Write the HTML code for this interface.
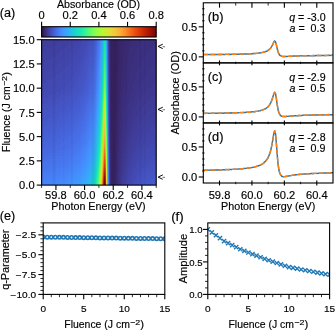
<!DOCTYPE html>
<html><head><meta charset="utf-8"><style>html,body{margin:0;padding:0;background:#fff;width:335px;height:330px;overflow:hidden}text{stroke:#000;stroke-width:0.15px}</style></head><body>
<svg width="335" height="330" viewBox="0 0 335 330" font-family="Liberation Sans, sans-serif" style="display:block;will-change:transform">
<rect width="335" height="330" fill="#fff"/>
<defs><linearGradient id="h0"><stop offset="0%" stop-color="#3f3e9c"/><stop offset="17%" stop-color="#3f3e9c"/><stop offset="17.13%" stop-color="#4040a2"/><stop offset="26.31%" stop-color="#4040a2"/><stop offset="26.44%" stop-color="#4143a7"/><stop offset="31.88%" stop-color="#4143a7"/><stop offset="32%" stop-color="#4146ac"/><stop offset="35.56%" stop-color="#4146ac"/><stop offset="35.69%" stop-color="#4249b1"/><stop offset="38.25%" stop-color="#4249b1"/><stop offset="38.38%" stop-color="#424bb5"/><stop offset="40.25%" stop-color="#424bb5"/><stop offset="40.38%" stop-color="#434eba"/><stop offset="41.81%" stop-color="#434eba"/><stop offset="42%" stop-color="#4451bf"/><stop offset="43.06%" stop-color="#4451bf"/><stop offset="43.25%" stop-color="#4454c3"/><stop offset="44.13%" stop-color="#4454c3"/><stop offset="44.31%" stop-color="#4456c7"/><stop offset="45%" stop-color="#4456c7"/><stop offset="45.19%" stop-color="#4559cb"/><stop offset="45.75%" stop-color="#4559cb"/><stop offset="46%" stop-color="#455ccf"/><stop offset="46.38%" stop-color="#455ccf"/><stop offset="46.69%" stop-color="#455ed3"/><stop offset="49.5%" stop-color="#4771e9"/><stop offset="51.25%" stop-color="#4687fb"/><stop offset="52.44%" stop-color="#3ba0fd"/><stop offset="53.37%" stop-color="#28bceb"/><stop offset="54.31%" stop-color="#18d9c8"/><stop offset="55.06%" stop-color="#19e3b9"/><stop offset="55.5%" stop-color="#18e0bd"/><stop offset="55.94%" stop-color="#1ad4d0"/><stop offset="56.44%" stop-color="#2eb4f2"/><stop offset="56.81%" stop-color="#4196ff"/><stop offset="57.19%" stop-color="#467df4"/><stop offset="57.88%" stop-color="#4456c7"/><stop offset="58.25%" stop-color="#4146ac"/><stop offset="58.37%" stop-color="#4143a7"/><stop offset="58.63%" stop-color="#3f3b97"/><stop offset="58.94%" stop-color="#3d358b"/><stop offset="59.06%" stop-color="#3c3286"/><stop offset="59.12%" stop-color="#3c3286"/><stop offset="59.19%" stop-color="#3b2f80"/><stop offset="59.31%" stop-color="#3b2f80"/><stop offset="59.38%" stop-color="#3a2d79"/><stop offset="59.5%" stop-color="#3a2d79"/><stop offset="59.56%" stop-color="#392a73"/><stop offset="59.81%" stop-color="#392a73"/><stop offset="59.87%" stop-color="#38276d"/><stop offset="60.13%" stop-color="#38276d"/><stop offset="60.19%" stop-color="#372466"/><stop offset="60.75%" stop-color="#372466"/><stop offset="60.81%" stop-color="#36215f"/><stop offset="65.94%" stop-color="#36215f"/><stop offset="66%" stop-color="#372466"/><stop offset="69%" stop-color="#372466"/><stop offset="69.06%" stop-color="#38276d"/><stop offset="72.81%" stop-color="#38276d"/><stop offset="72.87%" stop-color="#392a73"/><stop offset="78.25%" stop-color="#392a73"/><stop offset="78.31%" stop-color="#3a2d79"/><stop offset="86.94%" stop-color="#3a2d79"/><stop offset="87%" stop-color="#3b2f80"/><stop offset="100%" stop-color="#3b2f80"/></linearGradient><linearGradient id="h1"><stop offset="0%" stop-color="#3f3e9c"/><stop offset="13.63%" stop-color="#3f3e9c"/><stop offset="13.75%" stop-color="#4040a2"/><stop offset="24.25%" stop-color="#4040a2"/><stop offset="24.38%" stop-color="#4143a7"/><stop offset="30.5%" stop-color="#4143a7"/><stop offset="30.62%" stop-color="#4146ac"/><stop offset="34.56%" stop-color="#4146ac"/><stop offset="34.69%" stop-color="#4249b1"/><stop offset="37.44%" stop-color="#4249b1"/><stop offset="37.56%" stop-color="#424bb5"/><stop offset="39.56%" stop-color="#424bb5"/><stop offset="39.69%" stop-color="#434eba"/><stop offset="41.25%" stop-color="#434eba"/><stop offset="41.44%" stop-color="#4451bf"/><stop offset="42.63%" stop-color="#4451bf"/><stop offset="42.81%" stop-color="#4454c3"/><stop offset="43.69%" stop-color="#4454c3"/><stop offset="43.87%" stop-color="#4456c7"/><stop offset="44.62%" stop-color="#4456c7"/><stop offset="44.81%" stop-color="#4559cb"/><stop offset="45.37%" stop-color="#4559cb"/><stop offset="45.63%" stop-color="#455ccf"/><stop offset="46.06%" stop-color="#455ccf"/><stop offset="46.38%" stop-color="#455ed3"/><stop offset="48.75%" stop-color="#466be3"/><stop offset="50.81%" stop-color="#4682f8"/><stop offset="52.13%" stop-color="#3e9bfe"/><stop offset="52.94%" stop-color="#2fb2f4"/><stop offset="53.75%" stop-color="#1ecbda"/><stop offset="54.56%" stop-color="#18e0bd"/><stop offset="55.25%" stop-color="#1ce6b4"/><stop offset="55.81%" stop-color="#18dbc5"/><stop offset="56.25%" stop-color="#22c5e2"/><stop offset="56.69%" stop-color="#3aa3fc"/><stop offset="57%" stop-color="#458cfd"/><stop offset="57.5%" stop-color="#466be3"/><stop offset="58.12%" stop-color="#424bb5"/><stop offset="58.25%" stop-color="#4249b1"/><stop offset="58.44%" stop-color="#4040a2"/><stop offset="58.69%" stop-color="#3f3b97"/><stop offset="58.94%" stop-color="#3d358b"/><stop offset="59.12%" stop-color="#3c3286"/><stop offset="59.19%" stop-color="#3b2f80"/><stop offset="59.31%" stop-color="#3b2f80"/><stop offset="59.38%" stop-color="#3a2d79"/><stop offset="59.56%" stop-color="#3a2d79"/><stop offset="59.62%" stop-color="#392a73"/><stop offset="59.81%" stop-color="#392a73"/><stop offset="59.87%" stop-color="#38276d"/><stop offset="60.19%" stop-color="#38276d"/><stop offset="60.25%" stop-color="#372466"/><stop offset="60.75%" stop-color="#372466"/><stop offset="60.81%" stop-color="#36215f"/><stop offset="65.88%" stop-color="#36215f"/><stop offset="65.94%" stop-color="#372466"/><stop offset="68.81%" stop-color="#372466"/><stop offset="68.87%" stop-color="#38276d"/><stop offset="72.5%" stop-color="#38276d"/><stop offset="72.56%" stop-color="#392a73"/><stop offset="77.62%" stop-color="#392a73"/><stop offset="77.69%" stop-color="#3a2d79"/><stop offset="85.62%" stop-color="#3a2d79"/><stop offset="85.69%" stop-color="#3b2f80"/><stop offset="100%" stop-color="#3b2f80"/></linearGradient><linearGradient id="h2"><stop offset="0%" stop-color="#3f3e9c"/><stop offset="9.25%" stop-color="#3f3e9c"/><stop offset="9.38%" stop-color="#4040a2"/><stop offset="21.81%" stop-color="#4040a2"/><stop offset="21.94%" stop-color="#4143a7"/><stop offset="28.81%" stop-color="#4143a7"/><stop offset="28.94%" stop-color="#4146ac"/><stop offset="33.37%" stop-color="#4146ac"/><stop offset="33.5%" stop-color="#4249b1"/><stop offset="36.5%" stop-color="#4249b1"/><stop offset="36.62%" stop-color="#424bb5"/><stop offset="38.81%" stop-color="#424bb5"/><stop offset="38.94%" stop-color="#434eba"/><stop offset="40.62%" stop-color="#434eba"/><stop offset="40.81%" stop-color="#4451bf"/><stop offset="42.06%" stop-color="#4451bf"/><stop offset="42.25%" stop-color="#4454c3"/><stop offset="43.25%" stop-color="#4454c3"/><stop offset="43.44%" stop-color="#4456c7"/><stop offset="44.19%" stop-color="#4456c7"/><stop offset="44.37%" stop-color="#4559cb"/><stop offset="45%" stop-color="#4559cb"/><stop offset="45.25%" stop-color="#455ccf"/><stop offset="45.75%" stop-color="#455ccf"/><stop offset="46.06%" stop-color="#455ed3"/><stop offset="46.38%" stop-color="#455ed3"/><stop offset="46.69%" stop-color="#4661d6"/><stop offset="49.13%" stop-color="#4771e9"/><stop offset="51.31%" stop-color="#458cfd"/><stop offset="52.44%" stop-color="#38a5fb"/><stop offset="53.31%" stop-color="#25c0e7"/><stop offset="54.19%" stop-color="#18dbc5"/><stop offset="54.88%" stop-color="#1de7b2"/><stop offset="55.37%" stop-color="#1de7b2"/><stop offset="55.94%" stop-color="#18d9c8"/><stop offset="56.38%" stop-color="#27bee9"/><stop offset="56.75%" stop-color="#3ba0fd"/><stop offset="57.06%" stop-color="#458afc"/><stop offset="57.62%" stop-color="#4666dd"/><stop offset="58.37%" stop-color="#4143a7"/><stop offset="58.5%" stop-color="#4040a2"/><stop offset="59.25%" stop-color="#3b2f80"/><stop offset="59.31%" stop-color="#3b2f80"/><stop offset="59.38%" stop-color="#3a2d79"/><stop offset="59.56%" stop-color="#3a2d79"/><stop offset="59.62%" stop-color="#392a73"/><stop offset="59.81%" stop-color="#392a73"/><stop offset="59.87%" stop-color="#38276d"/><stop offset="60.19%" stop-color="#38276d"/><stop offset="60.25%" stop-color="#372466"/><stop offset="60.75%" stop-color="#372466"/><stop offset="60.81%" stop-color="#36215f"/><stop offset="65.81%" stop-color="#36215f"/><stop offset="65.88%" stop-color="#372466"/><stop offset="68.69%" stop-color="#372466"/><stop offset="68.75%" stop-color="#38276d"/><stop offset="72.19%" stop-color="#38276d"/><stop offset="72.25%" stop-color="#392a73"/><stop offset="77%" stop-color="#392a73"/><stop offset="77.06%" stop-color="#3a2d79"/><stop offset="84.37%" stop-color="#3a2d79"/><stop offset="84.44%" stop-color="#3b2f80"/><stop offset="97.5%" stop-color="#3b2f80"/><stop offset="97.56%" stop-color="#3c3286"/><stop offset="100%" stop-color="#3c3286"/></linearGradient><linearGradient id="h3"><stop offset="0%" stop-color="#3f3e9c"/><stop offset="4.19%" stop-color="#3f3e9c"/><stop offset="4.31%" stop-color="#4040a2"/><stop offset="19%" stop-color="#4040a2"/><stop offset="19.12%" stop-color="#4143a7"/><stop offset="27%" stop-color="#4143a7"/><stop offset="27.12%" stop-color="#4146ac"/><stop offset="32.06%" stop-color="#4146ac"/><stop offset="32.19%" stop-color="#4249b1"/><stop offset="35.5%" stop-color="#4249b1"/><stop offset="35.62%" stop-color="#424bb5"/><stop offset="38%" stop-color="#424bb5"/><stop offset="38.12%" stop-color="#434eba"/><stop offset="39.94%" stop-color="#434eba"/><stop offset="40.12%" stop-color="#4451bf"/><stop offset="41.5%" stop-color="#4451bf"/><stop offset="41.69%" stop-color="#4454c3"/><stop offset="42.75%" stop-color="#4454c3"/><stop offset="42.94%" stop-color="#4456c7"/><stop offset="43.75%" stop-color="#4456c7"/><stop offset="43.94%" stop-color="#4559cb"/><stop offset="44.62%" stop-color="#4559cb"/><stop offset="44.88%" stop-color="#455ccf"/><stop offset="45.37%" stop-color="#455ccf"/><stop offset="45.69%" stop-color="#455ed3"/><stop offset="46%" stop-color="#455ed3"/><stop offset="46.31%" stop-color="#4661d6"/><stop offset="48.62%" stop-color="#476ee6"/><stop offset="50.69%" stop-color="#4685fa"/><stop offset="52%" stop-color="#3d9efe"/><stop offset="52.81%" stop-color="#2eb4f2"/><stop offset="53.69%" stop-color="#1bd0d5"/><stop offset="54.44%" stop-color="#19e3b9"/><stop offset="55%" stop-color="#20eaac"/><stop offset="55.44%" stop-color="#1fe9af"/><stop offset="55.87%" stop-color="#18dec0"/><stop offset="56.31%" stop-color="#20c7df"/><stop offset="56.75%" stop-color="#3aa3fc"/><stop offset="57.06%" stop-color="#458cfd"/><stop offset="57.5%" stop-color="#476ee6"/><stop offset="58.25%" stop-color="#4249b1"/><stop offset="58.37%" stop-color="#4146ac"/><stop offset="58.5%" stop-color="#4040a2"/><stop offset="58.63%" stop-color="#3f3e9c"/><stop offset="59.12%" stop-color="#3c3286"/><stop offset="59.19%" stop-color="#3c3286"/><stop offset="59.25%" stop-color="#3b2f80"/><stop offset="59.38%" stop-color="#3b2f80"/><stop offset="59.44%" stop-color="#3a2d79"/><stop offset="59.56%" stop-color="#3a2d79"/><stop offset="59.62%" stop-color="#392a73"/><stop offset="59.81%" stop-color="#392a73"/><stop offset="59.87%" stop-color="#38276d"/><stop offset="60.19%" stop-color="#38276d"/><stop offset="60.25%" stop-color="#372466"/><stop offset="60.75%" stop-color="#372466"/><stop offset="60.81%" stop-color="#36215f"/><stop offset="65.75%" stop-color="#36215f"/><stop offset="65.81%" stop-color="#372466"/><stop offset="68.5%" stop-color="#372466"/><stop offset="68.56%" stop-color="#38276d"/><stop offset="71.87%" stop-color="#38276d"/><stop offset="71.94%" stop-color="#392a73"/><stop offset="76.44%" stop-color="#392a73"/><stop offset="76.5%" stop-color="#3a2d79"/><stop offset="83.25%" stop-color="#3a2d79"/><stop offset="83.31%" stop-color="#3b2f80"/><stop offset="94.94%" stop-color="#3b2f80"/><stop offset="95%" stop-color="#3c3286"/><stop offset="100%" stop-color="#3c3286"/></linearGradient><linearGradient id="h4"><stop offset="0%" stop-color="#4040a2"/><stop offset="15.81%" stop-color="#4040a2"/><stop offset="15.94%" stop-color="#4143a7"/><stop offset="25%" stop-color="#4143a7"/><stop offset="25.13%" stop-color="#4146ac"/><stop offset="30.62%" stop-color="#4146ac"/><stop offset="30.75%" stop-color="#4249b1"/><stop offset="34.44%" stop-color="#4249b1"/><stop offset="34.56%" stop-color="#424bb5"/><stop offset="37.19%" stop-color="#424bb5"/><stop offset="37.31%" stop-color="#434eba"/><stop offset="39.25%" stop-color="#434eba"/><stop offset="39.44%" stop-color="#4451bf"/><stop offset="40.87%" stop-color="#4451bf"/><stop offset="41.06%" stop-color="#4454c3"/><stop offset="42.19%" stop-color="#4454c3"/><stop offset="42.37%" stop-color="#4456c7"/><stop offset="43.31%" stop-color="#4456c7"/><stop offset="43.5%" stop-color="#4559cb"/><stop offset="44.25%" stop-color="#4559cb"/><stop offset="44.5%" stop-color="#455ccf"/><stop offset="45%" stop-color="#455ccf"/><stop offset="45.31%" stop-color="#455ed3"/><stop offset="45.69%" stop-color="#455ed3"/><stop offset="46%" stop-color="#4661d6"/><stop offset="48.06%" stop-color="#466be3"/><stop offset="50.37%" stop-color="#4682f8"/><stop offset="51.81%" stop-color="#3e9bfe"/><stop offset="52.81%" stop-color="#2cb7f0"/><stop offset="53.87%" stop-color="#18d9c8"/><stop offset="54.62%" stop-color="#1fe9af"/><stop offset="55%" stop-color="#25eca7"/><stop offset="55.44%" stop-color="#22ebaa"/><stop offset="55.94%" stop-color="#18dec0"/><stop offset="56.31%" stop-color="#1fc9dd"/><stop offset="56.81%" stop-color="#3ba0fd"/><stop offset="57.13%" stop-color="#458afc"/><stop offset="57.62%" stop-color="#4669e0"/><stop offset="57.94%" stop-color="#4559cb"/><stop offset="58.12%" stop-color="#434eba"/><stop offset="58.25%" stop-color="#424bb5"/><stop offset="58.44%" stop-color="#4143a7"/><stop offset="58.56%" stop-color="#4040a2"/><stop offset="58.81%" stop-color="#3e3891"/><stop offset="59.06%" stop-color="#3d358b"/><stop offset="59.31%" stop-color="#3b2f80"/><stop offset="59.38%" stop-color="#3b2f80"/><stop offset="59.44%" stop-color="#3a2d79"/><stop offset="59.56%" stop-color="#3a2d79"/><stop offset="59.62%" stop-color="#392a73"/><stop offset="59.87%" stop-color="#392a73"/><stop offset="59.94%" stop-color="#38276d"/><stop offset="60.19%" stop-color="#38276d"/><stop offset="60.25%" stop-color="#372466"/><stop offset="60.75%" stop-color="#372466"/><stop offset="60.81%" stop-color="#36215f"/><stop offset="65.69%" stop-color="#36215f"/><stop offset="65.75%" stop-color="#372466"/><stop offset="68.37%" stop-color="#372466"/><stop offset="68.44%" stop-color="#38276d"/><stop offset="71.56%" stop-color="#38276d"/><stop offset="71.63%" stop-color="#392a73"/><stop offset="75.87%" stop-color="#392a73"/><stop offset="75.94%" stop-color="#3a2d79"/><stop offset="82.25%" stop-color="#3a2d79"/><stop offset="82.31%" stop-color="#3b2f80"/><stop offset="92.75%" stop-color="#3b2f80"/><stop offset="92.81%" stop-color="#3c3286"/><stop offset="100%" stop-color="#3c3286"/></linearGradient><linearGradient id="h5"><stop offset="0%" stop-color="#4040a2"/><stop offset="12.19%" stop-color="#4040a2"/><stop offset="12.31%" stop-color="#4143a7"/><stop offset="22.75%" stop-color="#4143a7"/><stop offset="22.87%" stop-color="#4146ac"/><stop offset="29.06%" stop-color="#4146ac"/><stop offset="29.19%" stop-color="#4249b1"/><stop offset="33.25%" stop-color="#4249b1"/><stop offset="33.37%" stop-color="#424bb5"/><stop offset="36.25%" stop-color="#424bb5"/><stop offset="36.37%" stop-color="#434eba"/><stop offset="38.5%" stop-color="#434eba"/><stop offset="38.69%" stop-color="#4451bf"/><stop offset="40.25%" stop-color="#4451bf"/><stop offset="40.44%" stop-color="#4454c3"/><stop offset="41.69%" stop-color="#4454c3"/><stop offset="41.88%" stop-color="#4456c7"/><stop offset="42.81%" stop-color="#4456c7"/><stop offset="43%" stop-color="#4559cb"/><stop offset="43.81%" stop-color="#4559cb"/><stop offset="44.06%" stop-color="#455ccf"/><stop offset="44.62%" stop-color="#455ccf"/><stop offset="44.94%" stop-color="#455ed3"/><stop offset="45.37%" stop-color="#455ed3"/><stop offset="45.69%" stop-color="#4661d6"/><stop offset="48.56%" stop-color="#4771e9"/><stop offset="50.56%" stop-color="#4687fb"/><stop offset="51.87%" stop-color="#3ba0fd"/><stop offset="52.69%" stop-color="#2cb7f0"/><stop offset="53.63%" stop-color="#1ad4d0"/><stop offset="54.31%" stop-color="#1ce6b4"/><stop offset="55%" stop-color="#2aefa1"/><stop offset="55.44%" stop-color="#27eea4"/><stop offset="56%" stop-color="#18dec0"/><stop offset="56.38%" stop-color="#20c7df"/><stop offset="56.81%" stop-color="#3aa3fc"/><stop offset="57.13%" stop-color="#458afc"/><stop offset="57.56%" stop-color="#476ee6"/><stop offset="58.19%" stop-color="#434eba"/><stop offset="58.44%" stop-color="#4143a7"/><stop offset="58.56%" stop-color="#4040a2"/><stop offset="59.31%" stop-color="#3b2f80"/><stop offset="59.38%" stop-color="#3b2f80"/><stop offset="59.44%" stop-color="#3a2d79"/><stop offset="59.62%" stop-color="#3a2d79"/><stop offset="59.69%" stop-color="#392a73"/><stop offset="59.87%" stop-color="#392a73"/><stop offset="59.94%" stop-color="#38276d"/><stop offset="60.25%" stop-color="#38276d"/><stop offset="60.31%" stop-color="#372466"/><stop offset="60.75%" stop-color="#372466"/><stop offset="60.81%" stop-color="#36215f"/><stop offset="65.62%" stop-color="#36215f"/><stop offset="65.69%" stop-color="#372466"/><stop offset="68.25%" stop-color="#372466"/><stop offset="68.31%" stop-color="#38276d"/><stop offset="71.31%" stop-color="#38276d"/><stop offset="71.37%" stop-color="#392a73"/><stop offset="75.44%" stop-color="#392a73"/><stop offset="75.5%" stop-color="#3a2d79"/><stop offset="81.31%" stop-color="#3a2d79"/><stop offset="81.37%" stop-color="#3b2f80"/><stop offset="90.81%" stop-color="#3b2f80"/><stop offset="90.87%" stop-color="#3c3286"/><stop offset="100%" stop-color="#3c3286"/></linearGradient><linearGradient id="h6"><stop offset="0%" stop-color="#4040a2"/><stop offset="7.94%" stop-color="#4040a2"/><stop offset="8.06%" stop-color="#4143a7"/><stop offset="20.25%" stop-color="#4143a7"/><stop offset="20.37%" stop-color="#4146ac"/><stop offset="27.38%" stop-color="#4146ac"/><stop offset="27.5%" stop-color="#4249b1"/><stop offset="32.06%" stop-color="#4249b1"/><stop offset="32.19%" stop-color="#424bb5"/><stop offset="35.31%" stop-color="#424bb5"/><stop offset="35.44%" stop-color="#434eba"/><stop offset="37.75%" stop-color="#434eba"/><stop offset="37.94%" stop-color="#4451bf"/><stop offset="39.63%" stop-color="#4451bf"/><stop offset="39.81%" stop-color="#4454c3"/><stop offset="41.13%" stop-color="#4454c3"/><stop offset="41.31%" stop-color="#4456c7"/><stop offset="42.37%" stop-color="#4456c7"/><stop offset="42.56%" stop-color="#4559cb"/><stop offset="43.38%" stop-color="#4559cb"/><stop offset="43.62%" stop-color="#455ccf"/><stop offset="44.25%" stop-color="#455ccf"/><stop offset="44.56%" stop-color="#455ed3"/><stop offset="45%" stop-color="#455ed3"/><stop offset="45.31%" stop-color="#4661d6"/><stop offset="48.31%" stop-color="#4771e9"/><stop offset="50.44%" stop-color="#4687fb"/><stop offset="51.81%" stop-color="#3ba0fd"/><stop offset="52.75%" stop-color="#28bceb"/><stop offset="53.75%" stop-color="#18dbc5"/><stop offset="54.37%" stop-color="#20eaac"/><stop offset="55%" stop-color="#2ff19b"/><stop offset="55.44%" stop-color="#2cf09e"/><stop offset="56.06%" stop-color="#18dec0"/><stop offset="56.44%" stop-color="#20c7df"/><stop offset="56.81%" stop-color="#38a5fb"/><stop offset="57.13%" stop-color="#458cfd"/><stop offset="57.62%" stop-color="#466be3"/><stop offset="58.25%" stop-color="#424bb5"/><stop offset="58.5%" stop-color="#4143a7"/><stop offset="58.75%" stop-color="#3f3b97"/><stop offset="59.06%" stop-color="#3d358b"/><stop offset="59.19%" stop-color="#3c3286"/><stop offset="59.25%" stop-color="#3c3286"/><stop offset="59.31%" stop-color="#3b2f80"/><stop offset="59.38%" stop-color="#3b2f80"/><stop offset="59.44%" stop-color="#3a2d79"/><stop offset="59.62%" stop-color="#3a2d79"/><stop offset="59.69%" stop-color="#392a73"/><stop offset="59.87%" stop-color="#392a73"/><stop offset="59.94%" stop-color="#38276d"/><stop offset="60.25%" stop-color="#38276d"/><stop offset="60.31%" stop-color="#372466"/><stop offset="60.81%" stop-color="#372466"/><stop offset="60.87%" stop-color="#36215f"/><stop offset="65.56%" stop-color="#36215f"/><stop offset="65.62%" stop-color="#372466"/><stop offset="68.06%" stop-color="#372466"/><stop offset="68.13%" stop-color="#38276d"/><stop offset="71.06%" stop-color="#38276d"/><stop offset="71.12%" stop-color="#392a73"/><stop offset="74.94%" stop-color="#392a73"/><stop offset="75%" stop-color="#3a2d79"/><stop offset="80.5%" stop-color="#3a2d79"/><stop offset="80.56%" stop-color="#3b2f80"/><stop offset="89.19%" stop-color="#3b2f80"/><stop offset="89.25%" stop-color="#3c3286"/><stop offset="100%" stop-color="#3c3286"/></linearGradient><linearGradient id="h7"><stop offset="0%" stop-color="#4040a2"/><stop offset="2.88%" stop-color="#4040a2"/><stop offset="3%" stop-color="#4143a7"/><stop offset="17.44%" stop-color="#4143a7"/><stop offset="17.56%" stop-color="#4146ac"/><stop offset="25.56%" stop-color="#4146ac"/><stop offset="25.69%" stop-color="#4249b1"/><stop offset="30.69%" stop-color="#4249b1"/><stop offset="30.81%" stop-color="#424bb5"/><stop offset="34.25%" stop-color="#424bb5"/><stop offset="34.37%" stop-color="#434eba"/><stop offset="36.94%" stop-color="#434eba"/><stop offset="37.12%" stop-color="#4451bf"/><stop offset="38.94%" stop-color="#4451bf"/><stop offset="39.13%" stop-color="#4454c3"/><stop offset="40.56%" stop-color="#4454c3"/><stop offset="40.75%" stop-color="#4456c7"/><stop offset="41.88%" stop-color="#4456c7"/><stop offset="42.06%" stop-color="#4559cb"/><stop offset="42.94%" stop-color="#4559cb"/><stop offset="43.19%" stop-color="#455ccf"/><stop offset="43.87%" stop-color="#455ccf"/><stop offset="44.19%" stop-color="#455ed3"/><stop offset="44.62%" stop-color="#455ed3"/><stop offset="44.94%" stop-color="#4661d6"/><stop offset="46.94%" stop-color="#4669e0"/><stop offset="49.69%" stop-color="#4680f6"/><stop offset="51.19%" stop-color="#4196ff"/><stop offset="52.25%" stop-color="#31aff5"/><stop offset="52.94%" stop-color="#22c5e2"/><stop offset="53.81%" stop-color="#18dec0"/><stop offset="54.5%" stop-color="#27eea4"/><stop offset="54.88%" stop-color="#32f298"/><stop offset="55.25%" stop-color="#35f394"/><stop offset="55.69%" stop-color="#27eea4"/><stop offset="56.06%" stop-color="#18e0bd"/><stop offset="56.44%" stop-color="#1fc9dd"/><stop offset="56.81%" stop-color="#37a8fa"/><stop offset="57.13%" stop-color="#448ffe"/><stop offset="57.56%" stop-color="#4771e9"/><stop offset="58%" stop-color="#4559cb"/><stop offset="58.19%" stop-color="#434eba"/><stop offset="58.31%" stop-color="#424bb5"/><stop offset="58.56%" stop-color="#4040a2"/><stop offset="58.81%" stop-color="#3f3b97"/><stop offset="59.19%" stop-color="#3c3286"/><stop offset="59.25%" stop-color="#3c3286"/><stop offset="59.31%" stop-color="#3b2f80"/><stop offset="59.44%" stop-color="#3b2f80"/><stop offset="59.5%" stop-color="#3a2d79"/><stop offset="59.62%" stop-color="#3a2d79"/><stop offset="59.69%" stop-color="#392a73"/><stop offset="59.87%" stop-color="#392a73"/><stop offset="59.94%" stop-color="#38276d"/><stop offset="60.25%" stop-color="#38276d"/><stop offset="60.31%" stop-color="#372466"/><stop offset="60.81%" stop-color="#372466"/><stop offset="60.87%" stop-color="#36215f"/><stop offset="65.44%" stop-color="#36215f"/><stop offset="65.5%" stop-color="#372466"/><stop offset="67.94%" stop-color="#372466"/><stop offset="68%" stop-color="#38276d"/><stop offset="70.81%" stop-color="#38276d"/><stop offset="70.88%" stop-color="#392a73"/><stop offset="74.56%" stop-color="#392a73"/><stop offset="74.63%" stop-color="#3a2d79"/><stop offset="79.69%" stop-color="#3a2d79"/><stop offset="79.75%" stop-color="#3b2f80"/><stop offset="87.69%" stop-color="#3b2f80"/><stop offset="87.75%" stop-color="#3c3286"/><stop offset="100%" stop-color="#3c3286"/></linearGradient><linearGradient id="h8"><stop offset="0%" stop-color="#4143a7"/><stop offset="14.25%" stop-color="#4143a7"/><stop offset="14.38%" stop-color="#4146ac"/><stop offset="23.5%" stop-color="#4146ac"/><stop offset="23.63%" stop-color="#4249b1"/><stop offset="29.25%" stop-color="#4249b1"/><stop offset="29.37%" stop-color="#424bb5"/><stop offset="33.19%" stop-color="#424bb5"/><stop offset="33.31%" stop-color="#434eba"/><stop offset="36%" stop-color="#434eba"/><stop offset="36.19%" stop-color="#4451bf"/><stop offset="38.19%" stop-color="#4451bf"/><stop offset="38.38%" stop-color="#4454c3"/><stop offset="39.94%" stop-color="#4454c3"/><stop offset="40.12%" stop-color="#4456c7"/><stop offset="41.31%" stop-color="#4456c7"/><stop offset="41.5%" stop-color="#4559cb"/><stop offset="42.5%" stop-color="#4559cb"/><stop offset="42.75%" stop-color="#455ccf"/><stop offset="43.44%" stop-color="#455ccf"/><stop offset="43.75%" stop-color="#455ed3"/><stop offset="44.25%" stop-color="#455ed3"/><stop offset="44.56%" stop-color="#4661d6"/><stop offset="45%" stop-color="#4661d6"/><stop offset="45.44%" stop-color="#4664da"/><stop offset="48.56%" stop-color="#4776ee"/><stop offset="50.87%" stop-color="#4294ff"/><stop offset="52.06%" stop-color="#33adf7"/><stop offset="52.94%" stop-color="#20c7df"/><stop offset="53.69%" stop-color="#18dec0"/><stop offset="54.31%" stop-color="#25eca7"/><stop offset="54.75%" stop-color="#35f394"/><stop offset="55.19%" stop-color="#3cf58e"/><stop offset="55.63%" stop-color="#2ff19b"/><stop offset="56.06%" stop-color="#19e3b9"/><stop offset="56.38%" stop-color="#1bd0d5"/><stop offset="56.81%" stop-color="#35abf8"/><stop offset="57.13%" stop-color="#4391fe"/><stop offset="57.5%" stop-color="#4776ee"/><stop offset="58.12%" stop-color="#4454c3"/><stop offset="58.5%" stop-color="#4143a7"/><stop offset="58.63%" stop-color="#4040a2"/><stop offset="58.94%" stop-color="#3e3891"/><stop offset="59.06%" stop-color="#3d358b"/><stop offset="59.25%" stop-color="#3c3286"/><stop offset="59.31%" stop-color="#3b2f80"/><stop offset="59.44%" stop-color="#3b2f80"/><stop offset="59.5%" stop-color="#3a2d79"/><stop offset="59.62%" stop-color="#3a2d79"/><stop offset="59.69%" stop-color="#392a73"/><stop offset="59.87%" stop-color="#392a73"/><stop offset="59.94%" stop-color="#38276d"/><stop offset="60.25%" stop-color="#38276d"/><stop offset="60.31%" stop-color="#372466"/><stop offset="60.81%" stop-color="#372466"/><stop offset="60.87%" stop-color="#36215f"/><stop offset="65.44%" stop-color="#36215f"/><stop offset="65.5%" stop-color="#372466"/><stop offset="67.81%" stop-color="#372466"/><stop offset="67.87%" stop-color="#38276d"/><stop offset="70.62%" stop-color="#38276d"/><stop offset="70.69%" stop-color="#392a73"/><stop offset="74.12%" stop-color="#392a73"/><stop offset="74.19%" stop-color="#3a2d79"/><stop offset="79%" stop-color="#3a2d79"/><stop offset="79.06%" stop-color="#3b2f80"/><stop offset="86.31%" stop-color="#3b2f80"/><stop offset="86.37%" stop-color="#3c3286"/><stop offset="98.87%" stop-color="#3c3286"/><stop offset="99%" stop-color="#3d358b"/><stop offset="100%" stop-color="#3d358b"/></linearGradient><linearGradient id="h9"><stop offset="0%" stop-color="#4143a7"/><stop offset="10.63%" stop-color="#4143a7"/><stop offset="10.75%" stop-color="#4146ac"/><stop offset="21.25%" stop-color="#4146ac"/><stop offset="21.37%" stop-color="#4249b1"/><stop offset="27.69%" stop-color="#4249b1"/><stop offset="27.81%" stop-color="#424bb5"/><stop offset="32%" stop-color="#424bb5"/><stop offset="32.12%" stop-color="#434eba"/><stop offset="35.12%" stop-color="#434eba"/><stop offset="35.31%" stop-color="#4451bf"/><stop offset="37.44%" stop-color="#4451bf"/><stop offset="37.63%" stop-color="#4454c3"/><stop offset="39.31%" stop-color="#4454c3"/><stop offset="39.5%" stop-color="#4456c7"/><stop offset="40.75%" stop-color="#4456c7"/><stop offset="40.94%" stop-color="#4559cb"/><stop offset="42%" stop-color="#4559cb"/><stop offset="42.25%" stop-color="#455ccf"/><stop offset="43%" stop-color="#455ccf"/><stop offset="43.31%" stop-color="#455ed3"/><stop offset="43.87%" stop-color="#455ed3"/><stop offset="44.19%" stop-color="#4661d6"/><stop offset="44.62%" stop-color="#4661d6"/><stop offset="45.06%" stop-color="#4664da"/><stop offset="48%" stop-color="#4773eb"/><stop offset="50.37%" stop-color="#458cfd"/><stop offset="51.69%" stop-color="#38a5fb"/><stop offset="52.62%" stop-color="#25c0e7"/><stop offset="53.56%" stop-color="#18ddc2"/><stop offset="54.19%" stop-color="#25eca7"/><stop offset="54.75%" stop-color="#3cf58e"/><stop offset="55.19%" stop-color="#43f787"/><stop offset="55.5%" stop-color="#38f491"/><stop offset="55.94%" stop-color="#20eaac"/><stop offset="56.25%" stop-color="#18dbc5"/><stop offset="56.56%" stop-color="#22c5e2"/><stop offset="56.87%" stop-color="#37a8fa"/><stop offset="57.19%" stop-color="#448ffe"/><stop offset="57.69%" stop-color="#466be3"/><stop offset="58.31%" stop-color="#424bb5"/><stop offset="58.44%" stop-color="#4146ac"/><stop offset="58.56%" stop-color="#4143a7"/><stop offset="58.81%" stop-color="#3f3b97"/><stop offset="59.12%" stop-color="#3d358b"/><stop offset="59.38%" stop-color="#3b2f80"/><stop offset="59.44%" stop-color="#3b2f80"/><stop offset="59.5%" stop-color="#3a2d79"/><stop offset="59.62%" stop-color="#3a2d79"/><stop offset="59.69%" stop-color="#392a73"/><stop offset="59.94%" stop-color="#392a73"/><stop offset="60%" stop-color="#38276d"/><stop offset="60.25%" stop-color="#38276d"/><stop offset="60.31%" stop-color="#372466"/><stop offset="60.81%" stop-color="#372466"/><stop offset="60.87%" stop-color="#36215f"/><stop offset="65.37%" stop-color="#36215f"/><stop offset="65.44%" stop-color="#372466"/><stop offset="67.69%" stop-color="#372466"/><stop offset="67.75%" stop-color="#38276d"/><stop offset="70.37%" stop-color="#38276d"/><stop offset="70.44%" stop-color="#392a73"/><stop offset="73.75%" stop-color="#392a73"/><stop offset="73.81%" stop-color="#3a2d79"/><stop offset="78.37%" stop-color="#3a2d79"/><stop offset="78.44%" stop-color="#3b2f80"/><stop offset="85.12%" stop-color="#3b2f80"/><stop offset="85.19%" stop-color="#3c3286"/><stop offset="96.38%" stop-color="#3c3286"/><stop offset="96.5%" stop-color="#3d358b"/><stop offset="100%" stop-color="#3d358b"/></linearGradient><linearGradient id="h10"><stop offset="0%" stop-color="#4143a7"/><stop offset="6.38%" stop-color="#4143a7"/><stop offset="6.5%" stop-color="#4146ac"/><stop offset="18.69%" stop-color="#4146ac"/><stop offset="18.81%" stop-color="#4249b1"/><stop offset="25.94%" stop-color="#4249b1"/><stop offset="26.06%" stop-color="#424bb5"/><stop offset="30.69%" stop-color="#424bb5"/><stop offset="30.81%" stop-color="#434eba"/><stop offset="34.12%" stop-color="#434eba"/><stop offset="34.31%" stop-color="#4451bf"/><stop offset="36.62%" stop-color="#4451bf"/><stop offset="36.81%" stop-color="#4454c3"/><stop offset="38.62%" stop-color="#4454c3"/><stop offset="38.81%" stop-color="#4456c7"/><stop offset="40.19%" stop-color="#4456c7"/><stop offset="40.38%" stop-color="#4559cb"/><stop offset="41.5%" stop-color="#4559cb"/><stop offset="41.75%" stop-color="#455ccf"/><stop offset="42.56%" stop-color="#455ccf"/><stop offset="42.87%" stop-color="#455ed3"/><stop offset="43.5%" stop-color="#455ed3"/><stop offset="43.81%" stop-color="#4661d6"/><stop offset="44.31%" stop-color="#4661d6"/><stop offset="44.75%" stop-color="#4664da"/><stop offset="47.81%" stop-color="#4773eb"/><stop offset="50.19%" stop-color="#458cfd"/><stop offset="51.56%" stop-color="#38a5fb"/><stop offset="52.44%" stop-color="#27bee9"/><stop offset="53.25%" stop-color="#19d5cd"/><stop offset="53.87%" stop-color="#1de7b2"/><stop offset="54.75%" stop-color="#43f787"/><stop offset="55.31%" stop-color="#46f884"/><stop offset="55.75%" stop-color="#32f298"/><stop offset="56.06%" stop-color="#1de7b2"/><stop offset="56.38%" stop-color="#19d5cd"/><stop offset="56.75%" stop-color="#2cb7f0"/><stop offset="57.06%" stop-color="#3e9bfe"/><stop offset="57.44%" stop-color="#467df4"/><stop offset="57.94%" stop-color="#455ed3"/><stop offset="58.31%" stop-color="#424bb5"/><stop offset="58.44%" stop-color="#4249b1"/><stop offset="58.63%" stop-color="#4040a2"/><stop offset="58.75%" stop-color="#3f3e9c"/><stop offset="59.25%" stop-color="#3c3286"/><stop offset="59.31%" stop-color="#3c3286"/><stop offset="59.38%" stop-color="#3b2f80"/><stop offset="59.44%" stop-color="#3b2f80"/><stop offset="59.5%" stop-color="#3a2d79"/><stop offset="59.69%" stop-color="#3a2d79"/><stop offset="59.75%" stop-color="#392a73"/><stop offset="59.94%" stop-color="#392a73"/><stop offset="60%" stop-color="#38276d"/><stop offset="60.25%" stop-color="#38276d"/><stop offset="60.31%" stop-color="#372466"/><stop offset="60.81%" stop-color="#372466"/><stop offset="60.87%" stop-color="#36215f"/><stop offset="65.31%" stop-color="#36215f"/><stop offset="65.37%" stop-color="#372466"/><stop offset="67.56%" stop-color="#372466"/><stop offset="67.62%" stop-color="#38276d"/><stop offset="70.19%" stop-color="#38276d"/><stop offset="70.25%" stop-color="#392a73"/><stop offset="73.44%" stop-color="#392a73"/><stop offset="73.5%" stop-color="#3a2d79"/><stop offset="77.75%" stop-color="#3a2d79"/><stop offset="77.81%" stop-color="#3b2f80"/><stop offset="84.06%" stop-color="#3b2f80"/><stop offset="84.12%" stop-color="#3c3286"/><stop offset="94.19%" stop-color="#3c3286"/><stop offset="94.31%" stop-color="#3d358b"/><stop offset="100%" stop-color="#3d358b"/></linearGradient><linearGradient id="h11"><stop offset="0%" stop-color="#4143a7"/><stop offset="1.44%" stop-color="#4143a7"/><stop offset="1.56%" stop-color="#4146ac"/><stop offset="15.88%" stop-color="#4146ac"/><stop offset="16%" stop-color="#4249b1"/><stop offset="24.06%" stop-color="#4249b1"/><stop offset="24.19%" stop-color="#424bb5"/><stop offset="29.31%" stop-color="#424bb5"/><stop offset="29.44%" stop-color="#434eba"/><stop offset="33.06%" stop-color="#434eba"/><stop offset="33.25%" stop-color="#4451bf"/><stop offset="35.81%" stop-color="#4451bf"/><stop offset="36%" stop-color="#4454c3"/><stop offset="37.87%" stop-color="#4454c3"/><stop offset="38.06%" stop-color="#4456c7"/><stop offset="39.63%" stop-color="#4456c7"/><stop offset="39.81%" stop-color="#4559cb"/><stop offset="41%" stop-color="#4559cb"/><stop offset="41.25%" stop-color="#455ccf"/><stop offset="42.12%" stop-color="#455ccf"/><stop offset="42.44%" stop-color="#455ed3"/><stop offset="43.06%" stop-color="#455ed3"/><stop offset="43.38%" stop-color="#4661d6"/><stop offset="43.94%" stop-color="#4661d6"/><stop offset="44.37%" stop-color="#4664da"/><stop offset="47.56%" stop-color="#4773eb"/><stop offset="49.88%" stop-color="#458afc"/><stop offset="51.31%" stop-color="#3aa3fc"/><stop offset="52.19%" stop-color="#2ab9ee"/><stop offset="52.94%" stop-color="#1bd0d5"/><stop offset="53.63%" stop-color="#19e3b9"/><stop offset="54.37%" stop-color="#35f394"/><stop offset="54.81%" stop-color="#4af880"/><stop offset="55.31%" stop-color="#4ef97d"/><stop offset="55.69%" stop-color="#3cf58e"/><stop offset="56.12%" stop-color="#1ce6b4"/><stop offset="56.44%" stop-color="#1ad4d0"/><stop offset="56.81%" stop-color="#2fb2f4"/><stop offset="57.13%" stop-color="#4196ff"/><stop offset="57.5%" stop-color="#477bf2"/><stop offset="58.06%" stop-color="#4559cb"/><stop offset="58.56%" stop-color="#4143a7"/><stop offset="58.69%" stop-color="#4040a2"/><stop offset="58.94%" stop-color="#3e3891"/><stop offset="59.25%" stop-color="#3c3286"/><stop offset="59.31%" stop-color="#3c3286"/><stop offset="59.38%" stop-color="#3b2f80"/><stop offset="59.5%" stop-color="#3b2f80"/><stop offset="59.56%" stop-color="#3a2d79"/><stop offset="59.69%" stop-color="#3a2d79"/><stop offset="59.75%" stop-color="#392a73"/><stop offset="59.94%" stop-color="#392a73"/><stop offset="60%" stop-color="#38276d"/><stop offset="60.31%" stop-color="#38276d"/><stop offset="60.37%" stop-color="#372466"/><stop offset="60.81%" stop-color="#372466"/><stop offset="60.87%" stop-color="#36215f"/><stop offset="65.25%" stop-color="#36215f"/><stop offset="65.31%" stop-color="#372466"/><stop offset="67.5%" stop-color="#372466"/><stop offset="67.56%" stop-color="#38276d"/><stop offset="70%" stop-color="#38276d"/><stop offset="70.06%" stop-color="#392a73"/><stop offset="73.13%" stop-color="#392a73"/><stop offset="73.19%" stop-color="#3a2d79"/><stop offset="77.25%" stop-color="#3a2d79"/><stop offset="77.31%" stop-color="#3b2f80"/><stop offset="83.06%" stop-color="#3b2f80"/><stop offset="83.12%" stop-color="#3c3286"/><stop offset="92.31%" stop-color="#3c3286"/><stop offset="92.44%" stop-color="#3d358b"/><stop offset="100%" stop-color="#3d358b"/></linearGradient><linearGradient id="h12"><stop offset="0%" stop-color="#4146ac"/><stop offset="12.62%" stop-color="#4146ac"/><stop offset="12.75%" stop-color="#4249b1"/><stop offset="21.94%" stop-color="#4249b1"/><stop offset="22.06%" stop-color="#424bb5"/><stop offset="27.81%" stop-color="#424bb5"/><stop offset="27.94%" stop-color="#434eba"/><stop offset="31.88%" stop-color="#434eba"/><stop offset="32.06%" stop-color="#4451bf"/><stop offset="34.87%" stop-color="#4451bf"/><stop offset="35.06%" stop-color="#4454c3"/><stop offset="37.19%" stop-color="#4454c3"/><stop offset="37.37%" stop-color="#4456c7"/><stop offset="38.94%" stop-color="#4456c7"/><stop offset="39.13%" stop-color="#4559cb"/><stop offset="40.44%" stop-color="#4559cb"/><stop offset="40.69%" stop-color="#455ccf"/><stop offset="41.62%" stop-color="#455ccf"/><stop offset="41.94%" stop-color="#455ed3"/><stop offset="42.69%" stop-color="#455ed3"/><stop offset="43%" stop-color="#4661d6"/><stop offset="43.56%" stop-color="#4661d6"/><stop offset="44%" stop-color="#4664da"/><stop offset="47.37%" stop-color="#4773eb"/><stop offset="49.94%" stop-color="#458cfd"/><stop offset="51.31%" stop-color="#38a5fb"/><stop offset="52.19%" stop-color="#28bceb"/><stop offset="53.19%" stop-color="#18d9c8"/><stop offset="53.81%" stop-color="#20eaac"/><stop offset="54.69%" stop-color="#4ef97d"/><stop offset="55.06%" stop-color="#55fa76"/><stop offset="55.31%" stop-color="#55fa76"/><stop offset="55.63%" stop-color="#46f884"/><stop offset="56.19%" stop-color="#1ce6b4"/><stop offset="56.44%" stop-color="#19d5cd"/><stop offset="56.87%" stop-color="#31aff5"/><stop offset="57.13%" stop-color="#4099ff"/><stop offset="57.44%" stop-color="#4680f6"/><stop offset="58.12%" stop-color="#4456c7"/><stop offset="58.5%" stop-color="#4146ac"/><stop offset="58.63%" stop-color="#4143a7"/><stop offset="58.75%" stop-color="#3f3e9c"/><stop offset="59%" stop-color="#3e3891"/><stop offset="59.12%" stop-color="#3d358b"/><stop offset="59.31%" stop-color="#3c3286"/><stop offset="59.38%" stop-color="#3b2f80"/><stop offset="59.5%" stop-color="#3b2f80"/><stop offset="59.56%" stop-color="#3a2d79"/><stop offset="59.69%" stop-color="#3a2d79"/><stop offset="59.75%" stop-color="#392a73"/><stop offset="59.94%" stop-color="#392a73"/><stop offset="60%" stop-color="#38276d"/><stop offset="60.31%" stop-color="#38276d"/><stop offset="60.37%" stop-color="#372466"/><stop offset="60.81%" stop-color="#372466"/><stop offset="60.87%" stop-color="#36215f"/><stop offset="65.19%" stop-color="#36215f"/><stop offset="65.25%" stop-color="#372466"/><stop offset="67.38%" stop-color="#372466"/><stop offset="67.44%" stop-color="#38276d"/><stop offset="69.81%" stop-color="#38276d"/><stop offset="69.87%" stop-color="#392a73"/><stop offset="72.81%" stop-color="#392a73"/><stop offset="72.87%" stop-color="#3a2d79"/><stop offset="76.69%" stop-color="#3a2d79"/><stop offset="76.75%" stop-color="#3b2f80"/><stop offset="82.19%" stop-color="#3b2f80"/><stop offset="82.25%" stop-color="#3c3286"/><stop offset="90.62%" stop-color="#3c3286"/><stop offset="90.75%" stop-color="#3d358b"/><stop offset="100%" stop-color="#3d358b"/></linearGradient><linearGradient id="h13"><stop offset="0%" stop-color="#4146ac"/><stop offset="8.94%" stop-color="#4146ac"/><stop offset="9.06%" stop-color="#4249b1"/><stop offset="19.62%" stop-color="#4249b1"/><stop offset="19.75%" stop-color="#424bb5"/><stop offset="26.19%" stop-color="#424bb5"/><stop offset="26.31%" stop-color="#434eba"/><stop offset="30.69%" stop-color="#434eba"/><stop offset="30.87%" stop-color="#4451bf"/><stop offset="33.94%" stop-color="#4451bf"/><stop offset="34.12%" stop-color="#4454c3"/><stop offset="36.37%" stop-color="#4454c3"/><stop offset="36.56%" stop-color="#4456c7"/><stop offset="38.31%" stop-color="#4456c7"/><stop offset="38.5%" stop-color="#4559cb"/><stop offset="39.87%" stop-color="#4559cb"/><stop offset="40.12%" stop-color="#455ccf"/><stop offset="41.13%" stop-color="#455ccf"/><stop offset="41.44%" stop-color="#455ed3"/><stop offset="42.25%" stop-color="#455ed3"/><stop offset="42.56%" stop-color="#4661d6"/><stop offset="43.12%" stop-color="#4661d6"/><stop offset="43.56%" stop-color="#4664da"/><stop offset="47.12%" stop-color="#4773eb"/><stop offset="49.81%" stop-color="#458cfd"/><stop offset="51.25%" stop-color="#38a5fb"/><stop offset="52.19%" stop-color="#27bee9"/><stop offset="53.19%" stop-color="#18ddc2"/><stop offset="53.69%" stop-color="#20eaac"/><stop offset="54.12%" stop-color="#35f394"/><stop offset="54.62%" stop-color="#52fa7a"/><stop offset="55%" stop-color="#5dfc6f"/><stop offset="55.25%" stop-color="#5dfc6f"/><stop offset="55.75%" stop-color="#43f787"/><stop offset="56.19%" stop-color="#1de7b2"/><stop offset="56.44%" stop-color="#18d7ca"/><stop offset="56.75%" stop-color="#27bee9"/><stop offset="57.06%" stop-color="#3ba0fd"/><stop offset="57.37%" stop-color="#4687fb"/><stop offset="57.88%" stop-color="#4664da"/><stop offset="58.06%" stop-color="#455ccf"/><stop offset="58.44%" stop-color="#4249b1"/><stop offset="58.56%" stop-color="#4146ac"/><stop offset="58.69%" stop-color="#4040a2"/><stop offset="58.81%" stop-color="#3f3e9c"/><stop offset="59.44%" stop-color="#3b2f80"/><stop offset="59.5%" stop-color="#3b2f80"/><stop offset="59.56%" stop-color="#3a2d79"/><stop offset="59.69%" stop-color="#3a2d79"/><stop offset="59.75%" stop-color="#392a73"/><stop offset="59.94%" stop-color="#392a73"/><stop offset="60%" stop-color="#38276d"/><stop offset="60.31%" stop-color="#38276d"/><stop offset="60.37%" stop-color="#372466"/><stop offset="60.81%" stop-color="#372466"/><stop offset="60.87%" stop-color="#36215f"/><stop offset="65.13%" stop-color="#36215f"/><stop offset="65.19%" stop-color="#372466"/><stop offset="67.25%" stop-color="#372466"/><stop offset="67.31%" stop-color="#38276d"/><stop offset="69.62%" stop-color="#38276d"/><stop offset="69.69%" stop-color="#392a73"/><stop offset="72.5%" stop-color="#392a73"/><stop offset="72.56%" stop-color="#3a2d79"/><stop offset="76.25%" stop-color="#3a2d79"/><stop offset="76.31%" stop-color="#3b2f80"/><stop offset="81.37%" stop-color="#3b2f80"/><stop offset="81.44%" stop-color="#3c3286"/><stop offset="89.13%" stop-color="#3c3286"/><stop offset="89.25%" stop-color="#3d358b"/><stop offset="100%" stop-color="#3d358b"/></linearGradient><linearGradient id="h14"><stop offset="0%" stop-color="#4146ac"/><stop offset="4.69%" stop-color="#4146ac"/><stop offset="4.81%" stop-color="#4249b1"/><stop offset="17.06%" stop-color="#4249b1"/><stop offset="17.19%" stop-color="#424bb5"/><stop offset="24.44%" stop-color="#424bb5"/><stop offset="24.56%" stop-color="#434eba"/><stop offset="29.37%" stop-color="#434eba"/><stop offset="29.56%" stop-color="#4451bf"/><stop offset="32.87%" stop-color="#4451bf"/><stop offset="33.06%" stop-color="#4454c3"/><stop offset="35.56%" stop-color="#4454c3"/><stop offset="35.75%" stop-color="#4456c7"/><stop offset="37.63%" stop-color="#4456c7"/><stop offset="37.81%" stop-color="#4559cb"/><stop offset="39.25%" stop-color="#4559cb"/><stop offset="39.5%" stop-color="#455ccf"/><stop offset="40.62%" stop-color="#455ccf"/><stop offset="40.94%" stop-color="#455ed3"/><stop offset="41.75%" stop-color="#455ed3"/><stop offset="42.06%" stop-color="#4661d6"/><stop offset="42.75%" stop-color="#4661d6"/><stop offset="43.19%" stop-color="#4664da"/><stop offset="46.94%" stop-color="#4773eb"/><stop offset="49.62%" stop-color="#458cfd"/><stop offset="51.12%" stop-color="#38a5fb"/><stop offset="52.19%" stop-color="#25c0e7"/><stop offset="53.12%" stop-color="#18ddc2"/><stop offset="53.63%" stop-color="#20eaac"/><stop offset="54.19%" stop-color="#3cf58e"/><stop offset="54.56%" stop-color="#55fa76"/><stop offset="55.06%" stop-color="#65fd69"/><stop offset="55.37%" stop-color="#61fc6c"/><stop offset="55.81%" stop-color="#43f787"/><stop offset="56.25%" stop-color="#1ce6b4"/><stop offset="56.5%" stop-color="#19d5cd"/><stop offset="56.87%" stop-color="#2eb4f2"/><stop offset="57.19%" stop-color="#4196ff"/><stop offset="57.56%" stop-color="#477bf2"/><stop offset="58.06%" stop-color="#455ccf"/><stop offset="58.25%" stop-color="#4454c3"/><stop offset="58.31%" stop-color="#434eba"/><stop offset="58.44%" stop-color="#424bb5"/><stop offset="58.69%" stop-color="#4040a2"/><stop offset="58.81%" stop-color="#3f3e9c"/><stop offset="59.44%" stop-color="#3b2f80"/><stop offset="59.5%" stop-color="#3b2f80"/><stop offset="59.56%" stop-color="#3a2d79"/><stop offset="59.75%" stop-color="#3a2d79"/><stop offset="59.81%" stop-color="#392a73"/><stop offset="60%" stop-color="#392a73"/><stop offset="60.06%" stop-color="#38276d"/><stop offset="60.31%" stop-color="#38276d"/><stop offset="60.37%" stop-color="#372466"/><stop offset="60.81%" stop-color="#372466"/><stop offset="60.87%" stop-color="#36215f"/><stop offset="65.06%" stop-color="#36215f"/><stop offset="65.13%" stop-color="#372466"/><stop offset="67.19%" stop-color="#372466"/><stop offset="67.25%" stop-color="#38276d"/><stop offset="69.44%" stop-color="#38276d"/><stop offset="69.5%" stop-color="#392a73"/><stop offset="72.25%" stop-color="#392a73"/><stop offset="72.31%" stop-color="#3a2d79"/><stop offset="75.81%" stop-color="#3a2d79"/><stop offset="75.87%" stop-color="#3b2f80"/><stop offset="80.62%" stop-color="#3b2f80"/><stop offset="80.69%" stop-color="#3c3286"/><stop offset="87.75%" stop-color="#3c3286"/><stop offset="87.87%" stop-color="#3d358b"/><stop offset="99.44%" stop-color="#3d358b"/><stop offset="99.56%" stop-color="#3e3891"/><stop offset="100%" stop-color="#3e3891"/></linearGradient><linearGradient id="h15"><stop offset="0%" stop-color="#4249b1"/><stop offset="14.12%" stop-color="#4249b1"/><stop offset="14.25%" stop-color="#424bb5"/><stop offset="22.5%" stop-color="#424bb5"/><stop offset="22.62%" stop-color="#434eba"/><stop offset="27.94%" stop-color="#434eba"/><stop offset="28.13%" stop-color="#4451bf"/><stop offset="31.81%" stop-color="#4451bf"/><stop offset="32%" stop-color="#4454c3"/><stop offset="34.63%" stop-color="#4454c3"/><stop offset="34.81%" stop-color="#4456c7"/><stop offset="36.88%" stop-color="#4456c7"/><stop offset="37.06%" stop-color="#4559cb"/><stop offset="38.62%" stop-color="#4559cb"/><stop offset="38.87%" stop-color="#455ccf"/><stop offset="40.06%" stop-color="#455ccf"/><stop offset="40.38%" stop-color="#455ed3"/><stop offset="41.31%" stop-color="#455ed3"/><stop offset="41.62%" stop-color="#4661d6"/><stop offset="42.31%" stop-color="#4661d6"/><stop offset="42.75%" stop-color="#4664da"/><stop offset="46.25%" stop-color="#4771e9"/><stop offset="49.06%" stop-color="#4687fb"/><stop offset="50.75%" stop-color="#3ba0fd"/><stop offset="51.75%" stop-color="#2cb7f0"/><stop offset="52.75%" stop-color="#1ad4d0"/><stop offset="53.31%" stop-color="#1ae4b6"/><stop offset="53.75%" stop-color="#2aefa1"/><stop offset="54.75%" stop-color="#65fd69"/><stop offset="55.12%" stop-color="#6dfe62"/><stop offset="55.44%" stop-color="#65fd69"/><stop offset="55.75%" stop-color="#4ef97d"/><stop offset="56.19%" stop-color="#22ebaa"/><stop offset="56.44%" stop-color="#18ddc2"/><stop offset="56.75%" stop-color="#23c3e4"/><stop offset="57%" stop-color="#35abf8"/><stop offset="57.25%" stop-color="#4294ff"/><stop offset="57.56%" stop-color="#477bf2"/><stop offset="58.19%" stop-color="#4456c7"/><stop offset="58.63%" stop-color="#4143a7"/><stop offset="58.75%" stop-color="#4040a2"/><stop offset="59%" stop-color="#3e3891"/><stop offset="59.31%" stop-color="#3c3286"/><stop offset="59.38%" stop-color="#3c3286"/><stop offset="59.44%" stop-color="#3b2f80"/><stop offset="59.5%" stop-color="#3b2f80"/><stop offset="59.56%" stop-color="#3a2d79"/><stop offset="59.75%" stop-color="#3a2d79"/><stop offset="59.81%" stop-color="#392a73"/><stop offset="60%" stop-color="#392a73"/><stop offset="60.06%" stop-color="#38276d"/><stop offset="60.31%" stop-color="#38276d"/><stop offset="60.37%" stop-color="#372466"/><stop offset="60.81%" stop-color="#372466"/><stop offset="60.87%" stop-color="#36215f"/><stop offset="65%" stop-color="#36215f"/><stop offset="65.06%" stop-color="#372466"/><stop offset="67.06%" stop-color="#372466"/><stop offset="67.12%" stop-color="#38276d"/><stop offset="69.31%" stop-color="#38276d"/><stop offset="69.37%" stop-color="#392a73"/><stop offset="72%" stop-color="#392a73"/><stop offset="72.06%" stop-color="#3a2d79"/><stop offset="75.37%" stop-color="#3a2d79"/><stop offset="75.44%" stop-color="#3b2f80"/><stop offset="79.94%" stop-color="#3b2f80"/><stop offset="80%" stop-color="#3c3286"/><stop offset="86.56%" stop-color="#3c3286"/><stop offset="86.69%" stop-color="#3d358b"/><stop offset="97.06%" stop-color="#3d358b"/><stop offset="97.19%" stop-color="#3e3891"/><stop offset="100%" stop-color="#3e3891"/></linearGradient><linearGradient id="h16"><stop offset="0%" stop-color="#4249b1"/><stop offset="10.81%" stop-color="#4249b1"/><stop offset="10.94%" stop-color="#424bb5"/><stop offset="20.31%" stop-color="#424bb5"/><stop offset="20.44%" stop-color="#434eba"/><stop offset="26.37%" stop-color="#434eba"/><stop offset="26.56%" stop-color="#4451bf"/><stop offset="30.62%" stop-color="#4451bf"/><stop offset="30.81%" stop-color="#4454c3"/><stop offset="33.69%" stop-color="#4454c3"/><stop offset="33.88%" stop-color="#4456c7"/><stop offset="36.13%" stop-color="#4456c7"/><stop offset="36.31%" stop-color="#4559cb"/><stop offset="38%" stop-color="#4559cb"/><stop offset="38.25%" stop-color="#455ccf"/><stop offset="39.5%" stop-color="#455ccf"/><stop offset="39.81%" stop-color="#455ed3"/><stop offset="40.81%" stop-color="#455ed3"/><stop offset="41.13%" stop-color="#4661d6"/><stop offset="41.88%" stop-color="#4661d6"/><stop offset="42.31%" stop-color="#4664da"/><stop offset="46%" stop-color="#4771e9"/><stop offset="48.94%" stop-color="#4687fb"/><stop offset="50.63%" stop-color="#3ba0fd"/><stop offset="51.62%" stop-color="#2cb7f0"/><stop offset="52.44%" stop-color="#1ccdd8"/><stop offset="53.12%" stop-color="#19e2bb"/><stop offset="53.56%" stop-color="#25eca7"/><stop offset="54%" stop-color="#3cf58e"/><stop offset="54.56%" stop-color="#61fc6c"/><stop offset="54.88%" stop-color="#71fe5f"/><stop offset="55.19%" stop-color="#75fe5c"/><stop offset="55.56%" stop-color="#65fd69"/><stop offset="55.87%" stop-color="#46f884"/><stop offset="56.25%" stop-color="#20eaac"/><stop offset="56.5%" stop-color="#18dbc5"/><stop offset="56.75%" stop-color="#22c5e2"/><stop offset="57.06%" stop-color="#38a5fb"/><stop offset="57.37%" stop-color="#458afc"/><stop offset="57.88%" stop-color="#4669e0"/><stop offset="58.44%" stop-color="#424bb5"/><stop offset="58.56%" stop-color="#4146ac"/><stop offset="58.69%" stop-color="#4143a7"/><stop offset="58.81%" stop-color="#3f3e9c"/><stop offset="59.06%" stop-color="#3e3891"/><stop offset="59.31%" stop-color="#3c3286"/><stop offset="59.38%" stop-color="#3c3286"/><stop offset="59.44%" stop-color="#3b2f80"/><stop offset="59.56%" stop-color="#3b2f80"/><stop offset="59.62%" stop-color="#3a2d79"/><stop offset="59.75%" stop-color="#3a2d79"/><stop offset="59.81%" stop-color="#392a73"/><stop offset="60%" stop-color="#392a73"/><stop offset="60.06%" stop-color="#38276d"/><stop offset="60.31%" stop-color="#38276d"/><stop offset="60.37%" stop-color="#372466"/><stop offset="60.81%" stop-color="#372466"/><stop offset="60.87%" stop-color="#36215f"/><stop offset="65%" stop-color="#36215f"/><stop offset="65.06%" stop-color="#372466"/><stop offset="67%" stop-color="#372466"/><stop offset="67.06%" stop-color="#38276d"/><stop offset="69.12%" stop-color="#38276d"/><stop offset="69.19%" stop-color="#392a73"/><stop offset="71.75%" stop-color="#392a73"/><stop offset="71.81%" stop-color="#3a2d79"/><stop offset="75%" stop-color="#3a2d79"/><stop offset="75.06%" stop-color="#3b2f80"/><stop offset="79.31%" stop-color="#3b2f80"/><stop offset="79.37%" stop-color="#3c3286"/><stop offset="85.44%" stop-color="#3c3286"/><stop offset="85.56%" stop-color="#3d358b"/><stop offset="95%" stop-color="#3d358b"/><stop offset="95.12%" stop-color="#3e3891"/><stop offset="100%" stop-color="#3e3891"/></linearGradient><linearGradient id="h17"><stop offset="0%" stop-color="#4249b1"/><stop offset="4.94%" stop-color="#4249b1"/><stop offset="5.06%" stop-color="#424bb5"/><stop offset="16.63%" stop-color="#424bb5"/><stop offset="16.75%" stop-color="#434eba"/><stop offset="23.81%" stop-color="#434eba"/><stop offset="24%" stop-color="#4451bf"/><stop offset="28.62%" stop-color="#4451bf"/><stop offset="28.81%" stop-color="#4454c3"/><stop offset="32.19%" stop-color="#4454c3"/><stop offset="32.38%" stop-color="#4456c7"/><stop offset="34.81%" stop-color="#4456c7"/><stop offset="35%" stop-color="#4559cb"/><stop offset="36.94%" stop-color="#4559cb"/><stop offset="37.19%" stop-color="#455ccf"/><stop offset="38.62%" stop-color="#455ccf"/><stop offset="38.94%" stop-color="#455ed3"/><stop offset="40%" stop-color="#455ed3"/><stop offset="40.31%" stop-color="#4661d6"/><stop offset="41.19%" stop-color="#4661d6"/><stop offset="41.62%" stop-color="#4664da"/><stop offset="45.56%" stop-color="#4771e9"/><stop offset="48.69%" stop-color="#4687fb"/><stop offset="50.44%" stop-color="#3ba0fd"/><stop offset="51.56%" stop-color="#2ab9ee"/><stop offset="52.37%" stop-color="#1bd0d5"/><stop offset="53.06%" stop-color="#19e3b9"/><stop offset="53.56%" stop-color="#2aefa1"/><stop offset="54.12%" stop-color="#4ef97d"/><stop offset="54.44%" stop-color="#65fd69"/><stop offset="54.69%" stop-color="#75fe5c"/><stop offset="54.94%" stop-color="#7dff56"/><stop offset="55.19%" stop-color="#80ff53"/><stop offset="55.56%" stop-color="#71fe5f"/><stop offset="55.94%" stop-color="#4af880"/><stop offset="56.25%" stop-color="#25eca7"/><stop offset="56.5%" stop-color="#18dec0"/><stop offset="56.81%" stop-color="#23c3e4"/><stop offset="57.13%" stop-color="#3aa3fc"/><stop offset="57.37%" stop-color="#458cfd"/><stop offset="57.69%" stop-color="#4776ee"/><stop offset="58.19%" stop-color="#4559cb"/><stop offset="58.44%" stop-color="#424bb5"/><stop offset="58.56%" stop-color="#4249b1"/><stop offset="58.75%" stop-color="#4040a2"/><stop offset="58.87%" stop-color="#3f3e9c"/><stop offset="59.5%" stop-color="#3b2f80"/><stop offset="59.56%" stop-color="#3b2f80"/><stop offset="59.62%" stop-color="#3a2d79"/><stop offset="59.75%" stop-color="#3a2d79"/><stop offset="59.81%" stop-color="#392a73"/><stop offset="60%" stop-color="#392a73"/><stop offset="60.06%" stop-color="#38276d"/><stop offset="60.31%" stop-color="#38276d"/><stop offset="60.37%" stop-color="#372466"/><stop offset="60.87%" stop-color="#372466"/><stop offset="60.94%" stop-color="#36215f"/><stop offset="64.94%" stop-color="#36215f"/><stop offset="65%" stop-color="#372466"/><stop offset="66.87%" stop-color="#372466"/><stop offset="66.94%" stop-color="#38276d"/><stop offset="68.94%" stop-color="#38276d"/><stop offset="69%" stop-color="#392a73"/><stop offset="71.37%" stop-color="#392a73"/><stop offset="71.44%" stop-color="#3a2d79"/><stop offset="74.44%" stop-color="#3a2d79"/><stop offset="74.5%" stop-color="#3b2f80"/><stop offset="78.44%" stop-color="#3b2f80"/><stop offset="78.5%" stop-color="#3c3286"/><stop offset="83.94%" stop-color="#3c3286"/><stop offset="84.06%" stop-color="#3d358b"/><stop offset="92.31%" stop-color="#3d358b"/><stop offset="92.44%" stop-color="#3e3891"/><stop offset="100%" stop-color="#3e3891"/></linearGradient><linearGradient id="h18"><stop offset="0%" stop-color="#424bb5"/><stop offset="11.62%" stop-color="#424bb5"/><stop offset="11.75%" stop-color="#434eba"/><stop offset="20.37%" stop-color="#434eba"/><stop offset="20.56%" stop-color="#4451bf"/><stop offset="26.12%" stop-color="#4451bf"/><stop offset="26.31%" stop-color="#4454c3"/><stop offset="30.25%" stop-color="#4454c3"/><stop offset="30.44%" stop-color="#4456c7"/><stop offset="33.25%" stop-color="#4456c7"/><stop offset="33.44%" stop-color="#4559cb"/><stop offset="35.62%" stop-color="#4559cb"/><stop offset="35.87%" stop-color="#455ccf"/><stop offset="37.5%" stop-color="#455ccf"/><stop offset="37.81%" stop-color="#455ed3"/><stop offset="39.06%" stop-color="#455ed3"/><stop offset="39.37%" stop-color="#4661d6"/><stop offset="40.31%" stop-color="#4661d6"/><stop offset="40.75%" stop-color="#4664da"/><stop offset="41.44%" stop-color="#4664da"/><stop offset="42.06%" stop-color="#4666dd"/><stop offset="46.06%" stop-color="#4776ee"/><stop offset="49.06%" stop-color="#448ffe"/><stop offset="50.69%" stop-color="#37a8fa"/><stop offset="51.69%" stop-color="#25c0e7"/><stop offset="52.5%" stop-color="#18d7ca"/><stop offset="53.12%" stop-color="#1de7b2"/><stop offset="53.69%" stop-color="#38f491"/><stop offset="54.31%" stop-color="#69fd66"/><stop offset="54.75%" stop-color="#84ff51"/><stop offset="55.12%" stop-color="#8bff4b"/><stop offset="55.44%" stop-color="#84ff51"/><stop offset="55.63%" stop-color="#79fe59"/><stop offset="56%" stop-color="#4ef97d"/><stop offset="56.25%" stop-color="#2cf09e"/><stop offset="56.44%" stop-color="#1ce6b4"/><stop offset="56.62%" stop-color="#18d7ca"/><stop offset="57%" stop-color="#2eb4f2"/><stop offset="57.25%" stop-color="#3e9bfe"/><stop offset="57.56%" stop-color="#4682f8"/><stop offset="58%" stop-color="#4664da"/><stop offset="58.69%" stop-color="#4143a7"/><stop offset="58.81%" stop-color="#4040a2"/><stop offset="59.06%" stop-color="#3e3891"/><stop offset="59.38%" stop-color="#3c3286"/><stop offset="59.44%" stop-color="#3c3286"/><stop offset="59.5%" stop-color="#3b2f80"/><stop offset="59.56%" stop-color="#3b2f80"/><stop offset="59.62%" stop-color="#3a2d79"/><stop offset="59.81%" stop-color="#3a2d79"/><stop offset="59.87%" stop-color="#392a73"/><stop offset="60%" stop-color="#392a73"/><stop offset="60.06%" stop-color="#38276d"/><stop offset="60.37%" stop-color="#38276d"/><stop offset="60.44%" stop-color="#372466"/><stop offset="60.87%" stop-color="#372466"/><stop offset="60.94%" stop-color="#36215f"/><stop offset="64.81%" stop-color="#36215f"/><stop offset="64.87%" stop-color="#372466"/><stop offset="66.69%" stop-color="#372466"/><stop offset="66.75%" stop-color="#38276d"/><stop offset="68.69%" stop-color="#38276d"/><stop offset="68.75%" stop-color="#392a73"/><stop offset="71.06%" stop-color="#392a73"/><stop offset="71.12%" stop-color="#3a2d79"/><stop offset="73.88%" stop-color="#3a2d79"/><stop offset="73.94%" stop-color="#3b2f80"/><stop offset="77.56%" stop-color="#3b2f80"/><stop offset="77.62%" stop-color="#3c3286"/><stop offset="82.56%" stop-color="#3c3286"/><stop offset="82.69%" stop-color="#3d358b"/><stop offset="89.81%" stop-color="#3d358b"/><stop offset="89.94%" stop-color="#3e3891"/><stop offset="100%" stop-color="#3e3891"/></linearGradient><linearGradient id="h19"><stop offset="0%" stop-color="#424bb5"/><stop offset="5.44%" stop-color="#424bb5"/><stop offset="5.56%" stop-color="#434eba"/><stop offset="16.38%" stop-color="#434eba"/><stop offset="16.56%" stop-color="#4451bf"/><stop offset="23.31%" stop-color="#4451bf"/><stop offset="23.5%" stop-color="#4454c3"/><stop offset="28.06%" stop-color="#4454c3"/><stop offset="28.25%" stop-color="#4456c7"/><stop offset="31.56%" stop-color="#4456c7"/><stop offset="31.75%" stop-color="#4559cb"/><stop offset="34.19%" stop-color="#4559cb"/><stop offset="34.44%" stop-color="#455ccf"/><stop offset="36.31%" stop-color="#455ccf"/><stop offset="36.62%" stop-color="#455ed3"/><stop offset="38%" stop-color="#455ed3"/><stop offset="38.31%" stop-color="#4661d6"/><stop offset="39.44%" stop-color="#4661d6"/><stop offset="39.87%" stop-color="#4664da"/><stop offset="40.62%" stop-color="#4664da"/><stop offset="41.25%" stop-color="#4666dd"/><stop offset="45.12%" stop-color="#4773eb"/><stop offset="48.06%" stop-color="#4687fb"/><stop offset="50.06%" stop-color="#3ba0fd"/><stop offset="51.38%" stop-color="#28bceb"/><stop offset="52.44%" stop-color="#18d9c8"/><stop offset="53%" stop-color="#1de7b2"/><stop offset="53.5%" stop-color="#35f394"/><stop offset="54.12%" stop-color="#65fd69"/><stop offset="54.37%" stop-color="#79fe59"/><stop offset="54.56%" stop-color="#88ff4e"/><stop offset="55%" stop-color="#96fe44"/><stop offset="55.37%" stop-color="#92ff47"/><stop offset="55.63%" stop-color="#84ff51"/><stop offset="55.94%" stop-color="#61fc6c"/><stop offset="56.31%" stop-color="#2cf09e"/><stop offset="56.5%" stop-color="#1ae4b6"/><stop offset="56.69%" stop-color="#19d5cd"/><stop offset="57.06%" stop-color="#2fb2f4"/><stop offset="57.31%" stop-color="#4099ff"/><stop offset="57.62%" stop-color="#4680f6"/><stop offset="58.12%" stop-color="#455ed3"/><stop offset="58.56%" stop-color="#4249b1"/><stop offset="58.69%" stop-color="#4146ac"/><stop offset="58.81%" stop-color="#4040a2"/><stop offset="58.94%" stop-color="#3f3e9c"/><stop offset="59.56%" stop-color="#3b2f80"/><stop offset="59.62%" stop-color="#3b2f80"/><stop offset="59.69%" stop-color="#3a2d79"/><stop offset="59.81%" stop-color="#3a2d79"/><stop offset="59.87%" stop-color="#392a73"/><stop offset="60.06%" stop-color="#392a73"/><stop offset="60.13%" stop-color="#38276d"/><stop offset="60.37%" stop-color="#38276d"/><stop offset="60.44%" stop-color="#372466"/><stop offset="60.87%" stop-color="#372466"/><stop offset="60.94%" stop-color="#36215f"/><stop offset="64.75%" stop-color="#36215f"/><stop offset="64.81%" stop-color="#372466"/><stop offset="66.56%" stop-color="#372466"/><stop offset="66.63%" stop-color="#38276d"/><stop offset="68.5%" stop-color="#38276d"/><stop offset="68.56%" stop-color="#392a73"/><stop offset="70.69%" stop-color="#392a73"/><stop offset="70.75%" stop-color="#3a2d79"/><stop offset="73.37%" stop-color="#3a2d79"/><stop offset="73.44%" stop-color="#3b2f80"/><stop offset="76.75%" stop-color="#3b2f80"/><stop offset="76.81%" stop-color="#3c3286"/><stop offset="81.31%" stop-color="#3c3286"/><stop offset="81.44%" stop-color="#3d358b"/><stop offset="87.69%" stop-color="#3d358b"/><stop offset="87.81%" stop-color="#3e3891"/><stop offset="97.56%" stop-color="#3e3891"/><stop offset="97.69%" stop-color="#3f3b97"/><stop offset="100%" stop-color="#3f3b97"/></linearGradient><linearGradient id="h20"><stop offset="0%" stop-color="#434eba"/><stop offset="11.62%" stop-color="#434eba"/><stop offset="11.81%" stop-color="#4451bf"/><stop offset="20%" stop-color="#4451bf"/><stop offset="20.19%" stop-color="#4454c3"/><stop offset="25.62%" stop-color="#4454c3"/><stop offset="25.81%" stop-color="#4456c7"/><stop offset="29.63%" stop-color="#4456c7"/><stop offset="29.81%" stop-color="#4559cb"/><stop offset="32.62%" stop-color="#4559cb"/><stop offset="32.87%" stop-color="#455ccf"/><stop offset="35%" stop-color="#455ccf"/><stop offset="35.31%" stop-color="#455ed3"/><stop offset="36.94%" stop-color="#455ed3"/><stop offset="37.25%" stop-color="#4661d6"/><stop offset="38.5%" stop-color="#4661d6"/><stop offset="38.94%" stop-color="#4664da"/><stop offset="39.81%" stop-color="#4664da"/><stop offset="40.44%" stop-color="#4666dd"/><stop offset="44.62%" stop-color="#4773eb"/><stop offset="47.75%" stop-color="#4687fb"/><stop offset="49.81%" stop-color="#3ba0fd"/><stop offset="51.06%" stop-color="#2ab9ee"/><stop offset="52%" stop-color="#1ad2d2"/><stop offset="52.75%" stop-color="#1ae4b6"/><stop offset="53.25%" stop-color="#2ff19b"/><stop offset="53.75%" stop-color="#52fa7a"/><stop offset="54.25%" stop-color="#7dff56"/><stop offset="54.69%" stop-color="#99fe42"/><stop offset="55.19%" stop-color="#a1fd3d"/><stop offset="55.63%" stop-color="#8fff49"/><stop offset="55.94%" stop-color="#6dfe62"/><stop offset="56.38%" stop-color="#2aefa1"/><stop offset="56.56%" stop-color="#19e3b9"/><stop offset="56.75%" stop-color="#1ad4d0"/><stop offset="57.13%" stop-color="#31aff5"/><stop offset="57.37%" stop-color="#4196ff"/><stop offset="57.69%" stop-color="#467df4"/><stop offset="58.06%" stop-color="#4664da"/><stop offset="58.75%" stop-color="#4143a7"/><stop offset="58.87%" stop-color="#4040a2"/><stop offset="59%" stop-color="#3f3b97"/><stop offset="59.31%" stop-color="#3d358b"/><stop offset="59.56%" stop-color="#3b2f80"/><stop offset="59.62%" stop-color="#3b2f80"/><stop offset="59.69%" stop-color="#3a2d79"/><stop offset="59.81%" stop-color="#3a2d79"/><stop offset="59.87%" stop-color="#392a73"/><stop offset="60.06%" stop-color="#392a73"/><stop offset="60.13%" stop-color="#38276d"/><stop offset="60.37%" stop-color="#38276d"/><stop offset="60.44%" stop-color="#372466"/><stop offset="60.87%" stop-color="#372466"/><stop offset="60.94%" stop-color="#36215f"/><stop offset="64.69%" stop-color="#36215f"/><stop offset="64.75%" stop-color="#372466"/><stop offset="66.5%" stop-color="#372466"/><stop offset="66.56%" stop-color="#38276d"/><stop offset="68.31%" stop-color="#38276d"/><stop offset="68.37%" stop-color="#392a73"/><stop offset="70.44%" stop-color="#392a73"/><stop offset="70.5%" stop-color="#3a2d79"/><stop offset="72.94%" stop-color="#3a2d79"/><stop offset="73%" stop-color="#3b2f80"/><stop offset="76.06%" stop-color="#3b2f80"/><stop offset="76.12%" stop-color="#3c3286"/><stop offset="80.19%" stop-color="#3c3286"/><stop offset="80.31%" stop-color="#3d358b"/><stop offset="85.94%" stop-color="#3d358b"/><stop offset="86.06%" stop-color="#3e3891"/><stop offset="94.37%" stop-color="#3e3891"/><stop offset="94.5%" stop-color="#3f3b97"/><stop offset="100%" stop-color="#3f3b97"/></linearGradient><linearGradient id="h21"><stop offset="0%" stop-color="#434eba"/><stop offset="5.81%" stop-color="#434eba"/><stop offset="6%" stop-color="#4451bf"/><stop offset="16.12%" stop-color="#4451bf"/><stop offset="16.31%" stop-color="#4454c3"/><stop offset="22.81%" stop-color="#4454c3"/><stop offset="23%" stop-color="#4456c7"/><stop offset="27.5%" stop-color="#4456c7"/><stop offset="27.69%" stop-color="#4559cb"/><stop offset="30.94%" stop-color="#4559cb"/><stop offset="31.19%" stop-color="#455ccf"/><stop offset="33.62%" stop-color="#455ccf"/><stop offset="33.94%" stop-color="#455ed3"/><stop offset="35.69%" stop-color="#455ed3"/><stop offset="36%" stop-color="#4661d6"/><stop offset="37.44%" stop-color="#4661d6"/><stop offset="37.87%" stop-color="#4664da"/><stop offset="38.87%" stop-color="#4664da"/><stop offset="39.5%" stop-color="#4666dd"/><stop offset="44.13%" stop-color="#4773eb"/><stop offset="47.44%" stop-color="#4687fb"/><stop offset="49.62%" stop-color="#3ba0fd"/><stop offset="51%" stop-color="#28bceb"/><stop offset="51.94%" stop-color="#1ad4d0"/><stop offset="52.69%" stop-color="#1ce6b4"/><stop offset="53.19%" stop-color="#32f298"/><stop offset="53.75%" stop-color="#5dfc6f"/><stop offset="54.25%" stop-color="#88ff4e"/><stop offset="54.62%" stop-color="#9ffd3f"/><stop offset="55.12%" stop-color="#a9fb39"/><stop offset="55.5%" stop-color="#a1fd3d"/><stop offset="55.75%" stop-color="#8fff49"/><stop offset="55.94%" stop-color="#79fe59"/><stop offset="56.25%" stop-color="#43f787"/><stop offset="56.5%" stop-color="#20eaac"/><stop offset="56.69%" stop-color="#18ddc2"/><stop offset="57%" stop-color="#25c0e7"/><stop offset="57.25%" stop-color="#38a5fb"/><stop offset="57.5%" stop-color="#448ffe"/><stop offset="57.88%" stop-color="#4771e9"/><stop offset="58.25%" stop-color="#455ccf"/><stop offset="58.69%" stop-color="#4146ac"/><stop offset="58.81%" stop-color="#4143a7"/><stop offset="58.94%" stop-color="#3f3e9c"/><stop offset="59.06%" stop-color="#3f3b97"/><stop offset="59.44%" stop-color="#3c3286"/><stop offset="59.5%" stop-color="#3c3286"/><stop offset="59.56%" stop-color="#3b2f80"/><stop offset="59.62%" stop-color="#3b2f80"/><stop offset="59.69%" stop-color="#3a2d79"/><stop offset="59.81%" stop-color="#3a2d79"/><stop offset="59.87%" stop-color="#392a73"/><stop offset="60.06%" stop-color="#392a73"/><stop offset="60.13%" stop-color="#38276d"/><stop offset="60.37%" stop-color="#38276d"/><stop offset="60.44%" stop-color="#372466"/><stop offset="60.87%" stop-color="#372466"/><stop offset="60.94%" stop-color="#36215f"/><stop offset="64.62%" stop-color="#36215f"/><stop offset="64.69%" stop-color="#372466"/><stop offset="66.37%" stop-color="#372466"/><stop offset="66.44%" stop-color="#38276d"/><stop offset="68.13%" stop-color="#38276d"/><stop offset="68.19%" stop-color="#392a73"/><stop offset="70.12%" stop-color="#392a73"/><stop offset="70.19%" stop-color="#3a2d79"/><stop offset="72.5%" stop-color="#3a2d79"/><stop offset="72.56%" stop-color="#3b2f80"/><stop offset="75.44%" stop-color="#3b2f80"/><stop offset="75.5%" stop-color="#3c3286"/><stop offset="79.25%" stop-color="#3c3286"/><stop offset="79.37%" stop-color="#3d358b"/><stop offset="84.37%" stop-color="#3d358b"/><stop offset="84.5%" stop-color="#3e3891"/><stop offset="91.75%" stop-color="#3e3891"/><stop offset="91.87%" stop-color="#3f3b97"/><stop offset="100%" stop-color="#3f3b97"/></linearGradient><linearGradient id="h22"><stop offset="0%" stop-color="#4451bf"/><stop offset="11.56%" stop-color="#4451bf"/><stop offset="11.75%" stop-color="#4454c3"/><stop offset="19.56%" stop-color="#4454c3"/><stop offset="19.75%" stop-color="#4456c7"/><stop offset="25.06%" stop-color="#4456c7"/><stop offset="25.25%" stop-color="#4559cb"/><stop offset="29%" stop-color="#4559cb"/><stop offset="29.25%" stop-color="#455ccf"/><stop offset="32.06%" stop-color="#455ccf"/><stop offset="32.38%" stop-color="#455ed3"/><stop offset="34.44%" stop-color="#455ed3"/><stop offset="34.75%" stop-color="#4661d6"/><stop offset="36.31%" stop-color="#4661d6"/><stop offset="36.75%" stop-color="#4664da"/><stop offset="37.94%" stop-color="#4664da"/><stop offset="38.56%" stop-color="#4666dd"/><stop offset="43.62%" stop-color="#4773eb"/><stop offset="47.12%" stop-color="#4687fb"/><stop offset="49.37%" stop-color="#3ba0fd"/><stop offset="50.75%" stop-color="#2ab9ee"/><stop offset="51.81%" stop-color="#1ad4d0"/><stop offset="52.5%" stop-color="#1ae4b6"/><stop offset="53%" stop-color="#2ff19b"/><stop offset="53.37%" stop-color="#46f884"/><stop offset="54%" stop-color="#80ff53"/><stop offset="54.44%" stop-color="#9ffd3f"/><stop offset="54.94%" stop-color="#b1f936"/><stop offset="55.37%" stop-color="#affa37"/><stop offset="55.69%" stop-color="#9ffd3f"/><stop offset="55.87%" stop-color="#8bff4b"/><stop offset="56.19%" stop-color="#59fb73"/><stop offset="56.5%" stop-color="#27eea4"/><stop offset="56.69%" stop-color="#18e0bd"/><stop offset="56.94%" stop-color="#1fc9dd"/><stop offset="57.25%" stop-color="#37a8fa"/><stop offset="57.5%" stop-color="#4391fe"/><stop offset="57.88%" stop-color="#4773eb"/><stop offset="58.37%" stop-color="#4456c7"/><stop offset="58.87%" stop-color="#4040a2"/><stop offset="59%" stop-color="#3f3e9c"/><stop offset="59.62%" stop-color="#3b2f80"/><stop offset="59.69%" stop-color="#3b2f80"/><stop offset="59.75%" stop-color="#3a2d79"/><stop offset="59.87%" stop-color="#3a2d79"/><stop offset="59.94%" stop-color="#392a73"/><stop offset="60.13%" stop-color="#392a73"/><stop offset="60.19%" stop-color="#38276d"/><stop offset="60.44%" stop-color="#38276d"/><stop offset="60.5%" stop-color="#372466"/><stop offset="60.87%" stop-color="#372466"/><stop offset="60.94%" stop-color="#36215f"/><stop offset="64.62%" stop-color="#36215f"/><stop offset="64.69%" stop-color="#372466"/><stop offset="66.25%" stop-color="#372466"/><stop offset="66.31%" stop-color="#38276d"/><stop offset="67.94%" stop-color="#38276d"/><stop offset="68%" stop-color="#392a73"/><stop offset="69.87%" stop-color="#392a73"/><stop offset="69.94%" stop-color="#3a2d79"/><stop offset="72.12%" stop-color="#3a2d79"/><stop offset="72.19%" stop-color="#3b2f80"/><stop offset="74.87%" stop-color="#3b2f80"/><stop offset="74.94%" stop-color="#3c3286"/><stop offset="78.37%" stop-color="#3c3286"/><stop offset="78.5%" stop-color="#3d358b"/><stop offset="83%" stop-color="#3d358b"/><stop offset="83.12%" stop-color="#3e3891"/><stop offset="89.56%" stop-color="#3e3891"/><stop offset="89.69%" stop-color="#3f3b97"/><stop offset="99.44%" stop-color="#3f3b97"/><stop offset="99.56%" stop-color="#3f3e9c"/><stop offset="100%" stop-color="#3f3e9c"/></linearGradient><linearGradient id="h23"><stop offset="0%" stop-color="#4451bf"/><stop offset="6%" stop-color="#4451bf"/><stop offset="6.19%" stop-color="#4454c3"/><stop offset="15.81%" stop-color="#4454c3"/><stop offset="16%" stop-color="#4456c7"/><stop offset="22.31%" stop-color="#4456c7"/><stop offset="22.5%" stop-color="#4559cb"/><stop offset="26.87%" stop-color="#4559cb"/><stop offset="27.12%" stop-color="#455ccf"/><stop offset="30.31%" stop-color="#455ccf"/><stop offset="30.62%" stop-color="#455ed3"/><stop offset="33%" stop-color="#455ed3"/><stop offset="33.31%" stop-color="#4661d6"/><stop offset="35.12%" stop-color="#4661d6"/><stop offset="35.56%" stop-color="#4664da"/><stop offset="36.88%" stop-color="#4664da"/><stop offset="37.5%" stop-color="#4666dd"/><stop offset="43.06%" stop-color="#4773eb"/><stop offset="46.81%" stop-color="#4687fb"/><stop offset="49.19%" stop-color="#3ba0fd"/><stop offset="50.56%" stop-color="#2ab9ee"/><stop offset="51.56%" stop-color="#1ad2d2"/><stop offset="52.37%" stop-color="#1ae4b6"/><stop offset="52.88%" stop-color="#2ff19b"/><stop offset="53.25%" stop-color="#46f884"/><stop offset="54%" stop-color="#8bff4b"/><stop offset="54.44%" stop-color="#a7fc3a"/><stop offset="54.88%" stop-color="#b9f635"/><stop offset="55.31%" stop-color="#b9f635"/><stop offset="55.69%" stop-color="#a7fc3a"/><stop offset="55.87%" stop-color="#96fe44"/><stop offset="56.12%" stop-color="#6dfe62"/><stop offset="56.5%" stop-color="#2cf09e"/><stop offset="56.69%" stop-color="#19e3b9"/><stop offset="56.87%" stop-color="#1ad4d0"/><stop offset="57.19%" stop-color="#2fb2f4"/><stop offset="57.44%" stop-color="#4099ff"/><stop offset="57.75%" stop-color="#467df4"/><stop offset="58.25%" stop-color="#455ed3"/><stop offset="58.81%" stop-color="#4143a7"/><stop offset="58.94%" stop-color="#4040a2"/><stop offset="59.19%" stop-color="#3e3891"/><stop offset="59.5%" stop-color="#3c3286"/><stop offset="59.56%" stop-color="#3b2f80"/><stop offset="59.69%" stop-color="#3b2f80"/><stop offset="59.75%" stop-color="#3a2d79"/><stop offset="59.87%" stop-color="#3a2d79"/><stop offset="59.94%" stop-color="#392a73"/><stop offset="60.13%" stop-color="#392a73"/><stop offset="60.19%" stop-color="#38276d"/><stop offset="60.44%" stop-color="#38276d"/><stop offset="60.5%" stop-color="#372466"/><stop offset="60.94%" stop-color="#372466"/><stop offset="61%" stop-color="#36215f"/><stop offset="64.56%" stop-color="#36215f"/><stop offset="64.62%" stop-color="#372466"/><stop offset="66.12%" stop-color="#372466"/><stop offset="66.19%" stop-color="#38276d"/><stop offset="67.81%" stop-color="#38276d"/><stop offset="67.87%" stop-color="#392a73"/><stop offset="69.62%" stop-color="#392a73"/><stop offset="69.69%" stop-color="#3a2d79"/><stop offset="71.75%" stop-color="#3a2d79"/><stop offset="71.81%" stop-color="#3b2f80"/><stop offset="74.37%" stop-color="#3b2f80"/><stop offset="74.44%" stop-color="#3c3286"/><stop offset="77.62%" stop-color="#3c3286"/><stop offset="77.75%" stop-color="#3d358b"/><stop offset="81.81%" stop-color="#3d358b"/><stop offset="81.94%" stop-color="#3e3891"/><stop offset="87.63%" stop-color="#3e3891"/><stop offset="87.75%" stop-color="#3f3b97"/><stop offset="96.12%" stop-color="#3f3b97"/><stop offset="96.25%" stop-color="#3f3e9c"/><stop offset="100%" stop-color="#3f3e9c"/></linearGradient><linearGradient id="h24"><stop offset="0%" stop-color="#4454c3"/><stop offset="11.38%" stop-color="#4454c3"/><stop offset="11.56%" stop-color="#4456c7"/><stop offset="19.12%" stop-color="#4456c7"/><stop offset="19.31%" stop-color="#4559cb"/><stop offset="24.5%" stop-color="#4559cb"/><stop offset="24.75%" stop-color="#455ccf"/><stop offset="28.44%" stop-color="#455ccf"/><stop offset="28.75%" stop-color="#455ed3"/><stop offset="31.44%" stop-color="#455ed3"/><stop offset="31.75%" stop-color="#4661d6"/><stop offset="33.81%" stop-color="#4661d6"/><stop offset="34.25%" stop-color="#4664da"/><stop offset="35.75%" stop-color="#4664da"/><stop offset="36.37%" stop-color="#4666dd"/><stop offset="41.75%" stop-color="#4771e9"/><stop offset="46.12%" stop-color="#4685fa"/><stop offset="48.75%" stop-color="#3d9efe"/><stop offset="50.12%" stop-color="#2eb4f2"/><stop offset="51.19%" stop-color="#1ecbda"/><stop offset="52.06%" stop-color="#19e2bb"/><stop offset="52.75%" stop-color="#2cf09e"/><stop offset="53.19%" stop-color="#4af880"/><stop offset="53.87%" stop-color="#8bff4b"/><stop offset="54.31%" stop-color="#a9fb39"/><stop offset="54.88%" stop-color="#c1f334"/><stop offset="55.31%" stop-color="#c1f334"/><stop offset="55.63%" stop-color="#b4f836"/><stop offset="55.87%" stop-color="#9ffd3f"/><stop offset="56.06%" stop-color="#84ff51"/><stop offset="56.38%" stop-color="#4af880"/><stop offset="56.5%" stop-color="#32f298"/><stop offset="56.69%" stop-color="#1ce6b4"/><stop offset="56.87%" stop-color="#19d5cd"/><stop offset="57.19%" stop-color="#2cb7f0"/><stop offset="57.44%" stop-color="#3e9bfe"/><stop offset="57.75%" stop-color="#4680f6"/><stop offset="58.31%" stop-color="#455ccf"/><stop offset="58.69%" stop-color="#4249b1"/><stop offset="58.81%" stop-color="#4146ac"/><stop offset="59%" stop-color="#3f3e9c"/><stop offset="59.12%" stop-color="#3f3b97"/><stop offset="59.5%" stop-color="#3c3286"/><stop offset="59.56%" stop-color="#3c3286"/><stop offset="59.62%" stop-color="#3b2f80"/><stop offset="59.69%" stop-color="#3b2f80"/><stop offset="59.75%" stop-color="#3a2d79"/><stop offset="59.87%" stop-color="#3a2d79"/><stop offset="59.94%" stop-color="#392a73"/><stop offset="60.13%" stop-color="#392a73"/><stop offset="60.19%" stop-color="#38276d"/><stop offset="60.44%" stop-color="#38276d"/><stop offset="60.5%" stop-color="#372466"/><stop offset="60.94%" stop-color="#372466"/><stop offset="61%" stop-color="#36215f"/><stop offset="64.5%" stop-color="#36215f"/><stop offset="64.56%" stop-color="#372466"/><stop offset="66.06%" stop-color="#372466"/><stop offset="66.12%" stop-color="#38276d"/><stop offset="67.62%" stop-color="#38276d"/><stop offset="67.69%" stop-color="#392a73"/><stop offset="69.44%" stop-color="#392a73"/><stop offset="69.5%" stop-color="#3a2d79"/><stop offset="71.44%" stop-color="#3a2d79"/><stop offset="71.5%" stop-color="#3b2f80"/><stop offset="73.88%" stop-color="#3b2f80"/><stop offset="73.94%" stop-color="#3c3286"/><stop offset="76.87%" stop-color="#3c3286"/><stop offset="77%" stop-color="#3d358b"/><stop offset="80.75%" stop-color="#3d358b"/><stop offset="80.87%" stop-color="#3e3891"/><stop offset="86%" stop-color="#3e3891"/><stop offset="86.12%" stop-color="#3f3b97"/><stop offset="93.44%" stop-color="#3f3b97"/><stop offset="93.56%" stop-color="#3f3e9c"/><stop offset="100%" stop-color="#3f3e9c"/></linearGradient><linearGradient id="h25"><stop offset="0%" stop-color="#4454c3"/><stop offset="6.06%" stop-color="#4454c3"/><stop offset="6.25%" stop-color="#4456c7"/><stop offset="15.44%" stop-color="#4456c7"/><stop offset="15.62%" stop-color="#4559cb"/><stop offset="21.75%" stop-color="#4559cb"/><stop offset="22%" stop-color="#455ccf"/><stop offset="26.31%" stop-color="#455ccf"/><stop offset="26.63%" stop-color="#455ed3"/><stop offset="29.75%" stop-color="#455ed3"/><stop offset="30.06%" stop-color="#4661d6"/><stop offset="32.38%" stop-color="#4661d6"/><stop offset="32.81%" stop-color="#4664da"/><stop offset="34.56%" stop-color="#4664da"/><stop offset="35.19%" stop-color="#4666dd"/><stop offset="36.31%" stop-color="#4666dd"/><stop offset="37.44%" stop-color="#4669e0"/><stop offset="43.25%" stop-color="#4778f0"/><stop offset="46.75%" stop-color="#458cfd"/><stop offset="49.06%" stop-color="#38a5fb"/><stop offset="50.44%" stop-color="#27bee9"/><stop offset="51.44%" stop-color="#19d5cd"/><stop offset="52.13%" stop-color="#1ce6b4"/><stop offset="52.69%" stop-color="#2ff19b"/><stop offset="53.25%" stop-color="#59fb73"/><stop offset="53.81%" stop-color="#8fff49"/><stop offset="54.19%" stop-color="#a9fb39"/><stop offset="54.69%" stop-color="#c3f134"/><stop offset="55.06%" stop-color="#cbed34"/><stop offset="55.44%" stop-color="#c6f034"/><stop offset="55.81%" stop-color="#acfb38"/><stop offset="56.06%" stop-color="#8fff49"/><stop offset="56.25%" stop-color="#6dfe62"/><stop offset="56.5%" stop-color="#38f491"/><stop offset="56.69%" stop-color="#1fe9af"/><stop offset="56.87%" stop-color="#18d9c8"/><stop offset="57.19%" stop-color="#2ab9ee"/><stop offset="57.44%" stop-color="#3d9efe"/><stop offset="57.75%" stop-color="#4682f8"/><stop offset="58.25%" stop-color="#4661d6"/><stop offset="58.94%" stop-color="#4040a2"/><stop offset="59.06%" stop-color="#3f3e9c"/><stop offset="59.69%" stop-color="#3b2f80"/><stop offset="59.75%" stop-color="#3a2d79"/><stop offset="59.94%" stop-color="#3a2d79"/><stop offset="60%" stop-color="#392a73"/><stop offset="60.13%" stop-color="#392a73"/><stop offset="60.19%" stop-color="#38276d"/><stop offset="60.44%" stop-color="#38276d"/><stop offset="60.5%" stop-color="#372466"/><stop offset="60.94%" stop-color="#372466"/><stop offset="61%" stop-color="#36215f"/><stop offset="64.44%" stop-color="#36215f"/><stop offset="64.5%" stop-color="#372466"/><stop offset="65.94%" stop-color="#372466"/><stop offset="66%" stop-color="#38276d"/><stop offset="67.5%" stop-color="#38276d"/><stop offset="67.56%" stop-color="#392a73"/><stop offset="69.19%" stop-color="#392a73"/><stop offset="69.25%" stop-color="#3a2d79"/><stop offset="71.12%" stop-color="#3a2d79"/><stop offset="71.19%" stop-color="#3b2f80"/><stop offset="73.44%" stop-color="#3b2f80"/><stop offset="73.5%" stop-color="#3c3286"/><stop offset="76.25%" stop-color="#3c3286"/><stop offset="76.37%" stop-color="#3d358b"/><stop offset="79.81%" stop-color="#3d358b"/><stop offset="79.94%" stop-color="#3e3891"/><stop offset="84.56%" stop-color="#3e3891"/><stop offset="84.69%" stop-color="#3f3b97"/><stop offset="91.12%" stop-color="#3f3b97"/><stop offset="91.25%" stop-color="#3f3e9c"/><stop offset="100%" stop-color="#3f3e9c"/></linearGradient><linearGradient id="h26"><stop offset="0%" stop-color="#4456c7"/><stop offset="11.12%" stop-color="#4456c7"/><stop offset="11.31%" stop-color="#4559cb"/><stop offset="18.69%" stop-color="#4559cb"/><stop offset="18.94%" stop-color="#455ccf"/><stop offset="23.94%" stop-color="#455ccf"/><stop offset="24.25%" stop-color="#455ed3"/><stop offset="27.81%" stop-color="#455ed3"/><stop offset="28.13%" stop-color="#4661d6"/><stop offset="30.87%" stop-color="#4661d6"/><stop offset="31.31%" stop-color="#4664da"/><stop offset="33.25%" stop-color="#4664da"/><stop offset="33.88%" stop-color="#4666dd"/><stop offset="35.19%" stop-color="#4666dd"/><stop offset="36.31%" stop-color="#4669e0"/><stop offset="42.06%" stop-color="#4776ee"/><stop offset="46.12%" stop-color="#458afc"/><stop offset="48.69%" stop-color="#3aa3fc"/><stop offset="50.12%" stop-color="#28bceb"/><stop offset="51.06%" stop-color="#1bd0d5"/><stop offset="51.87%" stop-color="#19e3b9"/><stop offset="52.56%" stop-color="#2ff19b"/><stop offset="53%" stop-color="#4ef97d"/><stop offset="53.81%" stop-color="#99fe42"/><stop offset="54.25%" stop-color="#b7f735"/><stop offset="55%" stop-color="#d4e735"/><stop offset="55.37%" stop-color="#d0ea34"/><stop offset="55.63%" stop-color="#c3f134"/><stop offset="55.94%" stop-color="#a7fc3a"/><stop offset="56.19%" stop-color="#80ff53"/><stop offset="56.44%" stop-color="#4ef97d"/><stop offset="56.56%" stop-color="#35f394"/><stop offset="56.75%" stop-color="#1de7b2"/><stop offset="56.94%" stop-color="#18d7ca"/><stop offset="57.25%" stop-color="#2eb4f2"/><stop offset="57.5%" stop-color="#3e9bfe"/><stop offset="57.81%" stop-color="#4680f6"/><stop offset="58.31%" stop-color="#455ed3"/><stop offset="58.87%" stop-color="#4143a7"/><stop offset="59%" stop-color="#4040a2"/><stop offset="59.25%" stop-color="#3e3891"/><stop offset="59.56%" stop-color="#3c3286"/><stop offset="59.62%" stop-color="#3b2f80"/><stop offset="59.75%" stop-color="#3b2f80"/><stop offset="59.81%" stop-color="#3a2d79"/><stop offset="59.94%" stop-color="#3a2d79"/><stop offset="60%" stop-color="#392a73"/><stop offset="60.19%" stop-color="#392a73"/><stop offset="60.25%" stop-color="#38276d"/><stop offset="60.44%" stop-color="#38276d"/><stop offset="60.5%" stop-color="#372466"/><stop offset="60.94%" stop-color="#372466"/><stop offset="61%" stop-color="#36215f"/><stop offset="64.38%" stop-color="#36215f"/><stop offset="64.44%" stop-color="#372466"/><stop offset="65.88%" stop-color="#372466"/><stop offset="65.94%" stop-color="#38276d"/><stop offset="67.38%" stop-color="#38276d"/><stop offset="67.44%" stop-color="#392a73"/><stop offset="69%" stop-color="#392a73"/><stop offset="69.06%" stop-color="#3a2d79"/><stop offset="70.88%" stop-color="#3a2d79"/><stop offset="70.94%" stop-color="#3b2f80"/><stop offset="73.06%" stop-color="#3b2f80"/><stop offset="73.13%" stop-color="#3c3286"/><stop offset="75.69%" stop-color="#3c3286"/><stop offset="75.81%" stop-color="#3d358b"/><stop offset="79%" stop-color="#3d358b"/><stop offset="79.12%" stop-color="#3e3891"/><stop offset="83.31%" stop-color="#3e3891"/><stop offset="83.44%" stop-color="#3f3b97"/><stop offset="89.13%" stop-color="#3f3b97"/><stop offset="89.25%" stop-color="#3f3e9c"/><stop offset="97.62%" stop-color="#3f3e9c"/><stop offset="97.75%" stop-color="#4040a2"/><stop offset="100%" stop-color="#4040a2"/></linearGradient><linearGradient id="h27"><stop offset="0%" stop-color="#4456c7"/><stop offset="5.37%" stop-color="#4456c7"/><stop offset="5.56%" stop-color="#4559cb"/><stop offset="14.62%" stop-color="#4559cb"/><stop offset="14.87%" stop-color="#455ccf"/><stop offset="20.94%" stop-color="#455ccf"/><stop offset="21.25%" stop-color="#455ed3"/><stop offset="25.5%" stop-color="#455ed3"/><stop offset="25.81%" stop-color="#4661d6"/><stop offset="28.94%" stop-color="#4661d6"/><stop offset="29.37%" stop-color="#4664da"/><stop offset="31.63%" stop-color="#4664da"/><stop offset="32.25%" stop-color="#4666dd"/><stop offset="33.81%" stop-color="#4666dd"/><stop offset="34.94%" stop-color="#4669e0"/><stop offset="41.37%" stop-color="#4776ee"/><stop offset="45.69%" stop-color="#458afc"/><stop offset="48.38%" stop-color="#3aa3fc"/><stop offset="49.81%" stop-color="#2ab9ee"/><stop offset="51%" stop-color="#1ad2d2"/><stop offset="51.81%" stop-color="#1ae4b6"/><stop offset="52.44%" stop-color="#2ff19b"/><stop offset="52.88%" stop-color="#4ef97d"/><stop offset="53.69%" stop-color="#99fe42"/><stop offset="54.19%" stop-color="#bcf534"/><stop offset="54.81%" stop-color="#d9e436"/><stop offset="55.19%" stop-color="#dbe236"/><stop offset="55.5%" stop-color="#d4e735"/><stop offset="55.87%" stop-color="#b7f735"/><stop offset="56.06%" stop-color="#a1fd3d"/><stop offset="56.25%" stop-color="#80ff53"/><stop offset="56.5%" stop-color="#4af880"/><stop offset="56.69%" stop-color="#27eea4"/><stop offset="56.87%" stop-color="#18e0bd"/><stop offset="57.13%" stop-color="#20c7df"/><stop offset="57.37%" stop-color="#35abf8"/><stop offset="57.62%" stop-color="#4391fe"/><stop offset="57.94%" stop-color="#4778f0"/><stop offset="58.44%" stop-color="#4559cb"/><stop offset="58.75%" stop-color="#4249b1"/><stop offset="58.87%" stop-color="#4146ac"/><stop offset="59.06%" stop-color="#3f3e9c"/><stop offset="59.19%" stop-color="#3f3b97"/><stop offset="59.69%" stop-color="#3b2f80"/><stop offset="59.75%" stop-color="#3b2f80"/><stop offset="59.81%" stop-color="#3a2d79"/><stop offset="59.94%" stop-color="#3a2d79"/><stop offset="60%" stop-color="#392a73"/><stop offset="60.19%" stop-color="#392a73"/><stop offset="60.25%" stop-color="#38276d"/><stop offset="60.5%" stop-color="#38276d"/><stop offset="60.56%" stop-color="#372466"/><stop offset="60.94%" stop-color="#372466"/><stop offset="61%" stop-color="#36215f"/><stop offset="64.31%" stop-color="#36215f"/><stop offset="64.38%" stop-color="#372466"/><stop offset="65.81%" stop-color="#372466"/><stop offset="65.88%" stop-color="#38276d"/><stop offset="67.25%" stop-color="#38276d"/><stop offset="67.31%" stop-color="#392a73"/><stop offset="68.81%" stop-color="#392a73"/><stop offset="68.87%" stop-color="#3a2d79"/><stop offset="70.56%" stop-color="#3a2d79"/><stop offset="70.62%" stop-color="#3b2f80"/><stop offset="72.62%" stop-color="#3b2f80"/><stop offset="72.69%" stop-color="#3c3286"/><stop offset="75.06%" stop-color="#3c3286"/><stop offset="75.19%" stop-color="#3d358b"/><stop offset="78.12%" stop-color="#3d358b"/><stop offset="78.25%" stop-color="#3e3891"/><stop offset="82.06%" stop-color="#3e3891"/><stop offset="82.19%" stop-color="#3f3b97"/><stop offset="87.25%" stop-color="#3f3b97"/><stop offset="87.37%" stop-color="#3f3e9c"/><stop offset="94.56%" stop-color="#3f3e9c"/><stop offset="94.69%" stop-color="#4040a2"/><stop offset="100%" stop-color="#4040a2"/></linearGradient><linearGradient id="h28"><stop offset="0%" stop-color="#4559cb"/><stop offset="9.81%" stop-color="#4559cb"/><stop offset="10.06%" stop-color="#455ccf"/><stop offset="17.44%" stop-color="#455ccf"/><stop offset="17.75%" stop-color="#455ed3"/><stop offset="22.81%" stop-color="#455ed3"/><stop offset="23.13%" stop-color="#4661d6"/><stop offset="26.75%" stop-color="#4661d6"/><stop offset="27.19%" stop-color="#4664da"/><stop offset="29.87%" stop-color="#4664da"/><stop offset="30.5%" stop-color="#4666dd"/><stop offset="32.31%" stop-color="#4666dd"/><stop offset="33.44%" stop-color="#4669e0"/><stop offset="40.62%" stop-color="#4776ee"/><stop offset="45.31%" stop-color="#458afc"/><stop offset="48.12%" stop-color="#3aa3fc"/><stop offset="49.62%" stop-color="#2ab9ee"/><stop offset="50.81%" stop-color="#1ad2d2"/><stop offset="51.69%" stop-color="#1ae4b6"/><stop offset="52.31%" stop-color="#2ff19b"/><stop offset="52.81%" stop-color="#52fa7a"/><stop offset="53.37%" stop-color="#88ff4e"/><stop offset="53.87%" stop-color="#affa37"/><stop offset="54.44%" stop-color="#d2e935"/><stop offset="54.94%" stop-color="#e3db38"/><stop offset="55.37%" stop-color="#dfdf37"/><stop offset="55.69%" stop-color="#d0ea34"/><stop offset="56.06%" stop-color="#a9fb39"/><stop offset="56.25%" stop-color="#8bff4b"/><stop offset="56.44%" stop-color="#61fc6c"/><stop offset="56.69%" stop-color="#2cf09e"/><stop offset="56.87%" stop-color="#19e3b9"/><stop offset="57.06%" stop-color="#1ad2d2"/><stop offset="57.31%" stop-color="#2eb4f2"/><stop offset="57.56%" stop-color="#3e9bfe"/><stop offset="57.88%" stop-color="#4680f6"/><stop offset="58.31%" stop-color="#4661d6"/><stop offset="59%" stop-color="#4040a2"/><stop offset="59.12%" stop-color="#3f3e9c"/><stop offset="59.75%" stop-color="#3b2f80"/><stop offset="59.81%" stop-color="#3a2d79"/><stop offset="59.94%" stop-color="#3a2d79"/><stop offset="60%" stop-color="#392a73"/><stop offset="60.19%" stop-color="#392a73"/><stop offset="60.25%" stop-color="#38276d"/><stop offset="60.5%" stop-color="#38276d"/><stop offset="60.56%" stop-color="#372466"/><stop offset="60.94%" stop-color="#372466"/><stop offset="61%" stop-color="#36215f"/><stop offset="64.31%" stop-color="#36215f"/><stop offset="64.38%" stop-color="#372466"/><stop offset="65.69%" stop-color="#372466"/><stop offset="65.75%" stop-color="#38276d"/><stop offset="67.06%" stop-color="#38276d"/><stop offset="67.12%" stop-color="#392a73"/><stop offset="68.62%" stop-color="#392a73"/><stop offset="68.69%" stop-color="#3a2d79"/><stop offset="70.31%" stop-color="#3a2d79"/><stop offset="70.37%" stop-color="#3b2f80"/><stop offset="72.25%" stop-color="#3b2f80"/><stop offset="72.31%" stop-color="#3c3286"/><stop offset="74.56%" stop-color="#3c3286"/><stop offset="74.69%" stop-color="#3d358b"/><stop offset="77.37%" stop-color="#3d358b"/><stop offset="77.5%" stop-color="#3e3891"/><stop offset="80.94%" stop-color="#3e3891"/><stop offset="81.06%" stop-color="#3f3b97"/><stop offset="85.62%" stop-color="#3f3b97"/><stop offset="85.75%" stop-color="#3f3e9c"/><stop offset="92%" stop-color="#3f3e9c"/><stop offset="92.12%" stop-color="#4040a2"/><stop offset="100%" stop-color="#4040a2"/></linearGradient><linearGradient id="h29"><stop offset="0%" stop-color="#4559cb"/><stop offset="3.94%" stop-color="#4559cb"/><stop offset="4.19%" stop-color="#455ccf"/><stop offset="13.31%" stop-color="#455ccf"/><stop offset="13.63%" stop-color="#455ed3"/><stop offset="19.69%" stop-color="#455ed3"/><stop offset="20%" stop-color="#4661d6"/><stop offset="24.38%" stop-color="#4661d6"/><stop offset="24.81%" stop-color="#4664da"/><stop offset="27.87%" stop-color="#4664da"/><stop offset="28.5%" stop-color="#4666dd"/><stop offset="30.69%" stop-color="#4666dd"/><stop offset="31.81%" stop-color="#4669e0"/><stop offset="38.87%" stop-color="#4773eb"/><stop offset="43.94%" stop-color="#4685fa"/><stop offset="46.88%" stop-color="#4099ff"/><stop offset="48.81%" stop-color="#31aff5"/><stop offset="50.12%" stop-color="#20c7df"/><stop offset="51.31%" stop-color="#18e0bd"/><stop offset="51.94%" stop-color="#25eca7"/><stop offset="52.5%" stop-color="#43f787"/><stop offset="53.19%" stop-color="#80ff53"/><stop offset="53.69%" stop-color="#a9fb39"/><stop offset="54.25%" stop-color="#d0ea34"/><stop offset="54.69%" stop-color="#e3db38"/><stop offset="55.06%" stop-color="#ebd339"/><stop offset="55.44%" stop-color="#e5d938"/><stop offset="55.75%" stop-color="#d4e735"/><stop offset="56.06%" stop-color="#b1f936"/><stop offset="56.25%" stop-color="#96fe44"/><stop offset="56.5%" stop-color="#5dfc6f"/><stop offset="56.62%" stop-color="#3ff68a"/><stop offset="56.81%" stop-color="#20eaac"/><stop offset="57%" stop-color="#18dbc5"/><stop offset="57.31%" stop-color="#2ab9ee"/><stop offset="57.56%" stop-color="#3d9efe"/><stop offset="57.81%" stop-color="#4685fa"/><stop offset="58.12%" stop-color="#476ee6"/><stop offset="58.5%" stop-color="#4559cb"/><stop offset="58.81%" stop-color="#4249b1"/><stop offset="58.94%" stop-color="#4143a7"/><stop offset="59.06%" stop-color="#4040a2"/><stop offset="59.31%" stop-color="#3e3891"/><stop offset="59.62%" stop-color="#3c3286"/><stop offset="59.69%" stop-color="#3b2f80"/><stop offset="59.81%" stop-color="#3b2f80"/><stop offset="59.87%" stop-color="#3a2d79"/><stop offset="60%" stop-color="#3a2d79"/><stop offset="60.06%" stop-color="#392a73"/><stop offset="60.19%" stop-color="#392a73"/><stop offset="60.25%" stop-color="#38276d"/><stop offset="60.5%" stop-color="#38276d"/><stop offset="60.56%" stop-color="#372466"/><stop offset="60.94%" stop-color="#372466"/><stop offset="61%" stop-color="#36215f"/><stop offset="64.25%" stop-color="#36215f"/><stop offset="64.31%" stop-color="#372466"/><stop offset="65.62%" stop-color="#372466"/><stop offset="65.69%" stop-color="#38276d"/><stop offset="66.94%" stop-color="#38276d"/><stop offset="67%" stop-color="#392a73"/><stop offset="68.44%" stop-color="#392a73"/><stop offset="68.5%" stop-color="#3a2d79"/><stop offset="70%" stop-color="#3a2d79"/><stop offset="70.06%" stop-color="#3b2f80"/><stop offset="71.87%" stop-color="#3b2f80"/><stop offset="71.94%" stop-color="#3c3286"/><stop offset="74.06%" stop-color="#3c3286"/><stop offset="74.19%" stop-color="#3d358b"/><stop offset="76.69%" stop-color="#3d358b"/><stop offset="76.81%" stop-color="#3e3891"/><stop offset="79.94%" stop-color="#3e3891"/><stop offset="80.06%" stop-color="#3f3b97"/><stop offset="84.19%" stop-color="#3f3b97"/><stop offset="84.31%" stop-color="#3f3e9c"/><stop offset="89.81%" stop-color="#3f3e9c"/><stop offset="89.94%" stop-color="#4040a2"/><stop offset="97.81%" stop-color="#4040a2"/><stop offset="97.94%" stop-color="#4143a7"/><stop offset="100%" stop-color="#4143a7"/></linearGradient><linearGradient id="h30"><stop offset="0%" stop-color="#455ccf"/><stop offset="8.38%" stop-color="#455ccf"/><stop offset="8.69%" stop-color="#455ed3"/><stop offset="16.12%" stop-color="#455ed3"/><stop offset="16.44%" stop-color="#4661d6"/><stop offset="21.63%" stop-color="#4661d6"/><stop offset="22.06%" stop-color="#4664da"/><stop offset="25.69%" stop-color="#4664da"/><stop offset="26.31%" stop-color="#4666dd"/><stop offset="28.88%" stop-color="#4666dd"/><stop offset="30%" stop-color="#4669e0"/><stop offset="37.94%" stop-color="#4773eb"/><stop offset="43.44%" stop-color="#4685fa"/><stop offset="46.56%" stop-color="#4099ff"/><stop offset="48.56%" stop-color="#31aff5"/><stop offset="50%" stop-color="#20c7df"/><stop offset="51.12%" stop-color="#18dec0"/><stop offset="51.75%" stop-color="#22ebaa"/><stop offset="52.31%" stop-color="#3ff68a"/><stop offset="52.88%" stop-color="#6dfe62"/><stop offset="53.37%" stop-color="#9cfe40"/><stop offset="53.87%" stop-color="#bef434"/><stop offset="54.37%" stop-color="#dfdf37"/><stop offset="55%" stop-color="#f1cb3a"/><stop offset="55.44%" stop-color="#ecd13a"/><stop offset="55.81%" stop-color="#d7e535"/><stop offset="56.12%" stop-color="#affa37"/><stop offset="56.31%" stop-color="#92ff47"/><stop offset="56.62%" stop-color="#4af880"/><stop offset="56.81%" stop-color="#25eca7"/><stop offset="57%" stop-color="#18ddc2"/><stop offset="57.19%" stop-color="#1fc9dd"/><stop offset="57.5%" stop-color="#38a5fb"/><stop offset="57.75%" stop-color="#448ffe"/><stop offset="58.19%" stop-color="#466be3"/><stop offset="58.69%" stop-color="#4451bf"/><stop offset="58.75%" stop-color="#424bb5"/><stop offset="58.87%" stop-color="#4249b1"/><stop offset="59.12%" stop-color="#3f3e9c"/><stop offset="59.25%" stop-color="#3f3b97"/><stop offset="59.75%" stop-color="#3b2f80"/><stop offset="59.81%" stop-color="#3b2f80"/><stop offset="59.87%" stop-color="#3a2d79"/><stop offset="60%" stop-color="#3a2d79"/><stop offset="60.06%" stop-color="#392a73"/><stop offset="60.19%" stop-color="#392a73"/><stop offset="60.25%" stop-color="#38276d"/><stop offset="60.5%" stop-color="#38276d"/><stop offset="60.56%" stop-color="#372466"/><stop offset="60.94%" stop-color="#372466"/><stop offset="61%" stop-color="#36215f"/><stop offset="64.19%" stop-color="#36215f"/><stop offset="64.25%" stop-color="#372466"/><stop offset="65.5%" stop-color="#372466"/><stop offset="65.56%" stop-color="#38276d"/><stop offset="66.81%" stop-color="#38276d"/><stop offset="66.87%" stop-color="#392a73"/><stop offset="68.25%" stop-color="#392a73"/><stop offset="68.31%" stop-color="#3a2d79"/><stop offset="69.81%" stop-color="#3a2d79"/><stop offset="69.87%" stop-color="#3b2f80"/><stop offset="71.56%" stop-color="#3b2f80"/><stop offset="71.63%" stop-color="#3c3286"/><stop offset="73.62%" stop-color="#3c3286"/><stop offset="73.75%" stop-color="#3d358b"/><stop offset="76.06%" stop-color="#3d358b"/><stop offset="76.19%" stop-color="#3e3891"/><stop offset="79.06%" stop-color="#3e3891"/><stop offset="79.19%" stop-color="#3f3b97"/><stop offset="82.87%" stop-color="#3f3b97"/><stop offset="83%" stop-color="#3f3e9c"/><stop offset="87.94%" stop-color="#3f3e9c"/><stop offset="88.06%" stop-color="#4040a2"/><stop offset="94.88%" stop-color="#4040a2"/><stop offset="95%" stop-color="#4143a7"/><stop offset="100%" stop-color="#4143a7"/></linearGradient><linearGradient id="h31"><stop offset="0%" stop-color="#455ccf"/><stop offset="2.44%" stop-color="#455ccf"/><stop offset="2.75%" stop-color="#455ed3"/><stop offset="11.94%" stop-color="#455ed3"/><stop offset="12.25%" stop-color="#4661d6"/><stop offset="18.44%" stop-color="#4661d6"/><stop offset="18.87%" stop-color="#4664da"/><stop offset="23.19%" stop-color="#4664da"/><stop offset="23.81%" stop-color="#4666dd"/><stop offset="26.87%" stop-color="#4666dd"/><stop offset="28%" stop-color="#4669e0"/><stop offset="37%" stop-color="#4773eb"/><stop offset="42.94%" stop-color="#4685fa"/><stop offset="46.5%" stop-color="#3e9bfe"/><stop offset="48.5%" stop-color="#2fb2f4"/><stop offset="49.75%" stop-color="#20c7df"/><stop offset="50.94%" stop-color="#18dec0"/><stop offset="51.69%" stop-color="#25eca7"/><stop offset="52.25%" stop-color="#43f787"/><stop offset="52.81%" stop-color="#71fe5f"/><stop offset="53.37%" stop-color="#a4fc3c"/><stop offset="53.87%" stop-color="#c8ef34"/><stop offset="54.56%" stop-color="#eecf3a"/><stop offset="55.06%" stop-color="#f6c33a"/><stop offset="55.44%" stop-color="#f1cb3a"/><stop offset="55.69%" stop-color="#e7d739"/><stop offset="56.06%" stop-color="#c1f334"/><stop offset="56.25%" stop-color="#a4fc3c"/><stop offset="56.38%" stop-color="#8fff49"/><stop offset="56.69%" stop-color="#43f787"/><stop offset="56.81%" stop-color="#2aefa1"/><stop offset="57%" stop-color="#18e0bd"/><stop offset="57.25%" stop-color="#20c7df"/><stop offset="57.44%" stop-color="#31aff5"/><stop offset="57.69%" stop-color="#4196ff"/><stop offset="58%" stop-color="#477bf2"/><stop offset="58.44%" stop-color="#455ed3"/><stop offset="59.06%" stop-color="#4040a2"/><stop offset="59.19%" stop-color="#3f3e9c"/><stop offset="59.44%" stop-color="#3d358b"/><stop offset="59.69%" stop-color="#3c3286"/><stop offset="59.75%" stop-color="#3b2f80"/><stop offset="59.81%" stop-color="#3b2f80"/><stop offset="59.87%" stop-color="#3a2d79"/><stop offset="60%" stop-color="#3a2d79"/><stop offset="60.06%" stop-color="#392a73"/><stop offset="60.25%" stop-color="#392a73"/><stop offset="60.31%" stop-color="#38276d"/><stop offset="60.5%" stop-color="#38276d"/><stop offset="60.56%" stop-color="#372466"/><stop offset="60.94%" stop-color="#372466"/><stop offset="61%" stop-color="#36215f"/><stop offset="64.12%" stop-color="#36215f"/><stop offset="64.19%" stop-color="#372466"/><stop offset="65.44%" stop-color="#372466"/><stop offset="65.5%" stop-color="#38276d"/><stop offset="66.75%" stop-color="#38276d"/><stop offset="66.81%" stop-color="#392a73"/><stop offset="68.06%" stop-color="#392a73"/><stop offset="68.13%" stop-color="#3a2d79"/><stop offset="69.56%" stop-color="#3a2d79"/><stop offset="69.62%" stop-color="#3b2f80"/><stop offset="71.25%" stop-color="#3b2f80"/><stop offset="71.31%" stop-color="#3c3286"/><stop offset="73.19%" stop-color="#3c3286"/><stop offset="73.31%" stop-color="#3d358b"/><stop offset="75.5%" stop-color="#3d358b"/><stop offset="75.62%" stop-color="#3e3891"/><stop offset="78.31%" stop-color="#3e3891"/><stop offset="78.44%" stop-color="#3f3b97"/><stop offset="81.81%" stop-color="#3f3b97"/><stop offset="81.94%" stop-color="#3f3e9c"/><stop offset="86.31%" stop-color="#3f3e9c"/><stop offset="86.44%" stop-color="#4040a2"/><stop offset="92.37%" stop-color="#4040a2"/><stop offset="92.5%" stop-color="#4143a7"/><stop offset="100%" stop-color="#4143a7"/></linearGradient><linearGradient id="h32"><stop offset="0%" stop-color="#455ed3"/><stop offset="6.87%" stop-color="#455ed3"/><stop offset="7.19%" stop-color="#4661d6"/><stop offset="14.75%" stop-color="#4661d6"/><stop offset="15.19%" stop-color="#4664da"/><stop offset="20.37%" stop-color="#4664da"/><stop offset="21%" stop-color="#4666dd"/><stop offset="24.56%" stop-color="#4666dd"/><stop offset="25.69%" stop-color="#4669e0"/><stop offset="34.44%" stop-color="#4771e9"/><stop offset="41%" stop-color="#4680f6"/><stop offset="45.19%" stop-color="#4294ff"/><stop offset="47.69%" stop-color="#35abf8"/><stop offset="49.19%" stop-color="#25c0e7"/><stop offset="50.63%" stop-color="#18dbc5"/><stop offset="51.31%" stop-color="#1fe9af"/><stop offset="52.13%" stop-color="#43f787"/><stop offset="52.94%" stop-color="#88ff4e"/><stop offset="53.44%" stop-color="#affa37"/><stop offset="54.06%" stop-color="#dbe236"/><stop offset="54.5%" stop-color="#f1cb3a"/><stop offset="54.94%" stop-color="#f9bc39"/><stop offset="55.31%" stop-color="#f8be39"/><stop offset="55.69%" stop-color="#ecd13a"/><stop offset="55.94%" stop-color="#d9e436"/><stop offset="56.19%" stop-color="#b7f735"/><stop offset="56.38%" stop-color="#96fe44"/><stop offset="56.62%" stop-color="#59fb73"/><stop offset="56.81%" stop-color="#2ff19b"/><stop offset="56.94%" stop-color="#1fe9af"/><stop offset="57.06%" stop-color="#18ddc2"/><stop offset="57.37%" stop-color="#28bceb"/><stop offset="57.62%" stop-color="#3d9efe"/><stop offset="57.94%" stop-color="#4682f8"/><stop offset="58.44%" stop-color="#455ed3"/><stop offset="59%" stop-color="#4143a7"/><stop offset="59.12%" stop-color="#4040a2"/><stop offset="59.25%" stop-color="#3f3b97"/><stop offset="59.56%" stop-color="#3d358b"/><stop offset="59.87%" stop-color="#3a2d79"/><stop offset="60%" stop-color="#3a2d79"/><stop offset="60.06%" stop-color="#392a73"/><stop offset="60.25%" stop-color="#392a73"/><stop offset="60.31%" stop-color="#38276d"/><stop offset="60.5%" stop-color="#38276d"/><stop offset="60.56%" stop-color="#372466"/><stop offset="61%" stop-color="#372466"/><stop offset="61.06%" stop-color="#36215f"/><stop offset="64.12%" stop-color="#36215f"/><stop offset="64.19%" stop-color="#372466"/><stop offset="65.37%" stop-color="#372466"/><stop offset="65.44%" stop-color="#38276d"/><stop offset="66.63%" stop-color="#38276d"/><stop offset="66.69%" stop-color="#392a73"/><stop offset="67.94%" stop-color="#392a73"/><stop offset="68%" stop-color="#3a2d79"/><stop offset="69.31%" stop-color="#3a2d79"/><stop offset="69.37%" stop-color="#3b2f80"/><stop offset="70.94%" stop-color="#3b2f80"/><stop offset="71%" stop-color="#3c3286"/><stop offset="72.81%" stop-color="#3c3286"/><stop offset="72.94%" stop-color="#3d358b"/><stop offset="74.94%" stop-color="#3d358b"/><stop offset="75.06%" stop-color="#3e3891"/><stop offset="77.56%" stop-color="#3e3891"/><stop offset="77.69%" stop-color="#3f3b97"/><stop offset="80.81%" stop-color="#3f3b97"/><stop offset="80.94%" stop-color="#3f3e9c"/><stop offset="84.87%" stop-color="#3f3e9c"/><stop offset="85%" stop-color="#4040a2"/><stop offset="90.25%" stop-color="#4040a2"/><stop offset="90.37%" stop-color="#4143a7"/><stop offset="97.75%" stop-color="#4143a7"/><stop offset="97.87%" stop-color="#4146ac"/><stop offset="100%" stop-color="#4146ac"/></linearGradient><linearGradient id="h33"><stop offset="0%" stop-color="#455ed3"/><stop offset="0.87%" stop-color="#455ed3"/><stop offset="1.19%" stop-color="#4661d6"/><stop offset="10.5%" stop-color="#4661d6"/><stop offset="10.94%" stop-color="#4664da"/><stop offset="17.13%" stop-color="#4664da"/><stop offset="17.75%" stop-color="#4666dd"/><stop offset="22.06%" stop-color="#4666dd"/><stop offset="23.19%" stop-color="#4669e0"/><stop offset="33.13%" stop-color="#4771e9"/><stop offset="41.13%" stop-color="#4682f8"/><stop offset="45.12%" stop-color="#4196ff"/><stop offset="47.63%" stop-color="#33adf7"/><stop offset="49.25%" stop-color="#22c5e2"/><stop offset="50.44%" stop-color="#18dbc5"/><stop offset="51.19%" stop-color="#1fe9af"/><stop offset="52%" stop-color="#43f787"/><stop offset="52.5%" stop-color="#69fd66"/><stop offset="53.06%" stop-color="#9cfe40"/><stop offset="53.5%" stop-color="#bcf534"/><stop offset="54.12%" stop-color="#e7d739"/><stop offset="54.69%" stop-color="#f9bc39"/><stop offset="55.06%" stop-color="#fcb336"/><stop offset="55.37%" stop-color="#fbb838"/><stop offset="55.75%" stop-color="#eecf3a"/><stop offset="56%" stop-color="#d9e436"/><stop offset="56.25%" stop-color="#b4f836"/><stop offset="56.44%" stop-color="#92ff47"/><stop offset="56.62%" stop-color="#65fd69"/><stop offset="56.75%" stop-color="#43f787"/><stop offset="56.94%" stop-color="#20eaac"/><stop offset="57.13%" stop-color="#18d9c8"/><stop offset="57.44%" stop-color="#2cb7f0"/><stop offset="57.69%" stop-color="#3e9bfe"/><stop offset="57.94%" stop-color="#4682f8"/><stop offset="58.44%" stop-color="#4661d6"/><stop offset="58.69%" stop-color="#4454c3"/><stop offset="58.87%" stop-color="#4249b1"/><stop offset="59%" stop-color="#4146ac"/><stop offset="59.19%" stop-color="#3f3e9c"/><stop offset="59.31%" stop-color="#3f3b97"/><stop offset="59.94%" stop-color="#3a2d79"/><stop offset="60%" stop-color="#3a2d79"/><stop offset="60.06%" stop-color="#392a73"/><stop offset="60.25%" stop-color="#392a73"/><stop offset="60.31%" stop-color="#38276d"/><stop offset="60.56%" stop-color="#38276d"/><stop offset="60.62%" stop-color="#372466"/><stop offset="61%" stop-color="#372466"/><stop offset="61.06%" stop-color="#36215f"/><stop offset="64.06%" stop-color="#36215f"/><stop offset="64.12%" stop-color="#372466"/><stop offset="65.31%" stop-color="#372466"/><stop offset="65.37%" stop-color="#38276d"/><stop offset="66.5%" stop-color="#38276d"/><stop offset="66.56%" stop-color="#392a73"/><stop offset="67.75%" stop-color="#392a73"/><stop offset="67.81%" stop-color="#3a2d79"/><stop offset="69.12%" stop-color="#3a2d79"/><stop offset="69.19%" stop-color="#3b2f80"/><stop offset="70.69%" stop-color="#3b2f80"/><stop offset="70.75%" stop-color="#3c3286"/><stop offset="72.44%" stop-color="#3c3286"/><stop offset="72.56%" stop-color="#3d358b"/><stop offset="74.5%" stop-color="#3d358b"/><stop offset="74.63%" stop-color="#3e3891"/><stop offset="76.94%" stop-color="#3e3891"/><stop offset="77.06%" stop-color="#3f3b97"/><stop offset="79.87%" stop-color="#3f3b97"/><stop offset="80%" stop-color="#3f3e9c"/><stop offset="83.62%" stop-color="#3f3e9c"/><stop offset="83.75%" stop-color="#4040a2"/><stop offset="88.44%" stop-color="#4040a2"/><stop offset="88.56%" stop-color="#4143a7"/><stop offset="95%" stop-color="#4143a7"/><stop offset="95.12%" stop-color="#4146ac"/><stop offset="100%" stop-color="#4146ac"/></linearGradient><linearGradient id="h34"><stop offset="0%" stop-color="#4661d6"/><stop offset="5.37%" stop-color="#4661d6"/><stop offset="5.81%" stop-color="#4664da"/><stop offset="13.44%" stop-color="#4664da"/><stop offset="14.06%" stop-color="#4666dd"/><stop offset="19.12%" stop-color="#4666dd"/><stop offset="20.25%" stop-color="#4669e0"/><stop offset="29.56%" stop-color="#476ee6"/><stop offset="38.75%" stop-color="#467df4"/><stop offset="43.94%" stop-color="#4391fe"/><stop offset="46.88%" stop-color="#37a8fa"/><stop offset="48.62%" stop-color="#27bee9"/><stop offset="50.19%" stop-color="#18d9c8"/><stop offset="51%" stop-color="#1de7b2"/><stop offset="51.75%" stop-color="#3cf58e"/><stop offset="52%" stop-color="#4af880"/><stop offset="52.56%" stop-color="#79fe59"/><stop offset="53.06%" stop-color="#a4fc3c"/><stop offset="53.56%" stop-color="#c8ef34"/><stop offset="54.12%" stop-color="#ecd13a"/><stop offset="54.62%" stop-color="#fbb637"/><stop offset="55.06%" stop-color="#fea933"/><stop offset="55.44%" stop-color="#fcb136"/><stop offset="55.81%" stop-color="#efcd3a"/><stop offset="56.12%" stop-color="#d0ea34"/><stop offset="56.31%" stop-color="#b1f936"/><stop offset="56.44%" stop-color="#9cfe40"/><stop offset="56.69%" stop-color="#5dfc6f"/><stop offset="56.81%" stop-color="#3cf58e"/><stop offset="57%" stop-color="#1de7b2"/><stop offset="57.19%" stop-color="#19d5cd"/><stop offset="57.44%" stop-color="#2ab9ee"/><stop offset="57.69%" stop-color="#3d9efe"/><stop offset="57.94%" stop-color="#4685fa"/><stop offset="58.44%" stop-color="#4661d6"/><stop offset="59.12%" stop-color="#4040a2"/><stop offset="59.25%" stop-color="#3f3e9c"/><stop offset="59.5%" stop-color="#3d358b"/><stop offset="59.69%" stop-color="#3c3286"/><stop offset="59.75%" stop-color="#3b2f80"/><stop offset="59.87%" stop-color="#3b2f80"/><stop offset="59.94%" stop-color="#3a2d79"/><stop offset="60.06%" stop-color="#3a2d79"/><stop offset="60.13%" stop-color="#392a73"/><stop offset="60.25%" stop-color="#392a73"/><stop offset="60.31%" stop-color="#38276d"/><stop offset="60.56%" stop-color="#38276d"/><stop offset="60.62%" stop-color="#372466"/><stop offset="61%" stop-color="#372466"/><stop offset="61.06%" stop-color="#36215f"/><stop offset="64%" stop-color="#36215f"/><stop offset="64.06%" stop-color="#372466"/><stop offset="65.25%" stop-color="#372466"/><stop offset="65.31%" stop-color="#38276d"/><stop offset="66.37%" stop-color="#38276d"/><stop offset="66.44%" stop-color="#392a73"/><stop offset="67.62%" stop-color="#392a73"/><stop offset="67.69%" stop-color="#3a2d79"/><stop offset="68.94%" stop-color="#3a2d79"/><stop offset="69%" stop-color="#3b2f80"/><stop offset="70.44%" stop-color="#3b2f80"/><stop offset="70.5%" stop-color="#3c3286"/><stop offset="72.06%" stop-color="#3c3286"/><stop offset="72.19%" stop-color="#3d358b"/><stop offset="74%" stop-color="#3d358b"/><stop offset="74.12%" stop-color="#3e3891"/><stop offset="76.31%" stop-color="#3e3891"/><stop offset="76.44%" stop-color="#3f3b97"/><stop offset="79.06%" stop-color="#3f3b97"/><stop offset="79.19%" stop-color="#3f3e9c"/><stop offset="82.5%" stop-color="#3f3e9c"/><stop offset="82.62%" stop-color="#4040a2"/><stop offset="86.88%" stop-color="#4040a2"/><stop offset="87%" stop-color="#4143a7"/><stop offset="92.62%" stop-color="#4143a7"/><stop offset="92.75%" stop-color="#4146ac"/><stop offset="100%" stop-color="#4146ac"/></linearGradient><linearGradient id="h35"><stop offset="0%" stop-color="#4664da"/><stop offset="9%" stop-color="#4664da"/><stop offset="9.62%" stop-color="#4666dd"/><stop offset="15.81%" stop-color="#4666dd"/><stop offset="16.94%" stop-color="#4669e0"/><stop offset="27.75%" stop-color="#476ee6"/><stop offset="37.87%" stop-color="#467df4"/><stop offset="43%" stop-color="#448ffe"/><stop offset="46.31%" stop-color="#38a5fb"/><stop offset="48.25%" stop-color="#28bceb"/><stop offset="49.81%" stop-color="#19d5cd"/><stop offset="50.75%" stop-color="#1ce6b4"/><stop offset="51.38%" stop-color="#2ff19b"/><stop offset="51.94%" stop-color="#4ef97d"/><stop offset="52.88%" stop-color="#9ffd3f"/><stop offset="53.37%" stop-color="#c1f334"/><stop offset="54.06%" stop-color="#efcd3a"/><stop offset="54.62%" stop-color="#fdac34"/><stop offset="55%" stop-color="#fe9e2f"/><stop offset="55.25%" stop-color="#fea130"/><stop offset="55.63%" stop-color="#fbb637"/><stop offset="55.87%" stop-color="#f1cb3a"/><stop offset="56.19%" stop-color="#cdec34"/><stop offset="56.38%" stop-color="#acfb38"/><stop offset="56.5%" stop-color="#96fe44"/><stop offset="56.75%" stop-color="#55fa76"/><stop offset="56.87%" stop-color="#35f394"/><stop offset="57.06%" stop-color="#1ae4b6"/><stop offset="57.25%" stop-color="#1ad2d2"/><stop offset="57.5%" stop-color="#2eb4f2"/><stop offset="57.75%" stop-color="#4099ff"/><stop offset="58.06%" stop-color="#467df4"/><stop offset="58.56%" stop-color="#455ccf"/><stop offset="59.06%" stop-color="#4143a7"/><stop offset="59.19%" stop-color="#4040a2"/><stop offset="59.31%" stop-color="#3f3b97"/><stop offset="59.44%" stop-color="#3e3891"/><stop offset="59.81%" stop-color="#3b2f80"/><stop offset="59.87%" stop-color="#3b2f80"/><stop offset="59.94%" stop-color="#3a2d79"/><stop offset="60.06%" stop-color="#3a2d79"/><stop offset="60.13%" stop-color="#392a73"/><stop offset="60.25%" stop-color="#392a73"/><stop offset="60.31%" stop-color="#38276d"/><stop offset="60.56%" stop-color="#38276d"/><stop offset="60.62%" stop-color="#372466"/><stop offset="61%" stop-color="#372466"/><stop offset="61.06%" stop-color="#36215f"/><stop offset="64%" stop-color="#36215f"/><stop offset="64.06%" stop-color="#372466"/><stop offset="65.19%" stop-color="#372466"/><stop offset="65.25%" stop-color="#38276d"/><stop offset="66.31%" stop-color="#38276d"/><stop offset="66.37%" stop-color="#392a73"/><stop offset="67.5%" stop-color="#392a73"/><stop offset="67.56%" stop-color="#3a2d79"/><stop offset="68.75%" stop-color="#3a2d79"/><stop offset="68.81%" stop-color="#3b2f80"/><stop offset="70.19%" stop-color="#3b2f80"/><stop offset="70.25%" stop-color="#3c3286"/><stop offset="71.75%" stop-color="#3c3286"/><stop offset="71.87%" stop-color="#3d358b"/><stop offset="73.62%" stop-color="#3d358b"/><stop offset="73.75%" stop-color="#3e3891"/><stop offset="75.75%" stop-color="#3e3891"/><stop offset="75.87%" stop-color="#3f3b97"/><stop offset="78.31%" stop-color="#3f3b97"/><stop offset="78.44%" stop-color="#3f3e9c"/><stop offset="81.5%" stop-color="#3f3e9c"/><stop offset="81.62%" stop-color="#4040a2"/><stop offset="85.44%" stop-color="#4040a2"/><stop offset="85.56%" stop-color="#4143a7"/><stop offset="90.56%" stop-color="#4143a7"/><stop offset="90.69%" stop-color="#4146ac"/><stop offset="97.62%" stop-color="#4146ac"/><stop offset="97.75%" stop-color="#4249b1"/><stop offset="100%" stop-color="#4249b1"/></linearGradient><linearGradient id="h36"><stop offset="0%" stop-color="#4664da"/><stop offset="3.25%" stop-color="#4664da"/><stop offset="3.87%" stop-color="#4666dd"/><stop offset="11.62%" stop-color="#4666dd"/><stop offset="12.75%" stop-color="#4669e0"/><stop offset="22.06%" stop-color="#466be3"/><stop offset="34.31%" stop-color="#4778f0"/><stop offset="41.25%" stop-color="#458afc"/><stop offset="45.37%" stop-color="#3ba0fd"/><stop offset="47.63%" stop-color="#2cb7f0"/><stop offset="49.19%" stop-color="#1ccdd8"/><stop offset="50.37%" stop-color="#19e3b9"/><stop offset="50.87%" stop-color="#22ebaa"/><stop offset="51.44%" stop-color="#38f491"/><stop offset="51.75%" stop-color="#4af880"/><stop offset="52.37%" stop-color="#7dff56"/><stop offset="52.81%" stop-color="#a1fd3d"/><stop offset="53.31%" stop-color="#c6f034"/><stop offset="53.87%" stop-color="#ebd339"/><stop offset="54.37%" stop-color="#fcb136"/><stop offset="54.88%" stop-color="#fe962b"/><stop offset="55.31%" stop-color="#fe962b"/><stop offset="55.69%" stop-color="#fcb136"/><stop offset="55.94%" stop-color="#f1cb3a"/><stop offset="56.19%" stop-color="#d4e735"/><stop offset="56.38%" stop-color="#b4f836"/><stop offset="56.5%" stop-color="#9ffd3f"/><stop offset="56.62%" stop-color="#80ff53"/><stop offset="56.87%" stop-color="#3cf58e"/><stop offset="57.06%" stop-color="#1de7b2"/><stop offset="57.25%" stop-color="#19d5cd"/><stop offset="57.56%" stop-color="#31aff5"/><stop offset="57.81%" stop-color="#4196ff"/><stop offset="58.12%" stop-color="#477bf2"/><stop offset="58.63%" stop-color="#4559cb"/><stop offset="58.75%" stop-color="#4454c3"/><stop offset="58.94%" stop-color="#4249b1"/><stop offset="59.19%" stop-color="#4040a2"/><stop offset="59.44%" stop-color="#3e3891"/><stop offset="59.75%" stop-color="#3c3286"/><stop offset="59.81%" stop-color="#3b2f80"/><stop offset="59.87%" stop-color="#3b2f80"/><stop offset="59.94%" stop-color="#3a2d79"/><stop offset="60.06%" stop-color="#3a2d79"/><stop offset="60.13%" stop-color="#392a73"/><stop offset="60.25%" stop-color="#392a73"/><stop offset="60.31%" stop-color="#38276d"/><stop offset="60.56%" stop-color="#38276d"/><stop offset="60.62%" stop-color="#372466"/><stop offset="61%" stop-color="#372466"/><stop offset="61.06%" stop-color="#36215f"/><stop offset="63.94%" stop-color="#36215f"/><stop offset="64%" stop-color="#372466"/><stop offset="65.13%" stop-color="#372466"/><stop offset="65.19%" stop-color="#38276d"/><stop offset="66.19%" stop-color="#38276d"/><stop offset="66.25%" stop-color="#392a73"/><stop offset="67.38%" stop-color="#392a73"/><stop offset="67.44%" stop-color="#3a2d79"/><stop offset="68.56%" stop-color="#3a2d79"/><stop offset="68.62%" stop-color="#3b2f80"/><stop offset="69.94%" stop-color="#3b2f80"/><stop offset="70%" stop-color="#3c3286"/><stop offset="71.44%" stop-color="#3c3286"/><stop offset="71.56%" stop-color="#3d358b"/><stop offset="73.19%" stop-color="#3d358b"/><stop offset="73.31%" stop-color="#3e3891"/><stop offset="75.19%" stop-color="#3e3891"/><stop offset="75.31%" stop-color="#3f3b97"/><stop offset="77.56%" stop-color="#3f3b97"/><stop offset="77.69%" stop-color="#3f3e9c"/><stop offset="80.5%" stop-color="#3f3e9c"/><stop offset="80.62%" stop-color="#4040a2"/><stop offset="84.06%" stop-color="#4040a2"/><stop offset="84.19%" stop-color="#4143a7"/><stop offset="88.69%" stop-color="#4143a7"/><stop offset="88.81%" stop-color="#4146ac"/><stop offset="94.75%" stop-color="#4146ac"/><stop offset="94.88%" stop-color="#4249b1"/><stop offset="100%" stop-color="#4249b1"/></linearGradient><linearGradient id="h37"><stop offset="0%" stop-color="#4666dd"/><stop offset="5.69%" stop-color="#4666dd"/><stop offset="6.81%" stop-color="#4669e0"/><stop offset="18.63%" stop-color="#466be3"/><stop offset="32.75%" stop-color="#4778f0"/><stop offset="40.5%" stop-color="#458afc"/><stop offset="44.56%" stop-color="#3d9efe"/><stop offset="47.06%" stop-color="#2eb4f2"/><stop offset="48.62%" stop-color="#1fc9dd"/><stop offset="50.12%" stop-color="#19e2bb"/><stop offset="50.81%" stop-color="#25eca7"/><stop offset="51.75%" stop-color="#55fa76"/><stop offset="52.62%" stop-color="#9cfe40"/><stop offset="53.06%" stop-color="#bcf534"/><stop offset="53.75%" stop-color="#ecd13a"/><stop offset="54.25%" stop-color="#fdae35"/><stop offset="54.81%" stop-color="#fd8a26"/><stop offset="55.12%" stop-color="#fc8423"/><stop offset="55.56%" stop-color="#fe992c"/><stop offset="55.87%" stop-color="#f9bc39"/><stop offset="56.06%" stop-color="#ecd13a"/><stop offset="56.31%" stop-color="#c8ef34"/><stop offset="56.5%" stop-color="#a7fc3a"/><stop offset="56.62%" stop-color="#8bff4b"/><stop offset="56.87%" stop-color="#46f884"/><stop offset="57%" stop-color="#2aefa1"/><stop offset="57.13%" stop-color="#1ae4b6"/><stop offset="57.31%" stop-color="#1ad2d2"/><stop offset="57.56%" stop-color="#2eb4f2"/><stop offset="57.81%" stop-color="#4099ff"/><stop offset="58.06%" stop-color="#4680f6"/><stop offset="58.56%" stop-color="#455ed3"/><stop offset="59.25%" stop-color="#3f3e9c"/><stop offset="59.38%" stop-color="#3f3b97"/><stop offset="60%" stop-color="#3a2d79"/><stop offset="60.06%" stop-color="#3a2d79"/><stop offset="60.13%" stop-color="#392a73"/><stop offset="60.31%" stop-color="#392a73"/><stop offset="60.37%" stop-color="#38276d"/><stop offset="60.56%" stop-color="#38276d"/><stop offset="60.62%" stop-color="#372466"/><stop offset="61%" stop-color="#372466"/><stop offset="61.06%" stop-color="#36215f"/><stop offset="63.87%" stop-color="#36215f"/><stop offset="63.94%" stop-color="#372466"/><stop offset="65%" stop-color="#372466"/><stop offset="65.06%" stop-color="#38276d"/><stop offset="66.12%" stop-color="#38276d"/><stop offset="66.19%" stop-color="#392a73"/><stop offset="67.19%" stop-color="#392a73"/><stop offset="67.25%" stop-color="#3a2d79"/><stop offset="68.37%" stop-color="#3a2d79"/><stop offset="68.44%" stop-color="#3b2f80"/><stop offset="69.69%" stop-color="#3b2f80"/><stop offset="69.75%" stop-color="#3c3286"/><stop offset="71.12%" stop-color="#3c3286"/><stop offset="71.25%" stop-color="#3d358b"/><stop offset="72.75%" stop-color="#3d358b"/><stop offset="72.87%" stop-color="#3e3891"/><stop offset="74.63%" stop-color="#3e3891"/><stop offset="74.75%" stop-color="#3f3b97"/><stop offset="76.81%" stop-color="#3f3b97"/><stop offset="76.94%" stop-color="#3f3e9c"/><stop offset="79.44%" stop-color="#3f3e9c"/><stop offset="79.56%" stop-color="#4040a2"/><stop offset="82.69%" stop-color="#4040a2"/><stop offset="82.81%" stop-color="#4143a7"/><stop offset="86.75%" stop-color="#4143a7"/><stop offset="86.88%" stop-color="#4146ac"/><stop offset="92%" stop-color="#4146ac"/><stop offset="92.12%" stop-color="#4249b1"/><stop offset="99.12%" stop-color="#4249b1"/><stop offset="99.25%" stop-color="#424bb5"/><stop offset="100%" stop-color="#424bb5"/></linearGradient><linearGradient id="h38"><stop offset="0%" stop-color="#4669e0"/><stop offset="7.81%" stop-color="#4669e0"/><stop offset="29%" stop-color="#4776ee"/><stop offset="37.94%" stop-color="#4685fa"/><stop offset="43.19%" stop-color="#4099ff"/><stop offset="46.25%" stop-color="#31aff5"/><stop offset="48.06%" stop-color="#22c5e2"/><stop offset="49.75%" stop-color="#18dec0"/><stop offset="50.56%" stop-color="#22ebaa"/><stop offset="51.19%" stop-color="#3cf58e"/><stop offset="51.56%" stop-color="#52fa7a"/><stop offset="51.81%" stop-color="#65fd69"/><stop offset="52.44%" stop-color="#99fe42"/><stop offset="52.94%" stop-color="#bcf534"/><stop offset="53.5%" stop-color="#e3db38"/><stop offset="53.94%" stop-color="#f9bc39"/><stop offset="54.5%" stop-color="#fe9029"/><stop offset="54.88%" stop-color="#f9781e"/><stop offset="55.19%" stop-color="#f9751d"/><stop offset="55.5%" stop-color="#fc8725"/><stop offset="55.81%" stop-color="#fea933"/><stop offset="56.06%" stop-color="#f2c93a"/><stop offset="56.31%" stop-color="#d2e935"/><stop offset="56.5%" stop-color="#affa37"/><stop offset="56.62%" stop-color="#96fe44"/><stop offset="56.94%" stop-color="#3ff68a"/><stop offset="57.06%" stop-color="#25eca7"/><stop offset="57.19%" stop-color="#19e2bb"/><stop offset="57.37%" stop-color="#1ccdd8"/><stop offset="57.62%" stop-color="#31aff5"/><stop offset="57.88%" stop-color="#4294ff"/><stop offset="58.12%" stop-color="#467df4"/><stop offset="58.69%" stop-color="#4559cb"/><stop offset="59%" stop-color="#4249b1"/><stop offset="59.19%" stop-color="#4040a2"/><stop offset="59.31%" stop-color="#3f3e9c"/><stop offset="59.56%" stop-color="#3d358b"/><stop offset="59.75%" stop-color="#3c3286"/><stop offset="59.81%" stop-color="#3b2f80"/><stop offset="59.94%" stop-color="#3b2f80"/><stop offset="60%" stop-color="#3a2d79"/><stop offset="60.06%" stop-color="#3a2d79"/><stop offset="60.13%" stop-color="#392a73"/><stop offset="60.31%" stop-color="#392a73"/><stop offset="60.37%" stop-color="#38276d"/><stop offset="60.56%" stop-color="#38276d"/><stop offset="60.62%" stop-color="#372466"/><stop offset="61%" stop-color="#372466"/><stop offset="61.06%" stop-color="#36215f"/><stop offset="63.87%" stop-color="#36215f"/><stop offset="63.94%" stop-color="#372466"/><stop offset="64.94%" stop-color="#372466"/><stop offset="65%" stop-color="#38276d"/><stop offset="66%" stop-color="#38276d"/><stop offset="66.06%" stop-color="#392a73"/><stop offset="67.06%" stop-color="#392a73"/><stop offset="67.12%" stop-color="#3a2d79"/><stop offset="68.19%" stop-color="#3a2d79"/><stop offset="68.25%" stop-color="#3b2f80"/><stop offset="69.44%" stop-color="#3b2f80"/><stop offset="69.5%" stop-color="#3c3286"/><stop offset="70.81%" stop-color="#3c3286"/><stop offset="70.94%" stop-color="#3d358b"/><stop offset="72.31%" stop-color="#3d358b"/><stop offset="72.44%" stop-color="#3e3891"/><stop offset="74.06%" stop-color="#3e3891"/><stop offset="74.19%" stop-color="#3f3b97"/><stop offset="76.12%" stop-color="#3f3b97"/><stop offset="76.25%" stop-color="#3f3e9c"/><stop offset="78.56%" stop-color="#3f3e9c"/><stop offset="78.69%" stop-color="#4040a2"/><stop offset="81.5%" stop-color="#4040a2"/><stop offset="81.62%" stop-color="#4143a7"/><stop offset="85.12%" stop-color="#4143a7"/><stop offset="85.25%" stop-color="#4146ac"/><stop offset="89.75%" stop-color="#4146ac"/><stop offset="89.87%" stop-color="#4249b1"/><stop offset="95.81%" stop-color="#4249b1"/><stop offset="95.94%" stop-color="#424bb5"/><stop offset="100%" stop-color="#424bb5"/></linearGradient><linearGradient id="h39"><stop offset="0%" stop-color="#4669e0"/><stop offset="23.94%" stop-color="#4773eb"/><stop offset="35.75%" stop-color="#4682f8"/><stop offset="41.56%" stop-color="#4294ff"/><stop offset="45.31%" stop-color="#35abf8"/><stop offset="47.44%" stop-color="#25c0e7"/><stop offset="48.94%" stop-color="#19d5cd"/><stop offset="50%" stop-color="#1ce6b4"/><stop offset="50.69%" stop-color="#2cf09e"/><stop offset="51.69%" stop-color="#65fd69"/><stop offset="52.19%" stop-color="#8fff49"/><stop offset="52.69%" stop-color="#b4f836"/><stop offset="53.25%" stop-color="#dbe236"/><stop offset="53.75%" stop-color="#f7c13a"/><stop offset="54.12%" stop-color="#fea130"/><stop offset="54.62%" stop-color="#f9781e"/><stop offset="54.81%" stop-color="#f66c19"/><stop offset="55.12%" stop-color="#f46617"/><stop offset="55.44%" stop-color="#f8721c"/><stop offset="55.69%" stop-color="#fd8d27"/><stop offset="56%" stop-color="#fbb838"/><stop offset="56.19%" stop-color="#ebd339"/><stop offset="56.44%" stop-color="#c3f134"/><stop offset="56.56%" stop-color="#a9fb39"/><stop offset="56.69%" stop-color="#8fff49"/><stop offset="56.94%" stop-color="#46f884"/><stop offset="57.13%" stop-color="#20eaac"/><stop offset="57.25%" stop-color="#18dec0"/><stop offset="57.44%" stop-color="#1fc9dd"/><stop offset="57.75%" stop-color="#38a5fb"/><stop offset="57.94%" stop-color="#4391fe"/><stop offset="58.37%" stop-color="#476ee6"/><stop offset="58.75%" stop-color="#4456c7"/><stop offset="58.87%" stop-color="#4451bf"/><stop offset="59.06%" stop-color="#4146ac"/><stop offset="59.19%" stop-color="#4143a7"/><stop offset="59.38%" stop-color="#3f3b97"/><stop offset="59.62%" stop-color="#3d358b"/><stop offset="59.75%" stop-color="#3c3286"/><stop offset="59.81%" stop-color="#3c3286"/><stop offset="59.87%" stop-color="#3b2f80"/><stop offset="59.94%" stop-color="#3b2f80"/><stop offset="60%" stop-color="#3a2d79"/><stop offset="60.13%" stop-color="#3a2d79"/><stop offset="60.19%" stop-color="#392a73"/><stop offset="60.31%" stop-color="#392a73"/><stop offset="60.37%" stop-color="#38276d"/><stop offset="60.62%" stop-color="#38276d"/><stop offset="60.69%" stop-color="#372466"/><stop offset="61%" stop-color="#372466"/><stop offset="61.06%" stop-color="#36215f"/><stop offset="63.81%" stop-color="#36215f"/><stop offset="63.87%" stop-color="#372466"/><stop offset="64.87%" stop-color="#372466"/><stop offset="64.94%" stop-color="#38276d"/><stop offset="65.88%" stop-color="#38276d"/><stop offset="65.94%" stop-color="#392a73"/><stop offset="66.94%" stop-color="#392a73"/><stop offset="67%" stop-color="#3a2d79"/><stop offset="68%" stop-color="#3a2d79"/><stop offset="68.06%" stop-color="#3b2f80"/><stop offset="69.19%" stop-color="#3b2f80"/><stop offset="69.25%" stop-color="#3c3286"/><stop offset="70.5%" stop-color="#3c3286"/><stop offset="70.62%" stop-color="#3d358b"/><stop offset="71.94%" stop-color="#3d358b"/><stop offset="72.06%" stop-color="#3e3891"/><stop offset="73.62%" stop-color="#3e3891"/><stop offset="73.75%" stop-color="#3f3b97"/><stop offset="75.5%" stop-color="#3f3b97"/><stop offset="75.62%" stop-color="#3f3e9c"/><stop offset="77.75%" stop-color="#3f3e9c"/><stop offset="77.87%" stop-color="#4040a2"/><stop offset="80.44%" stop-color="#4040a2"/><stop offset="80.56%" stop-color="#4143a7"/><stop offset="83.69%" stop-color="#4143a7"/><stop offset="83.81%" stop-color="#4146ac"/><stop offset="87.75%" stop-color="#4146ac"/><stop offset="87.87%" stop-color="#4249b1"/><stop offset="93%" stop-color="#4249b1"/><stop offset="93.12%" stop-color="#424bb5"/><stop offset="100%" stop-color="#424bb5"/></linearGradient><linearGradient id="h40"><stop offset="0%" stop-color="#466be3"/><stop offset="24.38%" stop-color="#4776ee"/><stop offset="35.75%" stop-color="#4685fa"/><stop offset="41.44%" stop-color="#4196ff"/><stop offset="45.19%" stop-color="#33adf7"/><stop offset="47.31%" stop-color="#23c3e4"/><stop offset="49.06%" stop-color="#18dbc5"/><stop offset="50%" stop-color="#1fe9af"/><stop offset="50.56%" stop-color="#2ff19b"/><stop offset="51.12%" stop-color="#4af880"/><stop offset="51.38%" stop-color="#59fb73"/><stop offset="51.62%" stop-color="#6dfe62"/><stop offset="52.19%" stop-color="#99fe42"/><stop offset="52.69%" stop-color="#bcf534"/><stop offset="53.31%" stop-color="#e7d739"/><stop offset="53.75%" stop-color="#fbb838"/><stop offset="54.31%" stop-color="#fc8423"/><stop offset="54.62%" stop-color="#f56918"/><stop offset="55.06%" stop-color="#ef5811"/><stop offset="55.37%" stop-color="#f26014"/><stop offset="55.56%" stop-color="#f76f1a"/><stop offset="55.94%" stop-color="#fea431"/><stop offset="56.12%" stop-color="#f6c33a"/><stop offset="56.38%" stop-color="#d7e535"/><stop offset="56.56%" stop-color="#b1f936"/><stop offset="56.69%" stop-color="#99fe42"/><stop offset="56.94%" stop-color="#52fa7a"/><stop offset="57.06%" stop-color="#32f298"/><stop offset="57.19%" stop-color="#1de7b2"/><stop offset="57.31%" stop-color="#18dbc5"/><stop offset="57.56%" stop-color="#27bee9"/><stop offset="57.81%" stop-color="#3ba0fd"/><stop offset="58.06%" stop-color="#4687fb"/><stop offset="58.56%" stop-color="#4661d6"/><stop offset="59.31%" stop-color="#3f3e9c"/><stop offset="59.44%" stop-color="#3f3b97"/><stop offset="60.06%" stop-color="#3a2d79"/><stop offset="60.13%" stop-color="#3a2d79"/><stop offset="60.19%" stop-color="#392a73"/><stop offset="60.31%" stop-color="#392a73"/><stop offset="60.37%" stop-color="#38276d"/><stop offset="60.62%" stop-color="#38276d"/><stop offset="60.69%" stop-color="#372466"/><stop offset="61%" stop-color="#372466"/><stop offset="61.06%" stop-color="#36215f"/><stop offset="63.75%" stop-color="#36215f"/><stop offset="63.81%" stop-color="#372466"/><stop offset="64.81%" stop-color="#372466"/><stop offset="64.87%" stop-color="#38276d"/><stop offset="65.81%" stop-color="#38276d"/><stop offset="65.88%" stop-color="#392a73"/><stop offset="66.81%" stop-color="#392a73"/><stop offset="66.87%" stop-color="#3a2d79"/><stop offset="67.87%" stop-color="#3a2d79"/><stop offset="67.94%" stop-color="#3b2f80"/><stop offset="69%" stop-color="#3b2f80"/><stop offset="69.06%" stop-color="#3c3286"/><stop offset="70.25%" stop-color="#3c3286"/><stop offset="70.37%" stop-color="#3d358b"/><stop offset="71.63%" stop-color="#3d358b"/><stop offset="71.75%" stop-color="#3e3891"/><stop offset="73.19%" stop-color="#3e3891"/><stop offset="73.31%" stop-color="#3f3b97"/><stop offset="74.94%" stop-color="#3f3b97"/><stop offset="75.06%" stop-color="#3f3e9c"/><stop offset="77%" stop-color="#3f3e9c"/><stop offset="77.12%" stop-color="#4040a2"/><stop offset="79.5%" stop-color="#4040a2"/><stop offset="79.63%" stop-color="#4143a7"/><stop offset="82.44%" stop-color="#4143a7"/><stop offset="82.56%" stop-color="#4146ac"/><stop offset="86.06%" stop-color="#4146ac"/><stop offset="86.19%" stop-color="#4249b1"/><stop offset="90.69%" stop-color="#4249b1"/><stop offset="90.81%" stop-color="#424bb5"/><stop offset="96.69%" stop-color="#424bb5"/><stop offset="96.81%" stop-color="#434eba"/><stop offset="100%" stop-color="#434eba"/></linearGradient><linearGradient id="h41"><stop offset="0%" stop-color="#476ee6"/><stop offset="21.63%" stop-color="#4776ee"/><stop offset="34.5%" stop-color="#4685fa"/><stop offset="40.75%" stop-color="#4196ff"/><stop offset="44.75%" stop-color="#33adf7"/><stop offset="47%" stop-color="#23c3e4"/><stop offset="48.87%" stop-color="#18dbc5"/><stop offset="49.81%" stop-color="#1fe9af"/><stop offset="50.37%" stop-color="#2ff19b"/><stop offset="50.87%" stop-color="#46f884"/><stop offset="51.5%" stop-color="#6dfe62"/><stop offset="51.69%" stop-color="#7dff56"/><stop offset="52.25%" stop-color="#a7fc3a"/><stop offset="52.81%" stop-color="#cdec34"/><stop offset="53.44%" stop-color="#f4c73a"/><stop offset="53.87%" stop-color="#fea130"/><stop offset="54.44%" stop-color="#f56918"/><stop offset="54.75%" stop-color="#ed5510"/><stop offset="55%" stop-color="#ea4e0d"/><stop offset="55.31%" stop-color="#eb500e"/><stop offset="55.63%" stop-color="#f56918"/><stop offset="55.94%" stop-color="#fe992c"/><stop offset="56.19%" stop-color="#f6c33a"/><stop offset="56.38%" stop-color="#dde037"/><stop offset="56.56%" stop-color="#b9f635"/><stop offset="56.69%" stop-color="#9ffd3f"/><stop offset="56.87%" stop-color="#6dfe62"/><stop offset="57%" stop-color="#46f884"/><stop offset="57.13%" stop-color="#2aefa1"/><stop offset="57.25%" stop-color="#1ae4b6"/><stop offset="57.44%" stop-color="#1bd0d5"/><stop offset="57.69%" stop-color="#2fb2f4"/><stop offset="57.94%" stop-color="#4196ff"/><stop offset="58.25%" stop-color="#477bf2"/><stop offset="58.69%" stop-color="#455ccf"/><stop offset="59.25%" stop-color="#4040a2"/><stop offset="59.38%" stop-color="#3f3e9c"/><stop offset="59.62%" stop-color="#3d358b"/><stop offset="59.81%" stop-color="#3c3286"/><stop offset="59.87%" stop-color="#3b2f80"/><stop offset="59.94%" stop-color="#3b2f80"/><stop offset="60%" stop-color="#3a2d79"/><stop offset="60.13%" stop-color="#3a2d79"/><stop offset="60.19%" stop-color="#392a73"/><stop offset="60.31%" stop-color="#392a73"/><stop offset="60.37%" stop-color="#38276d"/><stop offset="60.62%" stop-color="#38276d"/><stop offset="60.69%" stop-color="#372466"/><stop offset="61%" stop-color="#372466"/><stop offset="61.06%" stop-color="#36215f"/><stop offset="63.75%" stop-color="#36215f"/><stop offset="63.81%" stop-color="#372466"/><stop offset="64.75%" stop-color="#372466"/><stop offset="64.81%" stop-color="#38276d"/><stop offset="65.69%" stop-color="#38276d"/><stop offset="65.75%" stop-color="#392a73"/><stop offset="66.69%" stop-color="#392a73"/><stop offset="66.75%" stop-color="#3a2d79"/><stop offset="67.69%" stop-color="#3a2d79"/><stop offset="67.75%" stop-color="#3b2f80"/><stop offset="68.81%" stop-color="#3b2f80"/><stop offset="68.87%" stop-color="#3c3286"/><stop offset="69.94%" stop-color="#3c3286"/><stop offset="70.06%" stop-color="#3d358b"/><stop offset="71.25%" stop-color="#3d358b"/><stop offset="71.37%" stop-color="#3e3891"/><stop offset="72.75%" stop-color="#3e3891"/><stop offset="72.87%" stop-color="#3f3b97"/><stop offset="74.44%" stop-color="#3f3b97"/><stop offset="74.56%" stop-color="#3f3e9c"/><stop offset="76.37%" stop-color="#3f3e9c"/><stop offset="76.5%" stop-color="#4040a2"/><stop offset="78.62%" stop-color="#4040a2"/><stop offset="78.75%" stop-color="#4143a7"/><stop offset="81.31%" stop-color="#4143a7"/><stop offset="81.44%" stop-color="#4146ac"/><stop offset="84.62%" stop-color="#4146ac"/><stop offset="84.75%" stop-color="#4249b1"/><stop offset="88.69%" stop-color="#4249b1"/><stop offset="88.81%" stop-color="#424bb5"/><stop offset="93.87%" stop-color="#424bb5"/><stop offset="94%" stop-color="#434eba"/><stop offset="100%" stop-color="#434eba"/></linearGradient><linearGradient id="h42"><stop offset="0%" stop-color="#4771e9"/><stop offset="18.44%" stop-color="#4776ee"/><stop offset="31.63%" stop-color="#4682f8"/><stop offset="39.31%" stop-color="#4294ff"/><stop offset="43.56%" stop-color="#37a8fa"/><stop offset="46%" stop-color="#28bceb"/><stop offset="48.06%" stop-color="#1ad4d0"/><stop offset="49.31%" stop-color="#1ae4b6"/><stop offset="50.12%" stop-color="#2cf09e"/><stop offset="50.81%" stop-color="#4af880"/><stop offset="51.31%" stop-color="#69fd66"/><stop offset="51.5%" stop-color="#79fe59"/><stop offset="52.13%" stop-color="#a7fc3a"/><stop offset="52.62%" stop-color="#c8ef34"/><stop offset="53.25%" stop-color="#efcd3a"/><stop offset="53.69%" stop-color="#fea933"/><stop offset="54.25%" stop-color="#f76f1a"/><stop offset="54.69%" stop-color="#e84b0c"/><stop offset="55.06%" stop-color="#e2430a"/><stop offset="55.31%" stop-color="#e4450a"/><stop offset="55.63%" stop-color="#f05b12"/><stop offset="55.87%" stop-color="#fb8122"/><stop offset="56.12%" stop-color="#fcb136"/><stop offset="56.31%" stop-color="#eecf3a"/><stop offset="56.5%" stop-color="#d0ea34"/><stop offset="56.69%" stop-color="#a7fc3a"/><stop offset="56.81%" stop-color="#88ff4e"/><stop offset="57.06%" stop-color="#3ff68a"/><stop offset="57.19%" stop-color="#25eca7"/><stop offset="57.31%" stop-color="#19e2bb"/><stop offset="57.5%" stop-color="#1ecbda"/><stop offset="57.75%" stop-color="#33adf7"/><stop offset="57.94%" stop-color="#4099ff"/><stop offset="58.19%" stop-color="#4680f6"/><stop offset="58.63%" stop-color="#4661d6"/><stop offset="58.87%" stop-color="#4454c3"/><stop offset="59.06%" stop-color="#4249b1"/><stop offset="59.31%" stop-color="#4040a2"/><stop offset="59.44%" stop-color="#3f3b97"/><stop offset="59.56%" stop-color="#3e3891"/><stop offset="59.94%" stop-color="#3b2f80"/><stop offset="60%" stop-color="#3b2f80"/><stop offset="60.06%" stop-color="#3a2d79"/><stop offset="60.13%" stop-color="#3a2d79"/><stop offset="60.19%" stop-color="#392a73"/><stop offset="60.37%" stop-color="#392a73"/><stop offset="60.44%" stop-color="#38276d"/><stop offset="60.62%" stop-color="#38276d"/><stop offset="60.69%" stop-color="#372466"/><stop offset="61%" stop-color="#372466"/><stop offset="61.06%" stop-color="#36215f"/><stop offset="63.69%" stop-color="#36215f"/><stop offset="63.75%" stop-color="#372466"/><stop offset="64.69%" stop-color="#372466"/><stop offset="64.75%" stop-color="#38276d"/><stop offset="65.62%" stop-color="#38276d"/><stop offset="65.69%" stop-color="#392a73"/><stop offset="66.56%" stop-color="#392a73"/><stop offset="66.63%" stop-color="#3a2d79"/><stop offset="67.56%" stop-color="#3a2d79"/><stop offset="67.62%" stop-color="#3b2f80"/><stop offset="68.56%" stop-color="#3b2f80"/><stop offset="68.62%" stop-color="#3c3286"/><stop offset="69.75%" stop-color="#3c3286"/><stop offset="69.87%" stop-color="#3d358b"/><stop offset="71%" stop-color="#3d358b"/><stop offset="71.12%" stop-color="#3e3891"/><stop offset="72.38%" stop-color="#3e3891"/><stop offset="72.5%" stop-color="#3f3b97"/><stop offset="73.94%" stop-color="#3f3b97"/><stop offset="74.06%" stop-color="#3f3e9c"/><stop offset="75.75%" stop-color="#3f3e9c"/><stop offset="75.87%" stop-color="#4040a2"/><stop offset="77.87%" stop-color="#4040a2"/><stop offset="78%" stop-color="#4143a7"/><stop offset="80.31%" stop-color="#4143a7"/><stop offset="80.44%" stop-color="#4146ac"/><stop offset="83.31%" stop-color="#4146ac"/><stop offset="83.44%" stop-color="#4249b1"/><stop offset="86.94%" stop-color="#4249b1"/><stop offset="87.06%" stop-color="#424bb5"/><stop offset="91.5%" stop-color="#424bb5"/><stop offset="91.62%" stop-color="#434eba"/><stop offset="97.44%" stop-color="#434eba"/><stop offset="97.62%" stop-color="#4451bf"/><stop offset="100%" stop-color="#4451bf"/></linearGradient><linearGradient id="h43"><stop offset="0%" stop-color="#4771e9"/><stop offset="22.5%" stop-color="#477bf2"/><stop offset="34.5%" stop-color="#458afc"/><stop offset="41.13%" stop-color="#3d9efe"/><stop offset="44.81%" stop-color="#2eb4f2"/><stop offset="46.94%" stop-color="#1fc9dd"/><stop offset="48.75%" stop-color="#18e0bd"/><stop offset="49.69%" stop-color="#25eca7"/><stop offset="50.25%" stop-color="#38f491"/><stop offset="50.75%" stop-color="#52fa7a"/><stop offset="51.38%" stop-color="#79fe59"/><stop offset="51.75%" stop-color="#96fe44"/><stop offset="52.25%" stop-color="#b7f735"/><stop offset="52.81%" stop-color="#dde037"/><stop offset="53.37%" stop-color="#faba39"/><stop offset="53.87%" stop-color="#fd8a26"/><stop offset="54.25%" stop-color="#f26014"/><stop offset="54.69%" stop-color="#e14109"/><stop offset="55.12%" stop-color="#d83706"/><stop offset="55.44%" stop-color="#e14109"/><stop offset="55.69%" stop-color="#ed5510"/><stop offset="55.94%" stop-color="#fb7e21"/><stop offset="56.19%" stop-color="#fcb136"/><stop offset="56.31%" stop-color="#f4c73a"/><stop offset="56.56%" stop-color="#cbed34"/><stop offset="56.75%" stop-color="#a1fd3d"/><stop offset="56.94%" stop-color="#6dfe62"/><stop offset="57.06%" stop-color="#46f884"/><stop offset="57.19%" stop-color="#2aefa1"/><stop offset="57.31%" stop-color="#1ae4b6"/><stop offset="57.5%" stop-color="#1bd0d5"/><stop offset="57.75%" stop-color="#31aff5"/><stop offset="58%" stop-color="#4294ff"/><stop offset="58.37%" stop-color="#4773eb"/><stop offset="58.94%" stop-color="#4451bf"/><stop offset="59.38%" stop-color="#3f3e9c"/><stop offset="59.5%" stop-color="#3f3b97"/><stop offset="59.69%" stop-color="#3d358b"/><stop offset="59.81%" stop-color="#3c3286"/><stop offset="59.87%" stop-color="#3c3286"/><stop offset="59.94%" stop-color="#3b2f80"/><stop offset="60%" stop-color="#3b2f80"/><stop offset="60.06%" stop-color="#3a2d79"/><stop offset="60.19%" stop-color="#3a2d79"/><stop offset="60.25%" stop-color="#392a73"/><stop offset="60.37%" stop-color="#392a73"/><stop offset="60.44%" stop-color="#38276d"/><stop offset="60.62%" stop-color="#38276d"/><stop offset="60.69%" stop-color="#372466"/><stop offset="61%" stop-color="#372466"/><stop offset="61.06%" stop-color="#36215f"/><stop offset="63.63%" stop-color="#36215f"/><stop offset="63.69%" stop-color="#372466"/><stop offset="64.62%" stop-color="#372466"/><stop offset="64.69%" stop-color="#38276d"/><stop offset="65.56%" stop-color="#38276d"/><stop offset="65.62%" stop-color="#392a73"/><stop offset="66.44%" stop-color="#392a73"/><stop offset="66.5%" stop-color="#3a2d79"/><stop offset="67.38%" stop-color="#3a2d79"/><stop offset="67.44%" stop-color="#3b2f80"/><stop offset="68.37%" stop-color="#3b2f80"/><stop offset="68.44%" stop-color="#3c3286"/><stop offset="69.5%" stop-color="#3c3286"/><stop offset="69.62%" stop-color="#3d358b"/><stop offset="70.69%" stop-color="#3d358b"/><stop offset="70.81%" stop-color="#3e3891"/><stop offset="72%" stop-color="#3e3891"/><stop offset="72.12%" stop-color="#3f3b97"/><stop offset="73.5%" stop-color="#3f3b97"/><stop offset="73.62%" stop-color="#3f3e9c"/><stop offset="75.19%" stop-color="#3f3e9c"/><stop offset="75.31%" stop-color="#4040a2"/><stop offset="77.12%" stop-color="#4040a2"/><stop offset="77.25%" stop-color="#4143a7"/><stop offset="79.37%" stop-color="#4143a7"/><stop offset="79.5%" stop-color="#4146ac"/><stop offset="82.06%" stop-color="#4146ac"/><stop offset="82.19%" stop-color="#4249b1"/><stop offset="85.31%" stop-color="#4249b1"/><stop offset="85.44%" stop-color="#424bb5"/><stop offset="89.37%" stop-color="#424bb5"/><stop offset="89.5%" stop-color="#434eba"/><stop offset="94.5%" stop-color="#434eba"/><stop offset="94.69%" stop-color="#4451bf"/><stop offset="100%" stop-color="#4451bf"/></linearGradient><linearGradient id="h44"><stop offset="0%" stop-color="#4773eb"/><stop offset="24.87%" stop-color="#4680f6"/><stop offset="35.19%" stop-color="#448ffe"/><stop offset="41.31%" stop-color="#3aa3fc"/><stop offset="44.81%" stop-color="#2ab9ee"/><stop offset="46.88%" stop-color="#1ccdd8"/><stop offset="48.69%" stop-color="#19e3b9"/><stop offset="49.5%" stop-color="#27eea4"/><stop offset="50.19%" stop-color="#3ff68a"/><stop offset="50.87%" stop-color="#65fd69"/><stop offset="51.12%" stop-color="#75fe5c"/><stop offset="51.38%" stop-color="#88ff4e"/><stop offset="51.87%" stop-color="#a9fb39"/><stop offset="52.5%" stop-color="#d2e935"/><stop offset="53.06%" stop-color="#f4c73a"/><stop offset="53.5%" stop-color="#fea130"/><stop offset="54%" stop-color="#f56918"/><stop offset="54.37%" stop-color="#e4450a"/><stop offset="54.81%" stop-color="#d02f05"/><stop offset="55.12%" stop-color="#ca2a04"/><stop offset="55.5%" stop-color="#d83706"/><stop offset="55.81%" stop-color="#ed5510"/><stop offset="56.06%" stop-color="#fc8725"/><stop offset="56.25%" stop-color="#fcb136"/><stop offset="56.44%" stop-color="#ebd339"/><stop offset="56.62%" stop-color="#c8ef34"/><stop offset="56.75%" stop-color="#acfb38"/><stop offset="56.81%" stop-color="#9ffd3f"/><stop offset="57.06%" stop-color="#52fa7a"/><stop offset="57.25%" stop-color="#25eca7"/><stop offset="57.37%" stop-color="#19e2bb"/><stop offset="57.56%" stop-color="#1ecbda"/><stop offset="57.81%" stop-color="#33adf7"/><stop offset="58%" stop-color="#4099ff"/><stop offset="58.25%" stop-color="#4680f6"/><stop offset="58.75%" stop-color="#455ccf"/><stop offset="58.87%" stop-color="#4456c7"/><stop offset="59.12%" stop-color="#4249b1"/><stop offset="59.31%" stop-color="#4040a2"/><stop offset="59.44%" stop-color="#3f3e9c"/><stop offset="59.56%" stop-color="#3e3891"/><stop offset="59.87%" stop-color="#3c3286"/><stop offset="59.94%" stop-color="#3b2f80"/><stop offset="60%" stop-color="#3b2f80"/><stop offset="60.06%" stop-color="#3a2d79"/><stop offset="60.19%" stop-color="#3a2d79"/><stop offset="60.25%" stop-color="#392a73"/><stop offset="60.37%" stop-color="#392a73"/><stop offset="60.44%" stop-color="#38276d"/><stop offset="60.62%" stop-color="#38276d"/><stop offset="60.69%" stop-color="#372466"/><stop offset="61.06%" stop-color="#372466"/><stop offset="61.12%" stop-color="#36215f"/><stop offset="63.63%" stop-color="#36215f"/><stop offset="63.69%" stop-color="#372466"/><stop offset="64.56%" stop-color="#372466"/><stop offset="64.62%" stop-color="#38276d"/><stop offset="65.44%" stop-color="#38276d"/><stop offset="65.5%" stop-color="#392a73"/><stop offset="66.31%" stop-color="#392a73"/><stop offset="66.37%" stop-color="#3a2d79"/><stop offset="67.19%" stop-color="#3a2d79"/><stop offset="67.25%" stop-color="#3b2f80"/><stop offset="68.19%" stop-color="#3b2f80"/><stop offset="68.25%" stop-color="#3c3286"/><stop offset="69.19%" stop-color="#3c3286"/><stop offset="69.31%" stop-color="#3d358b"/><stop offset="70.31%" stop-color="#3d358b"/><stop offset="70.44%" stop-color="#3e3891"/><stop offset="71.56%" stop-color="#3e3891"/><stop offset="71.69%" stop-color="#3f3b97"/><stop offset="72.94%" stop-color="#3f3b97"/><stop offset="73.06%" stop-color="#3f3e9c"/><stop offset="74.5%" stop-color="#3f3e9c"/><stop offset="74.63%" stop-color="#4040a2"/><stop offset="76.25%" stop-color="#4040a2"/><stop offset="76.37%" stop-color="#4143a7"/><stop offset="78.31%" stop-color="#4143a7"/><stop offset="78.44%" stop-color="#4146ac"/><stop offset="80.69%" stop-color="#4146ac"/><stop offset="80.81%" stop-color="#4249b1"/><stop offset="83.56%" stop-color="#4249b1"/><stop offset="83.69%" stop-color="#424bb5"/><stop offset="87%" stop-color="#424bb5"/><stop offset="87.12%" stop-color="#434eba"/><stop offset="91.31%" stop-color="#434eba"/><stop offset="91.5%" stop-color="#4451bf"/><stop offset="96.81%" stop-color="#4451bf"/><stop offset="97%" stop-color="#4454c3"/><stop offset="100%" stop-color="#4454c3"/></linearGradient><linearGradient id="h45"><stop offset="0%" stop-color="#4776ee"/><stop offset="24.25%" stop-color="#4682f8"/><stop offset="34.69%" stop-color="#4391fe"/><stop offset="40.38%" stop-color="#3aa3fc"/><stop offset="43.87%" stop-color="#2cb7f0"/><stop offset="46.06%" stop-color="#1fc9dd"/><stop offset="48.12%" stop-color="#18e0bd"/><stop offset="49.13%" stop-color="#25eca7"/><stop offset="49.88%" stop-color="#3cf58e"/><stop offset="50.5%" stop-color="#5dfc6f"/><stop offset="51.56%" stop-color="#a1fd3d"/><stop offset="52.19%" stop-color="#c8ef34"/><stop offset="52.88%" stop-color="#f2c93a"/><stop offset="53.31%" stop-color="#fea732"/><stop offset="53.81%" stop-color="#f66c19"/><stop offset="54.19%" stop-color="#e4450a"/><stop offset="54.69%" stop-color="#c52603"/><stop offset="55.12%" stop-color="#b91e02"/><stop offset="55.44%" stop-color="#c52603"/><stop offset="55.69%" stop-color="#da3907"/><stop offset="55.94%" stop-color="#f05b12"/><stop offset="56.19%" stop-color="#fe932a"/><stop offset="56.38%" stop-color="#f8be39"/><stop offset="56.56%" stop-color="#dfdf37"/><stop offset="56.75%" stop-color="#b7f735"/><stop offset="56.87%" stop-color="#99fe42"/><stop offset="57%" stop-color="#71fe5f"/><stop offset="57.13%" stop-color="#4af880"/><stop offset="57.25%" stop-color="#2cf09e"/><stop offset="57.37%" stop-color="#1ae4b6"/><stop offset="57.56%" stop-color="#1bd0d5"/><stop offset="57.81%" stop-color="#2fb2f4"/><stop offset="58.06%" stop-color="#4294ff"/><stop offset="58.44%" stop-color="#4773eb"/><stop offset="58.94%" stop-color="#4454c3"/><stop offset="59.5%" stop-color="#3f3b97"/><stop offset="59.62%" stop-color="#3e3891"/><stop offset="60.13%" stop-color="#3a2d79"/><stop offset="60.19%" stop-color="#3a2d79"/><stop offset="60.25%" stop-color="#392a73"/><stop offset="60.37%" stop-color="#392a73"/><stop offset="60.44%" stop-color="#38276d"/><stop offset="60.62%" stop-color="#38276d"/><stop offset="60.69%" stop-color="#372466"/><stop offset="61.06%" stop-color="#372466"/><stop offset="61.12%" stop-color="#36215f"/><stop offset="63.56%" stop-color="#36215f"/><stop offset="63.63%" stop-color="#372466"/><stop offset="64.5%" stop-color="#372466"/><stop offset="64.56%" stop-color="#38276d"/><stop offset="65.31%" stop-color="#38276d"/><stop offset="65.37%" stop-color="#392a73"/><stop offset="66.19%" stop-color="#392a73"/><stop offset="66.25%" stop-color="#3a2d79"/><stop offset="67.06%" stop-color="#3a2d79"/><stop offset="67.12%" stop-color="#3b2f80"/><stop offset="67.94%" stop-color="#3b2f80"/><stop offset="68%" stop-color="#3c3286"/><stop offset="68.94%" stop-color="#3c3286"/><stop offset="69.06%" stop-color="#3d358b"/><stop offset="70%" stop-color="#3d358b"/><stop offset="70.12%" stop-color="#3e3891"/><stop offset="71.19%" stop-color="#3e3891"/><stop offset="71.31%" stop-color="#3f3b97"/><stop offset="72.44%" stop-color="#3f3b97"/><stop offset="72.56%" stop-color="#3f3e9c"/><stop offset="73.88%" stop-color="#3f3e9c"/><stop offset="74%" stop-color="#4040a2"/><stop offset="75.5%" stop-color="#4040a2"/><stop offset="75.62%" stop-color="#4143a7"/><stop offset="77.37%" stop-color="#4143a7"/><stop offset="77.5%" stop-color="#4146ac"/><stop offset="79.5%" stop-color="#4146ac"/><stop offset="79.63%" stop-color="#4249b1"/><stop offset="82%" stop-color="#4249b1"/><stop offset="82.12%" stop-color="#424bb5"/><stop offset="85.06%" stop-color="#424bb5"/><stop offset="85.19%" stop-color="#434eba"/><stop offset="88.69%" stop-color="#434eba"/><stop offset="88.87%" stop-color="#4451bf"/><stop offset="93.31%" stop-color="#4451bf"/><stop offset="93.5%" stop-color="#4454c3"/><stop offset="99.19%" stop-color="#4454c3"/><stop offset="99.37%" stop-color="#4456c7"/><stop offset="100%" stop-color="#4456c7"/></linearGradient><linearGradient id="h46"><stop offset="0%" stop-color="#477bf2"/><stop offset="17.19%" stop-color="#4680f6"/><stop offset="31.69%" stop-color="#448ffe"/><stop offset="38.75%" stop-color="#3ba0fd"/><stop offset="42.87%" stop-color="#2eb4f2"/><stop offset="45.31%" stop-color="#20c7df"/><stop offset="47.63%" stop-color="#18dec0"/><stop offset="48.62%" stop-color="#20eaac"/><stop offset="49.25%" stop-color="#2ff19b"/><stop offset="49.94%" stop-color="#4af880"/><stop offset="50.56%" stop-color="#6dfe62"/><stop offset="51.44%" stop-color="#a4fc3c"/><stop offset="52.06%" stop-color="#cbed34"/><stop offset="52.75%" stop-color="#f2c93a"/><stop offset="53.19%" stop-color="#fea431"/><stop offset="53.69%" stop-color="#f56918"/><stop offset="54.06%" stop-color="#e2430a"/><stop offset="54.44%" stop-color="#c82803"/><stop offset="54.81%" stop-color="#af1801"/><stop offset="55.06%" stop-color="#a71401"/><stop offset="55.31%" stop-color="#ac1701"/><stop offset="55.56%" stop-color="#c12302"/><stop offset="55.81%" stop-color="#dc3b07"/><stop offset="56%" stop-color="#ef5811"/><stop offset="56.25%" stop-color="#fe932a"/><stop offset="56.38%" stop-color="#fcb336"/><stop offset="56.5%" stop-color="#f1cb3a"/><stop offset="56.69%" stop-color="#cdec34"/><stop offset="56.81%" stop-color="#b1f936"/><stop offset="56.94%" stop-color="#92ff47"/><stop offset="57.06%" stop-color="#69fd66"/><stop offset="57.19%" stop-color="#43f787"/><stop offset="57.31%" stop-color="#27eea4"/><stop offset="57.44%" stop-color="#19e2bb"/><stop offset="57.62%" stop-color="#1ccdd8"/><stop offset="57.81%" stop-color="#2eb4f2"/><stop offset="58.06%" stop-color="#4196ff"/><stop offset="58.37%" stop-color="#477bf2"/><stop offset="58.81%" stop-color="#455ccf"/><stop offset="59.44%" stop-color="#3f3e9c"/><stop offset="59.56%" stop-color="#3f3b97"/><stop offset="59.75%" stop-color="#3d358b"/><stop offset="60%" stop-color="#3b2f80"/><stop offset="60.06%" stop-color="#3b2f80"/><stop offset="60.13%" stop-color="#3a2d79"/><stop offset="60.19%" stop-color="#3a2d79"/><stop offset="60.25%" stop-color="#392a73"/><stop offset="60.44%" stop-color="#392a73"/><stop offset="60.5%" stop-color="#38276d"/><stop offset="60.69%" stop-color="#38276d"/><stop offset="60.75%" stop-color="#372466"/><stop offset="61.06%" stop-color="#372466"/><stop offset="61.12%" stop-color="#36215f"/><stop offset="63.5%" stop-color="#36215f"/><stop offset="63.56%" stop-color="#372466"/><stop offset="64.44%" stop-color="#372466"/><stop offset="64.5%" stop-color="#38276d"/><stop offset="65.25%" stop-color="#38276d"/><stop offset="65.31%" stop-color="#392a73"/><stop offset="66.06%" stop-color="#392a73"/><stop offset="66.12%" stop-color="#3a2d79"/><stop offset="66.87%" stop-color="#3a2d79"/><stop offset="66.94%" stop-color="#3b2f80"/><stop offset="67.75%" stop-color="#3b2f80"/><stop offset="67.81%" stop-color="#3c3286"/><stop offset="68.69%" stop-color="#3c3286"/><stop offset="68.81%" stop-color="#3d358b"/><stop offset="69.69%" stop-color="#3d358b"/><stop offset="69.81%" stop-color="#3e3891"/><stop offset="70.81%" stop-color="#3e3891"/><stop offset="70.94%" stop-color="#3f3b97"/><stop offset="72%" stop-color="#3f3b97"/><stop offset="72.12%" stop-color="#3f3e9c"/><stop offset="73.31%" stop-color="#3f3e9c"/><stop offset="73.44%" stop-color="#4040a2"/><stop offset="74.81%" stop-color="#4040a2"/><stop offset="74.94%" stop-color="#4143a7"/><stop offset="76.5%" stop-color="#4143a7"/><stop offset="76.62%" stop-color="#4146ac"/><stop offset="78.44%" stop-color="#4146ac"/><stop offset="78.56%" stop-color="#4249b1"/><stop offset="80.69%" stop-color="#4249b1"/><stop offset="80.81%" stop-color="#424bb5"/><stop offset="83.37%" stop-color="#424bb5"/><stop offset="83.5%" stop-color="#434eba"/><stop offset="86.56%" stop-color="#434eba"/><stop offset="86.75%" stop-color="#4451bf"/><stop offset="90.44%" stop-color="#4451bf"/><stop offset="90.62%" stop-color="#4454c3"/><stop offset="95.31%" stop-color="#4454c3"/><stop offset="95.5%" stop-color="#4456c7"/><stop offset="100%" stop-color="#4456c7"/></linearGradient><linearGradient id="h47"><stop offset="0%" stop-color="#467df4"/><stop offset="20.19%" stop-color="#4685fa"/><stop offset="32.56%" stop-color="#4294ff"/><stop offset="39.69%" stop-color="#37a8fa"/><stop offset="43.31%" stop-color="#28bceb"/><stop offset="46%" stop-color="#1ad2d2"/><stop offset="47.81%" stop-color="#1ae4b6"/><stop offset="48.69%" stop-color="#27eea4"/><stop offset="49.37%" stop-color="#3cf58e"/><stop offset="50%" stop-color="#59fb73"/><stop offset="50.81%" stop-color="#88ff4e"/><stop offset="51.06%" stop-color="#99fe42"/><stop offset="51.69%" stop-color="#bcf534"/><stop offset="52.37%" stop-color="#e7d739"/><stop offset="52.88%" stop-color="#fcb336"/><stop offset="53.31%" stop-color="#fc8725"/><stop offset="53.75%" stop-color="#eb500e"/><stop offset="54.25%" stop-color="#c82803"/><stop offset="54.75%" stop-color="#9e1001"/><stop offset="55.06%" stop-color="#920b01"/><stop offset="55.31%" stop-color="#980e01"/><stop offset="55.69%" stop-color="#be2102"/><stop offset="56%" stop-color="#e7490c"/><stop offset="56.12%" stop-color="#f36315"/><stop offset="56.31%" stop-color="#fe962b"/><stop offset="56.5%" stop-color="#f6c33a"/><stop offset="56.75%" stop-color="#cbed34"/><stop offset="56.87%" stop-color="#acfb38"/><stop offset="57%" stop-color="#8bff4b"/><stop offset="57.25%" stop-color="#3cf58e"/><stop offset="57.37%" stop-color="#22ebaa"/><stop offset="57.5%" stop-color="#18dec0"/><stop offset="57.69%" stop-color="#1fc9dd"/><stop offset="57.94%" stop-color="#37a8fa"/><stop offset="58.19%" stop-color="#448ffe"/><stop offset="58.56%" stop-color="#476ee6"/><stop offset="59%" stop-color="#4454c3"/><stop offset="59.19%" stop-color="#4249b1"/><stop offset="59.38%" stop-color="#4040a2"/><stop offset="59.5%" stop-color="#3f3e9c"/><stop offset="59.62%" stop-color="#3e3891"/><stop offset="59.94%" stop-color="#3c3286"/><stop offset="60%" stop-color="#3b2f80"/><stop offset="60.06%" stop-color="#3b2f80"/><stop offset="60.13%" stop-color="#3a2d79"/><stop offset="60.25%" stop-color="#3a2d79"/><stop offset="60.31%" stop-color="#392a73"/><stop offset="60.44%" stop-color="#392a73"/><stop offset="60.5%" stop-color="#38276d"/><stop offset="60.69%" stop-color="#38276d"/><stop offset="60.75%" stop-color="#372466"/><stop offset="61.06%" stop-color="#372466"/><stop offset="61.12%" stop-color="#36215f"/><stop offset="63.5%" stop-color="#36215f"/><stop offset="63.56%" stop-color="#372466"/><stop offset="64.38%" stop-color="#372466"/><stop offset="64.44%" stop-color="#38276d"/><stop offset="65.19%" stop-color="#38276d"/><stop offset="65.25%" stop-color="#392a73"/><stop offset="65.94%" stop-color="#392a73"/><stop offset="66%" stop-color="#3a2d79"/><stop offset="66.75%" stop-color="#3a2d79"/><stop offset="66.81%" stop-color="#3b2f80"/><stop offset="67.56%" stop-color="#3b2f80"/><stop offset="67.62%" stop-color="#3c3286"/><stop offset="68.5%" stop-color="#3c3286"/><stop offset="68.62%" stop-color="#3d358b"/><stop offset="69.44%" stop-color="#3d358b"/><stop offset="69.56%" stop-color="#3e3891"/><stop offset="70.44%" stop-color="#3e3891"/><stop offset="70.56%" stop-color="#3f3b97"/><stop offset="71.56%" stop-color="#3f3b97"/><stop offset="71.69%" stop-color="#3f3e9c"/><stop offset="72.81%" stop-color="#3f3e9c"/><stop offset="72.94%" stop-color="#4040a2"/><stop offset="74.19%" stop-color="#4040a2"/><stop offset="74.31%" stop-color="#4143a7"/><stop offset="75.75%" stop-color="#4143a7"/><stop offset="75.87%" stop-color="#4146ac"/><stop offset="77.56%" stop-color="#4146ac"/><stop offset="77.69%" stop-color="#4249b1"/><stop offset="79.56%" stop-color="#4249b1"/><stop offset="79.69%" stop-color="#424bb5"/><stop offset="81.94%" stop-color="#424bb5"/><stop offset="82.06%" stop-color="#434eba"/><stop offset="84.75%" stop-color="#434eba"/><stop offset="84.94%" stop-color="#4451bf"/><stop offset="88.12%" stop-color="#4451bf"/><stop offset="88.31%" stop-color="#4454c3"/><stop offset="92.25%" stop-color="#4454c3"/><stop offset="92.44%" stop-color="#4456c7"/><stop offset="97.44%" stop-color="#4456c7"/><stop offset="97.62%" stop-color="#4559cb"/><stop offset="100%" stop-color="#4559cb"/></linearGradient><linearGradient id="h48"><stop offset="0%" stop-color="#4680f6"/><stop offset="19.56%" stop-color="#4687fb"/><stop offset="32.06%" stop-color="#4196ff"/><stop offset="39.31%" stop-color="#35abf8"/><stop offset="43%" stop-color="#27bee9"/><stop offset="45.56%" stop-color="#1ad2d2"/><stop offset="47.5%" stop-color="#1ae4b6"/><stop offset="48.38%" stop-color="#27eea4"/><stop offset="49%" stop-color="#38f491"/><stop offset="49.62%" stop-color="#52fa7a"/><stop offset="50.31%" stop-color="#79fe59"/><stop offset="50.5%" stop-color="#80ff53"/><stop offset="50.75%" stop-color="#92ff47"/><stop offset="51.44%" stop-color="#b9f635"/><stop offset="52.06%" stop-color="#dde037"/><stop offset="52.62%" stop-color="#f9bc39"/><stop offset="53%" stop-color="#fe9b2d"/><stop offset="53.44%" stop-color="#f46617"/><stop offset="53.87%" stop-color="#da3907"/><stop offset="54.37%" stop-color="#a91601"/><stop offset="54.75%" stop-color="#880802"/><stop offset="55.06%" stop-color="#7a0403"/><stop offset="55.31%" stop-color="#810602"/><stop offset="55.63%" stop-color="#a41301"/><stop offset="55.94%" stop-color="#d43305"/><stop offset="56.12%" stop-color="#ed5510"/><stop offset="56.31%" stop-color="#fc8725"/><stop offset="56.5%" stop-color="#fbb838"/><stop offset="56.62%" stop-color="#ecd13a"/><stop offset="56.81%" stop-color="#c3f134"/><stop offset="56.94%" stop-color="#a7fc3a"/><stop offset="57.06%" stop-color="#84ff51"/><stop offset="57.25%" stop-color="#46f884"/><stop offset="57.37%" stop-color="#27eea4"/><stop offset="57.5%" stop-color="#19e2bb"/><stop offset="57.69%" stop-color="#1ecbda"/><stop offset="57.94%" stop-color="#33adf7"/><stop offset="58.12%" stop-color="#4196ff"/><stop offset="58.44%" stop-color="#477bf2"/><stop offset="58.94%" stop-color="#4456c7"/><stop offset="59.56%" stop-color="#3f3b97"/><stop offset="59.69%" stop-color="#3e3891"/><stop offset="60.19%" stop-color="#3a2d79"/><stop offset="60.25%" stop-color="#3a2d79"/><stop offset="60.31%" stop-color="#392a73"/><stop offset="60.44%" stop-color="#392a73"/><stop offset="60.5%" stop-color="#38276d"/><stop offset="60.69%" stop-color="#38276d"/><stop offset="60.75%" stop-color="#372466"/><stop offset="61.06%" stop-color="#372466"/><stop offset="61.12%" stop-color="#36215f"/><stop offset="63.44%" stop-color="#36215f"/><stop offset="63.5%" stop-color="#372466"/><stop offset="64.31%" stop-color="#372466"/><stop offset="64.38%" stop-color="#38276d"/><stop offset="65.06%" stop-color="#38276d"/><stop offset="65.13%" stop-color="#392a73"/><stop offset="65.81%" stop-color="#392a73"/><stop offset="65.88%" stop-color="#3a2d79"/><stop offset="66.63%" stop-color="#3a2d79"/><stop offset="66.69%" stop-color="#3b2f80"/><stop offset="67.44%" stop-color="#3b2f80"/><stop offset="67.5%" stop-color="#3c3286"/><stop offset="68.25%" stop-color="#3c3286"/><stop offset="68.37%" stop-color="#3d358b"/><stop offset="69.19%" stop-color="#3d358b"/><stop offset="69.31%" stop-color="#3e3891"/><stop offset="70.12%" stop-color="#3e3891"/><stop offset="70.25%" stop-color="#3f3b97"/><stop offset="71.19%" stop-color="#3f3b97"/><stop offset="71.31%" stop-color="#3f3e9c"/><stop offset="72.38%" stop-color="#3f3e9c"/><stop offset="72.5%" stop-color="#4040a2"/><stop offset="73.69%" stop-color="#4040a2"/><stop offset="73.81%" stop-color="#4143a7"/><stop offset="75.12%" stop-color="#4143a7"/><stop offset="75.25%" stop-color="#4146ac"/><stop offset="76.75%" stop-color="#4146ac"/><stop offset="76.87%" stop-color="#4249b1"/><stop offset="78.56%" stop-color="#4249b1"/><stop offset="78.69%" stop-color="#424bb5"/><stop offset="80.69%" stop-color="#424bb5"/><stop offset="80.81%" stop-color="#434eba"/><stop offset="83.19%" stop-color="#434eba"/><stop offset="83.37%" stop-color="#4451bf"/><stop offset="86.12%" stop-color="#4451bf"/><stop offset="86.31%" stop-color="#4454c3"/><stop offset="89.69%" stop-color="#4454c3"/><stop offset="89.87%" stop-color="#4456c7"/><stop offset="94.06%" stop-color="#4456c7"/><stop offset="94.25%" stop-color="#4559cb"/><stop offset="99.56%" stop-color="#4559cb"/><stop offset="99.81%" stop-color="#455ccf"/><stop offset="100%" stop-color="#455ccf"/></linearGradient><linearGradient id="h49"><stop offset="0%" stop-color="#4682f8"/><stop offset="18.94%" stop-color="#458afc"/><stop offset="31.63%" stop-color="#4099ff"/><stop offset="38.94%" stop-color="#33adf7"/><stop offset="42.75%" stop-color="#25c0e7"/><stop offset="45.75%" stop-color="#18d7ca"/><stop offset="47.44%" stop-color="#1de7b2"/><stop offset="48.19%" stop-color="#2aefa1"/><stop offset="48.94%" stop-color="#3ff68a"/><stop offset="49.37%" stop-color="#52fa7a"/><stop offset="50.06%" stop-color="#75fe5c"/><stop offset="51%" stop-color="#a9fb39"/><stop offset="51.69%" stop-color="#d0ea34"/><stop offset="52.31%" stop-color="#f2c93a"/><stop offset="52.81%" stop-color="#fea130"/><stop offset="53.31%" stop-color="#f46617"/><stop offset="53.75%" stop-color="#d83706"/><stop offset="54.12%" stop-color="#b41b01"/><stop offset="54.62%" stop-color="#7a0403"/><stop offset="55.44%" stop-color="#7a0403"/><stop offset="55.5%" stop-color="#7e0502"/><stop offset="55.81%" stop-color="#b21a01"/><stop offset="56%" stop-color="#d23105"/><stop offset="56.19%" stop-color="#ed5510"/><stop offset="56.38%" stop-color="#fd8a26"/><stop offset="56.56%" stop-color="#f9bc39"/><stop offset="56.69%" stop-color="#e9d539"/><stop offset="56.87%" stop-color="#bef434"/><stop offset="57%" stop-color="#9ffd3f"/><stop offset="57.06%" stop-color="#8fff49"/><stop offset="57.31%" stop-color="#3ff68a"/><stop offset="57.44%" stop-color="#22ebaa"/><stop offset="57.56%" stop-color="#18dec0"/><stop offset="57.75%" stop-color="#1fc9dd"/><stop offset="58%" stop-color="#37a8fa"/><stop offset="58.19%" stop-color="#4294ff"/><stop offset="58.44%" stop-color="#477bf2"/><stop offset="59%" stop-color="#4456c7"/><stop offset="59.25%" stop-color="#4249b1"/><stop offset="59.5%" stop-color="#3f3e9c"/><stop offset="59.62%" stop-color="#3f3b97"/><stop offset="59.81%" stop-color="#3d358b"/><stop offset="60.13%" stop-color="#3a2d79"/><stop offset="60.25%" stop-color="#3a2d79"/><stop offset="60.31%" stop-color="#392a73"/><stop offset="60.44%" stop-color="#392a73"/><stop offset="60.5%" stop-color="#38276d"/><stop offset="60.69%" stop-color="#38276d"/><stop offset="60.75%" stop-color="#372466"/><stop offset="61.06%" stop-color="#372466"/><stop offset="61.12%" stop-color="#36215f"/><stop offset="63.44%" stop-color="#36215f"/><stop offset="63.5%" stop-color="#372466"/><stop offset="64.25%" stop-color="#372466"/><stop offset="64.31%" stop-color="#38276d"/><stop offset="65%" stop-color="#38276d"/><stop offset="65.06%" stop-color="#392a73"/><stop offset="65.75%" stop-color="#392a73"/><stop offset="65.81%" stop-color="#3a2d79"/><stop offset="66.5%" stop-color="#3a2d79"/><stop offset="66.56%" stop-color="#3b2f80"/><stop offset="67.25%" stop-color="#3b2f80"/><stop offset="67.31%" stop-color="#3c3286"/><stop offset="68.06%" stop-color="#3c3286"/><stop offset="68.19%" stop-color="#3d358b"/><stop offset="68.94%" stop-color="#3d358b"/><stop offset="69.06%" stop-color="#3e3891"/><stop offset="69.87%" stop-color="#3e3891"/><stop offset="70%" stop-color="#3f3b97"/><stop offset="70.88%" stop-color="#3f3b97"/><stop offset="71%" stop-color="#3f3e9c"/><stop offset="71.94%" stop-color="#3f3e9c"/><stop offset="72.06%" stop-color="#4040a2"/><stop offset="73.13%" stop-color="#4040a2"/><stop offset="73.25%" stop-color="#4143a7"/><stop offset="74.5%" stop-color="#4143a7"/><stop offset="74.63%" stop-color="#4146ac"/><stop offset="76%" stop-color="#4146ac"/><stop offset="76.12%" stop-color="#4249b1"/><stop offset="77.69%" stop-color="#4249b1"/><stop offset="77.81%" stop-color="#424bb5"/><stop offset="79.63%" stop-color="#424bb5"/><stop offset="79.75%" stop-color="#434eba"/><stop offset="81.81%" stop-color="#434eba"/><stop offset="82%" stop-color="#4451bf"/><stop offset="84.44%" stop-color="#4451bf"/><stop offset="84.62%" stop-color="#4454c3"/><stop offset="87.56%" stop-color="#4454c3"/><stop offset="87.75%" stop-color="#4456c7"/><stop offset="91.25%" stop-color="#4456c7"/><stop offset="91.44%" stop-color="#4559cb"/><stop offset="95.87%" stop-color="#4559cb"/><stop offset="96.12%" stop-color="#455ccf"/><stop offset="100%" stop-color="#455ccf"/></linearGradient><linearGradient id="streak"><stop offset="0%" stop-color="#000" stop-opacity="0.04"/><stop offset="0.87%" stop-color="#000" stop-opacity="0.04"/><stop offset="1.74%" stop-color="#000" stop-opacity="0"/><stop offset="2.61%" stop-color="#000" stop-opacity="0"/><stop offset="3.48%" stop-color="#000" stop-opacity="0"/><stop offset="4.35%" stop-color="#000" stop-opacity="0"/><stop offset="5.22%" stop-color="#000" stop-opacity="0"/><stop offset="6.09%" stop-color="#000" stop-opacity="0"/><stop offset="6.96%" stop-color="#000" stop-opacity="0"/><stop offset="7.83%" stop-color="#000" stop-opacity="0"/><stop offset="8.7%" stop-color="#000" stop-opacity="0"/><stop offset="9.57%" stop-color="#000" stop-opacity="0.01"/><stop offset="10.43%" stop-color="#000" stop-opacity="0.06"/><stop offset="11.3%" stop-color="#000" stop-opacity="0.05"/><stop offset="12.17%" stop-color="#000" stop-opacity="0.02"/><stop offset="13.04%" stop-color="#000" stop-opacity="0"/><stop offset="13.91%" stop-color="#000" stop-opacity="0"/><stop offset="14.78%" stop-color="#000" stop-opacity="0"/><stop offset="15.65%" stop-color="#000" stop-opacity="0"/><stop offset="16.52%" stop-color="#000" stop-opacity="0"/><stop offset="17.39%" stop-color="#000" stop-opacity="0"/><stop offset="18.26%" stop-color="#000" stop-opacity="0"/><stop offset="19.13%" stop-color="#000" stop-opacity="0.03"/><stop offset="20%" stop-color="#000" stop-opacity="0.01"/><stop offset="20.87%" stop-color="#000" stop-opacity="0"/><stop offset="21.74%" stop-color="#000" stop-opacity="0"/><stop offset="22.61%" stop-color="#000" stop-opacity="0"/><stop offset="23.48%" stop-color="#000" stop-opacity="0"/><stop offset="24.35%" stop-color="#000" stop-opacity="0"/><stop offset="25.22%" stop-color="#000" stop-opacity="0"/><stop offset="26.09%" stop-color="#000" stop-opacity="0.04"/><stop offset="26.96%" stop-color="#000" stop-opacity="0.03"/><stop offset="27.83%" stop-color="#000" stop-opacity="0"/><stop offset="28.7%" stop-color="#000" stop-opacity="0"/><stop offset="29.57%" stop-color="#000" stop-opacity="0"/><stop offset="30.43%" stop-color="#000" stop-opacity="0"/><stop offset="31.3%" stop-color="#000" stop-opacity="0"/><stop offset="32.17%" stop-color="#000" stop-opacity="0"/><stop offset="33.04%" stop-color="#000" stop-opacity="0.01"/><stop offset="33.91%" stop-color="#000" stop-opacity="0"/><stop offset="34.78%" stop-color="#000" stop-opacity="0"/><stop offset="35.65%" stop-color="#000" stop-opacity="0"/><stop offset="36.52%" stop-color="#000" stop-opacity="0"/><stop offset="37.39%" stop-color="#000" stop-opacity="0"/><stop offset="38.26%" stop-color="#000" stop-opacity="0"/><stop offset="39.13%" stop-color="#000" stop-opacity="0"/><stop offset="40%" stop-color="#000" stop-opacity="0"/><stop offset="40.87%" stop-color="#000" stop-opacity="0"/><stop offset="41.74%" stop-color="#000" stop-opacity="0"/><stop offset="42.61%" stop-color="#000" stop-opacity="0"/><stop offset="43.48%" stop-color="#000" stop-opacity="0.03"/><stop offset="44.35%" stop-color="#000" stop-opacity="0.05"/><stop offset="45.22%" stop-color="#000" stop-opacity="0.05"/><stop offset="46.09%" stop-color="#000" stop-opacity="0.06"/><stop offset="46.96%" stop-color="#000" stop-opacity="0.03"/><stop offset="47.83%" stop-color="#000" stop-opacity="0.01"/><stop offset="48.7%" stop-color="#000" stop-opacity="0"/><stop offset="49.57%" stop-color="#000" stop-opacity="0"/><stop offset="50.43%" stop-color="#000" stop-opacity="0"/><stop offset="51.3%" stop-color="#000" stop-opacity="0"/><stop offset="52.17%" stop-color="#000" stop-opacity="0.01"/><stop offset="53.04%" stop-color="#000" stop-opacity="0.04"/><stop offset="53.91%" stop-color="#000" stop-opacity="0.04"/><stop offset="54.78%" stop-color="#000" stop-opacity="0.02"/><stop offset="55.65%" stop-color="#000" stop-opacity="0.02"/><stop offset="56.52%" stop-color="#000" stop-opacity="0"/><stop offset="57.39%" stop-color="#000" stop-opacity="0"/><stop offset="58.26%" stop-color="#000" stop-opacity="0"/><stop offset="59.13%" stop-color="#000" stop-opacity="0.02"/><stop offset="60%" stop-color="#000" stop-opacity="0.03"/><stop offset="60.87%" stop-color="#000" stop-opacity="0.02"/><stop offset="61.74%" stop-color="#000" stop-opacity="0"/><stop offset="62.61%" stop-color="#000" stop-opacity="0.04"/><stop offset="63.48%" stop-color="#000" stop-opacity="0.04"/><stop offset="64.35%" stop-color="#000" stop-opacity="0.05"/><stop offset="65.22%" stop-color="#000" stop-opacity="0.03"/><stop offset="66.09%" stop-color="#000" stop-opacity="0.03"/><stop offset="66.96%" stop-color="#000" stop-opacity="0"/><stop offset="67.83%" stop-color="#000" stop-opacity="0"/><stop offset="68.7%" stop-color="#000" stop-opacity="0"/><stop offset="69.57%" stop-color="#000" stop-opacity="0"/><stop offset="70.43%" stop-color="#000" stop-opacity="0"/><stop offset="71.3%" stop-color="#000" stop-opacity="0"/><stop offset="72.17%" stop-color="#000" stop-opacity="0"/><stop offset="73.04%" stop-color="#000" stop-opacity="0.01"/><stop offset="73.91%" stop-color="#000" stop-opacity="0.03"/><stop offset="74.78%" stop-color="#000" stop-opacity="0"/><stop offset="75.65%" stop-color="#000" stop-opacity="0"/><stop offset="76.52%" stop-color="#000" stop-opacity="0"/><stop offset="77.39%" stop-color="#000" stop-opacity="0"/><stop offset="78.26%" stop-color="#000" stop-opacity="0"/><stop offset="79.13%" stop-color="#000" stop-opacity="0"/><stop offset="80%" stop-color="#000" stop-opacity="0"/><stop offset="80.87%" stop-color="#000" stop-opacity="0"/><stop offset="81.74%" stop-color="#000" stop-opacity="0"/><stop offset="82.61%" stop-color="#000" stop-opacity="0"/><stop offset="83.48%" stop-color="#000" stop-opacity="0"/><stop offset="84.35%" stop-color="#000" stop-opacity="0"/><stop offset="85.22%" stop-color="#000" stop-opacity="0.01"/><stop offset="86.09%" stop-color="#000" stop-opacity="0.05"/><stop offset="86.96%" stop-color="#000" stop-opacity="0.03"/><stop offset="87.83%" stop-color="#000" stop-opacity="0"/><stop offset="88.7%" stop-color="#000" stop-opacity="0"/><stop offset="89.57%" stop-color="#000" stop-opacity="0.03"/><stop offset="90.43%" stop-color="#000" stop-opacity="0.04"/><stop offset="91.3%" stop-color="#000" stop-opacity="0.01"/><stop offset="92.17%" stop-color="#000" stop-opacity="0"/><stop offset="93.04%" stop-color="#000" stop-opacity="0"/><stop offset="93.91%" stop-color="#000" stop-opacity="0.01"/><stop offset="94.78%" stop-color="#000" stop-opacity="0.01"/><stop offset="95.65%" stop-color="#000" stop-opacity="0"/><stop offset="96.52%" stop-color="#000" stop-opacity="0"/><stop offset="97.39%" stop-color="#000" stop-opacity="0"/><stop offset="98.26%" stop-color="#000" stop-opacity="0"/><stop offset="99.13%" stop-color="#000" stop-opacity="0"/><stop offset="100%" stop-color="#000" stop-opacity="0"/></linearGradient><linearGradient id="cb"><stop offset="0%" stop-color="#30123b"/><stop offset="3.12%" stop-color="#392a73"/><stop offset="6.25%" stop-color="#4040a2"/><stop offset="9.38%" stop-color="#4456c7"/><stop offset="12.5%" stop-color="#466be3"/><stop offset="15.62%" stop-color="#4680f6"/><stop offset="18.75%" stop-color="#4294ff"/><stop offset="21.88%" stop-color="#37a8fa"/><stop offset="25%" stop-color="#28bceb"/><stop offset="28.12%" stop-color="#1ccdd8"/><stop offset="31.25%" stop-color="#18ddc2"/><stop offset="34.38%" stop-color="#1fe9af"/><stop offset="37.5%" stop-color="#32f298"/><stop offset="40.62%" stop-color="#4ef97d"/><stop offset="43.75%" stop-color="#6dfe62"/><stop offset="46.88%" stop-color="#8bff4b"/><stop offset="50%" stop-color="#a4fc3c"/><stop offset="53.12%" stop-color="#b9f635"/><stop offset="56.25%" stop-color="#cdec34"/><stop offset="59.38%" stop-color="#dfdf37"/><stop offset="62.5%" stop-color="#eecf3a"/><stop offset="65.62%" stop-color="#f8be39"/><stop offset="68.75%" stop-color="#fdac34"/><stop offset="71.88%" stop-color="#fe962b"/><stop offset="75%" stop-color="#fb7e21"/><stop offset="78.12%" stop-color="#f46617"/><stop offset="81.25%" stop-color="#eb500e"/><stop offset="84.38%" stop-color="#df3f08"/><stop offset="87.5%" stop-color="#d02f05"/><stop offset="90.62%" stop-color="#be2102"/><stop offset="93.75%" stop-color="#a91601"/><stop offset="96.88%" stop-color="#920b01"/><stop offset="100%" stop-color="#7a0403"/></linearGradient></defs>
<rect x="41.6" y="39.7" width="114.6" height="3.91" fill="url(#h0)"/><rect x="41.6" y="42.61" width="114.6" height="3.91" fill="url(#h1)"/><rect x="41.6" y="45.52" width="114.6" height="3.91" fill="url(#h2)"/><rect x="41.6" y="48.42" width="114.6" height="3.91" fill="url(#h3)"/><rect x="41.6" y="51.33" width="114.6" height="3.91" fill="url(#h4)"/><rect x="41.6" y="54.24" width="114.6" height="3.91" fill="url(#h5)"/><rect x="41.6" y="57.15" width="114.6" height="3.91" fill="url(#h6)"/><rect x="41.6" y="60.06" width="114.6" height="3.91" fill="url(#h7)"/><rect x="41.6" y="62.96" width="114.6" height="3.91" fill="url(#h8)"/><rect x="41.6" y="65.87" width="114.6" height="3.91" fill="url(#h9)"/><rect x="41.6" y="68.78" width="114.6" height="3.91" fill="url(#h10)"/><rect x="41.6" y="71.69" width="114.6" height="3.91" fill="url(#h11)"/><rect x="41.6" y="74.6" width="114.6" height="3.91" fill="url(#h12)"/><rect x="41.6" y="77.5" width="114.6" height="3.91" fill="url(#h13)"/><rect x="41.6" y="80.41" width="114.6" height="3.91" fill="url(#h14)"/><rect x="41.6" y="83.32" width="114.6" height="3.91" fill="url(#h15)"/><rect x="41.6" y="86.23" width="114.6" height="3.91" fill="url(#h16)"/><rect x="41.6" y="89.14" width="114.6" height="3.91" fill="url(#h17)"/><rect x="41.6" y="92.04" width="114.6" height="3.91" fill="url(#h18)"/><rect x="41.6" y="94.95" width="114.6" height="3.91" fill="url(#h19)"/><rect x="41.6" y="97.86" width="114.6" height="3.91" fill="url(#h20)"/><rect x="41.6" y="100.77" width="114.6" height="3.91" fill="url(#h21)"/><rect x="41.6" y="103.68" width="114.6" height="3.91" fill="url(#h22)"/><rect x="41.6" y="106.58" width="114.6" height="3.91" fill="url(#h23)"/><rect x="41.6" y="109.49" width="114.6" height="3.91" fill="url(#h24)"/><rect x="41.6" y="112.4" width="114.6" height="3.91" fill="url(#h25)"/><rect x="41.6" y="115.31" width="114.6" height="3.91" fill="url(#h26)"/><rect x="41.6" y="118.22" width="114.6" height="3.91" fill="url(#h27)"/><rect x="41.6" y="121.12" width="114.6" height="3.91" fill="url(#h28)"/><rect x="41.6" y="124.03" width="114.6" height="3.91" fill="url(#h29)"/><rect x="41.6" y="126.94" width="114.6" height="3.91" fill="url(#h30)"/><rect x="41.6" y="129.85" width="114.6" height="3.91" fill="url(#h31)"/><rect x="41.6" y="132.76" width="114.6" height="3.91" fill="url(#h32)"/><rect x="41.6" y="135.66" width="114.6" height="3.91" fill="url(#h33)"/><rect x="41.6" y="138.57" width="114.6" height="3.91" fill="url(#h34)"/><rect x="41.6" y="141.48" width="114.6" height="3.91" fill="url(#h35)"/><rect x="41.6" y="144.39" width="114.6" height="3.91" fill="url(#h36)"/><rect x="41.6" y="147.3" width="114.6" height="3.91" fill="url(#h37)"/><rect x="41.6" y="150.2" width="114.6" height="3.91" fill="url(#h38)"/><rect x="41.6" y="153.11" width="114.6" height="3.91" fill="url(#h39)"/><rect x="41.6" y="156.02" width="114.6" height="3.91" fill="url(#h40)"/><rect x="41.6" y="158.93" width="114.6" height="3.91" fill="url(#h41)"/><rect x="41.6" y="161.84" width="114.6" height="3.91" fill="url(#h42)"/><rect x="41.6" y="164.74" width="114.6" height="3.91" fill="url(#h43)"/><rect x="41.6" y="167.65" width="114.6" height="3.91" fill="url(#h44)"/><rect x="41.6" y="170.56" width="114.6" height="3.91" fill="url(#h45)"/><rect x="41.6" y="173.47" width="114.6" height="3.91" fill="url(#h46)"/><rect x="41.6" y="176.38" width="114.6" height="3.91" fill="url(#h47)"/><rect x="41.6" y="179.28" width="114.6" height="3.91" fill="url(#h48)"/><rect x="41.6" y="182.19" width="114.6" height="2.91" fill="url(#h49)"/><rect x="41.6" y="39.7" width="114.6" height="145.4" fill="url(#streak)"/>
<rect x="41.6" y="39.7" width="114.6" height="145.4" fill="none" stroke="#000" stroke-width="1.11"/>
<line x1="36.74" y1="185.1" x2="41.6" y2="185.1" stroke="#000" stroke-width="1.11"/>
<text x="34.6" y="189.2" font-size="10" text-anchor="end" textLength="15.46" lengthAdjust="spacingAndGlyphs">0.0</text>
<line x1="36.74" y1="160.87" x2="41.6" y2="160.87" stroke="#000" stroke-width="1.11"/>
<text x="34.6" y="164.97" font-size="10" text-anchor="end" textLength="15.46" lengthAdjust="spacingAndGlyphs">2.5</text>
<line x1="36.74" y1="136.63" x2="41.6" y2="136.63" stroke="#000" stroke-width="1.11"/>
<text x="34.6" y="140.73" font-size="10" text-anchor="end" textLength="15.46" lengthAdjust="spacingAndGlyphs">5.0</text>
<line x1="36.74" y1="112.4" x2="41.6" y2="112.4" stroke="#000" stroke-width="1.11"/>
<text x="34.6" y="116.5" font-size="10" text-anchor="end" textLength="15.46" lengthAdjust="spacingAndGlyphs">7.5</text>
<line x1="36.74" y1="88.17" x2="41.6" y2="88.17" stroke="#000" stroke-width="1.11"/>
<text x="34.6" y="92.27" font-size="10" text-anchor="end" textLength="21.64" lengthAdjust="spacingAndGlyphs">10.0</text>
<line x1="36.74" y1="63.93" x2="41.6" y2="63.93" stroke="#000" stroke-width="1.11"/>
<text x="34.6" y="68.03" font-size="10" text-anchor="end" textLength="21.64" lengthAdjust="spacingAndGlyphs">12.5</text>
<line x1="36.74" y1="39.7" x2="41.6" y2="39.7" stroke="#000" stroke-width="1.11"/>
<text x="34.6" y="43.8" font-size="10" text-anchor="end" textLength="21.64" lengthAdjust="spacingAndGlyphs">15.0</text>
<line x1="41.6" y1="185.1" x2="41.6" y2="187.88" stroke="#000" stroke-width="0.83"/>
<line x1="55.93" y1="185.1" x2="55.93" y2="189.96" stroke="#000" stroke-width="1.11"/>
<text x="55.93" y="199.4" font-size="10" text-anchor="middle" textLength="21.64" lengthAdjust="spacingAndGlyphs">59.8</text>
<line x1="70.25" y1="185.1" x2="70.25" y2="187.88" stroke="#000" stroke-width="0.83"/>
<line x1="84.57" y1="185.1" x2="84.57" y2="189.96" stroke="#000" stroke-width="1.11"/>
<text x="84.57" y="199.4" font-size="10" text-anchor="middle" textLength="21.64" lengthAdjust="spacingAndGlyphs">60.0</text>
<line x1="98.9" y1="185.1" x2="98.9" y2="187.88" stroke="#000" stroke-width="0.83"/>
<line x1="113.22" y1="185.1" x2="113.22" y2="189.96" stroke="#000" stroke-width="1.11"/>
<text x="113.22" y="199.4" font-size="10" text-anchor="middle" textLength="21.64" lengthAdjust="spacingAndGlyphs">60.2</text>
<line x1="127.55" y1="185.1" x2="127.55" y2="187.88" stroke="#000" stroke-width="0.83"/>
<line x1="141.88" y1="185.1" x2="141.88" y2="189.96" stroke="#000" stroke-width="1.11"/>
<text x="141.88" y="199.4" font-size="10" text-anchor="middle" textLength="21.64" lengthAdjust="spacingAndGlyphs">60.4</text>
<line x1="156.2" y1="185.1" x2="156.2" y2="187.88" stroke="#000" stroke-width="0.83"/>
<text x="98.5" y="209.8" font-size="10.35" text-anchor="middle" textLength="94.31" lengthAdjust="spacingAndGlyphs">Photon Energy (eV)</text>
<g transform="translate(9.5 112) rotate(-90)">
<text x="-39.94" y="0.6" font-size="10.35" text-anchor="start" textLength="65.57" lengthAdjust="spacingAndGlyphs">Fluence (J cm</text>
<text x="25.92" y="-2.9" font-size="7" text-anchor="start" textLength="10.03" lengthAdjust="spacingAndGlyphs">−2</text>
<text x="36.15" y="0.6" font-size="10.35" text-anchor="start" textLength="3.79" lengthAdjust="spacingAndGlyphs">)</text>
</g>
<rect x="41.6" y="26.7" width="114.6" height="10.3" fill="url(#cb)" stroke="#000" stroke-width="1.11"/>
<line x1="41.6" y1="26.7" x2="41.6" y2="21.84" stroke="#000" stroke-width="1.11"/>
<text x="41.6" y="19.1" font-size="10" text-anchor="middle" textLength="6.18" lengthAdjust="spacingAndGlyphs">0</text>
<line x1="70.25" y1="26.7" x2="70.25" y2="21.84" stroke="#000" stroke-width="1.11"/>
<text x="70.25" y="19.1" font-size="10" text-anchor="middle" textLength="15.46" lengthAdjust="spacingAndGlyphs">0.2</text>
<line x1="98.9" y1="26.7" x2="98.9" y2="21.84" stroke="#000" stroke-width="1.11"/>
<text x="98.9" y="19.1" font-size="10" text-anchor="middle" textLength="15.46" lengthAdjust="spacingAndGlyphs">0.4</text>
<line x1="127.55" y1="26.7" x2="127.55" y2="21.84" stroke="#000" stroke-width="1.11"/>
<text x="127.55" y="19.1" font-size="10" text-anchor="middle" textLength="15.46" lengthAdjust="spacingAndGlyphs">0.6</text>
<line x1="156.2" y1="26.7" x2="156.2" y2="21.84" stroke="#000" stroke-width="1.11"/>
<text x="156.2" y="19.1" font-size="10" text-anchor="middle" textLength="15.46" lengthAdjust="spacingAndGlyphs">0.8</text>
<text x="98.5" y="7.8" font-size="10.35" text-anchor="middle" textLength="83.25" lengthAdjust="spacingAndGlyphs">Absorbance (OD)</text>
<text x="-0.3" y="16.6" font-size="12" text-anchor="start" textLength="15.46" lengthAdjust="spacingAndGlyphs">(a)</text>
<path d="M162.8 44.2 L158.1 46.4 L162.7 48.6" fill="none" stroke="#000" stroke-width="0.95" stroke-linejoin="miter"/>
<line x1="162.5" y1="46.7" x2="165.1" y2="46.7" stroke="#888" stroke-width="1.2"/>
<path d="M162.8 107.2 L158.1 109.4 L162.7 111.6" fill="none" stroke="#000" stroke-width="0.95" stroke-linejoin="miter"/>
<line x1="162.5" y1="109.7" x2="165.1" y2="109.7" stroke="#888" stroke-width="1.2"/>
<path d="M162.8 174.9 L158.1 177.1 L162.7 179.3" fill="none" stroke="#000" stroke-width="0.95" stroke-linejoin="miter"/>
<line x1="162.5" y1="177.4" x2="165.1" y2="177.4" stroke="#888" stroke-width="1.2"/>
<polyline points="203.3,54.44 204.11,54.59 204.92,54.55 205.73,54.52 206.54,54.6 207.35,54.54 208.16,54.53 208.97,54.65 209.78,54.45 210.6,54.47 211.41,54.55 212.22,54.52 213.03,54.46 213.84,54.51 214.65,54.5 215.46,54.58 216.27,54.43 217.08,54.45 217.89,54.44 218.7,54.56 219.51,54.32 220.32,54.42 221.13,54.45 221.94,54.27 222.75,54.41 223.57,54.5 224.38,54.42 225.19,54.55 226,54.3 226.81,54.39 227.62,54.4 228.43,54.26 229.24,54.45 230.05,54.28 230.86,54.45 231.67,54.34 232.48,54.36 233.29,54.16 234.1,54.12 234.91,54.26 235.73,54.16 236.54,54.22 237.35,54.14 238.16,54.22 238.97,54.27 239.78,54.26 240.59,54.08 241.4,53.93 242.21,54.05 243.02,54.08 243.83,53.88 244.64,53.97 245.45,53.95 246.26,53.91 247.07,53.91 247.88,53.89 248.7,53.93 249.51,53.76 250.32,53.76 251.13,53.62 251.94,53.69 252.75,53.75 253.56,53.56 254.37,53.37 255.18,53.46 255.99,53.43 256.8,53.37 257.61,53.28 258.42,53.13 259.23,53.09 260.04,52.79 260.85,52.79 261.66,52.62 262.48,52.36 263.29,52.17 264.1,52.08 264.91,51.8 265.72,51.49 266.53,51.22 267.34,50.93 268.15,50.27 268.96,49.66 269.77,48.96 270.58,48.14 271.39,46.94 272.2,45.54 273.01,43.84 273.82,42.02 274.63,40.94 275.45,41.63 276.26,44.38 277.07,48.06 277.88,51.29 278.69,53.47 279.5,54.85 280.31,55.6 281.12,55.88 281.93,56.23 282.74,56.45 283.55,56.52 284.36,56.56 285.17,56.46 285.98,56.44 286.79,56.54 287.6,56.36 288.42,56.39 289.23,56.21 290.04,56.26 290.85,56.1 291.66,56.22 292.47,56.17 293.28,56.09 294.09,56 294.9,56 295.71,56.1 296.52,55.97 297.33,55.95 298.14,55.96 298.95,55.95 299.76,55.75 300.57,55.88 301.39,55.89 302.2,55.76 303.01,55.78 303.82,55.77 304.63,55.69 305.44,55.69 306.25,55.69 307.06,55.63 307.87,55.66 308.68,55.71 309.49,55.68 310.3,55.67 311.11,55.61 311.92,55.69 312.73,55.73 313.54,55.58 314.36,55.67 315.17,55.7 315.98,55.52 316.79,55.59 317.6,55.49 318.41,55.56 319.22,55.59 320.03,55.59 320.84,55.53 321.65,55.5 322.46,55.53 323.27,55.49 324.08,55.57 324.89,55.45 325.7,55.57 326.51,55.45 327.33,55.38 328.14,55.34 328.95,55.29 329.76,55.52 330.57,55.35 331.38,55.31 332.19,55.32 333,55.45" fill="none" stroke="#1f77b4" stroke-width="1.45" stroke-linejoin="round"/>
<polyline points="203.3,54.56 203.63,54.56 203.95,54.56 204.28,54.56 204.6,54.55 204.93,54.55 205.25,54.55 205.58,54.55 205.9,54.55 206.23,54.54 206.55,54.54 206.88,54.54 207.2,54.54 207.53,54.54 207.85,54.53 208.18,54.53 208.5,54.53 208.83,54.53 209.15,54.52 209.48,54.52 209.8,54.52 210.13,54.52 210.45,54.52 210.78,54.51 211.1,54.51 211.43,54.51 211.75,54.51 212.08,54.5 212.4,54.5 212.73,54.5 213.05,54.5 213.38,54.49 213.7,54.49 214.03,54.49 214.35,54.49 214.68,54.48 215,54.48 215.33,54.48 215.65,54.48 215.98,54.47 216.3,54.47 216.63,54.47 216.95,54.46 217.28,54.46 217.6,54.46 217.93,54.46 218.25,54.45 218.58,54.45 218.9,54.45 219.23,54.44 219.55,54.44 219.88,54.44 220.2,54.43 220.53,54.43 220.85,54.43 221.18,54.43 221.5,54.42 221.83,54.42 222.15,54.42 222.48,54.41 222.8,54.41 223.13,54.4 223.45,54.4 223.78,54.4 224.1,54.39 224.43,54.39 224.75,54.39 225.08,54.38 225.4,54.38 225.73,54.37 226.05,54.37 226.38,54.37 226.7,54.36 227.03,54.36 227.35,54.35 227.68,54.35 228,54.35 228.33,54.34 228.65,54.34 228.98,54.33 229.31,54.33 229.63,54.32 229.96,54.32 230.28,54.31 230.61,54.31 230.93,54.3 231.26,54.3 231.58,54.29 231.91,54.29 232.23,54.28 232.56,54.28 232.88,54.27 233.21,54.27 233.53,54.26 233.86,54.25 234.18,54.25 234.51,54.24 234.83,54.24 235.16,54.23 235.48,54.22 235.81,54.22 236.13,54.21 236.46,54.2 236.78,54.2 237.11,54.19 237.43,54.18 237.76,54.18 238.08,54.17 238.41,54.16 238.73,54.15 239.06,54.15 239.38,54.14 239.71,54.13 240.03,54.12 240.36,54.12 240.68,54.11 241.01,54.1 241.33,54.09 241.66,54.08 241.98,54.07 242.31,54.06 242.63,54.05 242.96,54.04 243.28,54.03 243.61,54.02 243.93,54.01 244.26,54 244.58,53.99 244.91,53.98 245.23,53.97 245.56,53.96 245.88,53.95 246.21,53.93 246.53,53.92 246.86,53.91 247.18,53.9 247.51,53.88 247.83,53.87 248.16,53.85 248.48,53.84 248.81,53.83 249.13,53.81 249.46,53.79 249.78,53.78 250.11,53.76 250.43,53.75 250.76,53.73 251.08,53.71 251.41,53.69 251.73,53.67 252.06,53.65 252.38,53.63 252.71,53.61 253.03,53.59 253.36,53.57 253.68,53.55 254.01,53.52 254.33,53.5 254.66,53.47 254.98,53.45 255.31,53.42 255.64,53.39 255.96,53.37 256.29,53.34 256.61,53.31 256.94,53.27 257.26,53.24 257.59,53.21 257.91,53.17 258.24,53.13 258.56,53.09 258.89,53.05 259.21,53.01 259.54,52.97 259.86,52.92 260.19,52.87 260.51,52.82 260.84,52.77 261.16,52.72 261.49,52.66 261.81,52.6 262.14,52.53 262.46,52.47 262.79,52.4 263.11,52.32 263.44,52.24 263.76,52.16 264.09,52.07 264.41,51.98 264.74,51.88 265.06,51.77 265.39,51.66 265.71,51.54 266.04,51.41 266.36,51.28 266.69,51.13 267.01,50.97 267.34,50.8 267.66,50.62 267.99,50.42 268.31,50.21 268.64,49.97 268.96,49.72 269.29,49.44 269.61,49.14 269.94,48.82 270.26,48.46 270.59,48.06 270.91,47.63 271.24,47.16 271.56,46.65 271.89,46.08 272.21,45.48 272.54,44.83 272.86,44.15 273.19,43.44 273.51,42.74 273.84,42.09 274.16,41.53 274.49,41.14 274.81,41 275.14,41.18 275.46,41.72 275.79,42.61 276.11,43.82 276.44,45.23 276.76,46.73 277.09,48.21 277.41,49.59 277.74,50.82 278.06,51.88 278.39,52.78 278.71,53.52 279.04,54.13 279.36,54.63 279.69,55.03 280.01,55.35 280.34,55.61 280.66,55.82 280.99,55.98 281.32,56.12 281.64,56.22 281.97,56.3 282.29,56.36 282.62,56.41 282.94,56.44 283.27,56.47 283.59,56.48 283.92,56.49 284.24,56.5 284.57,56.5 284.89,56.5 285.22,56.49 285.54,56.48 285.87,56.47 286.19,56.46 286.52,56.44 286.84,56.43 287.17,56.42 287.49,56.4 287.82,56.38 288.14,56.37 288.47,56.35 288.79,56.33 289.12,56.32 289.44,56.3 289.77,56.28 290.09,56.27 290.42,56.25 290.74,56.23 291.07,56.22 291.39,56.2 291.72,56.19 292.04,56.17 292.37,56.16 292.69,56.14 293.02,56.13 293.34,56.11 293.67,56.1 293.99,56.08 294.32,56.07 294.64,56.06 294.97,56.04 295.29,56.03 295.62,56.02 295.94,56 296.27,55.99 296.59,55.98 296.92,55.97 297.24,55.96 297.57,55.95 297.89,55.94 298.22,55.92 298.54,55.91 298.87,55.9 299.19,55.89 299.52,55.88 299.84,55.87 300.17,55.86 300.49,55.85 300.82,55.84 301.14,55.84 301.47,55.83 301.79,55.82 302.12,55.81 302.44,55.8 302.77,55.79 303.09,55.78 303.42,55.78 303.74,55.77 304.07,55.76 304.39,55.75 304.72,55.75 305.04,55.74 305.37,55.73 305.69,55.72 306.02,55.72 306.34,55.71 306.67,55.7 306.99,55.7 307.32,55.69 307.65,55.68 307.97,55.68 308.3,55.67 308.62,55.67 308.95,55.66 309.27,55.65 309.6,55.65 309.92,55.64 310.25,55.64 310.57,55.63 310.9,55.63 311.22,55.62 311.55,55.61 311.87,55.61 312.2,55.6 312.52,55.6 312.85,55.59 313.17,55.59 313.5,55.58 313.82,55.58 314.15,55.58 314.47,55.57 314.8,55.57 315.12,55.56 315.45,55.56 315.77,55.55 316.1,55.55 316.42,55.54 316.75,55.54 317.07,55.54 317.4,55.53 317.72,55.53 318.05,55.52 318.37,55.52 318.7,55.52 319.02,55.51 319.35,55.51 319.67,55.51 320,55.5 320.32,55.5 320.65,55.49 320.97,55.49 321.3,55.49 321.62,55.48 321.95,55.48 322.27,55.48 322.6,55.47 322.92,55.47 323.25,55.47 323.57,55.46 323.9,55.46 324.22,55.46 324.55,55.45 324.87,55.45 325.2,55.45 325.52,55.45 325.85,55.44 326.17,55.44 326.5,55.44 326.82,55.43 327.15,55.43 327.47,55.43 327.8,55.43 328.12,55.42 328.45,55.42 328.77,55.42 329.1,55.42 329.42,55.41 329.75,55.41 330.07,55.41 330.4,55.41 330.72,55.4 331.05,55.4 331.37,55.4 331.7,55.4 332.02,55.39 332.35,55.39 332.67,55.39 333,55.39" fill="none" stroke="#ff7f0e" stroke-width="1.45" stroke-dasharray="4.8 2.4"/>
<rect x="203.3" y="2.8" width="129.7" height="60.07" fill="none" stroke="#000" stroke-width="1.11"/>
<line x1="198.74" y1="56.86" x2="203.3" y2="56.86" stroke="#000" stroke-width="1.11"/>
<text x="197.2" y="60.96" font-size="10" text-anchor="end" textLength="15.46" lengthAdjust="spacingAndGlyphs">0.0</text>
<line x1="202" y1="50.85" x2="204.6" y2="50.85" stroke="#000" stroke-width="0.83"/>
<line x1="202" y1="44.85" x2="204.6" y2="44.85" stroke="#000" stroke-width="0.83"/>
<line x1="202" y1="38.84" x2="204.6" y2="38.84" stroke="#000" stroke-width="0.83"/>
<line x1="202" y1="32.83" x2="204.6" y2="32.83" stroke="#000" stroke-width="0.83"/>
<line x1="198.74" y1="26.83" x2="203.3" y2="26.83" stroke="#000" stroke-width="1.11"/>
<text x="197.2" y="30.93" font-size="10" text-anchor="end" textLength="15.46" lengthAdjust="spacingAndGlyphs">0.5</text>
<line x1="202" y1="20.82" x2="204.6" y2="20.82" stroke="#000" stroke-width="0.83"/>
<line x1="202" y1="14.81" x2="204.6" y2="14.81" stroke="#000" stroke-width="0.83"/>
<line x1="202" y1="8.81" x2="204.6" y2="8.81" stroke="#000" stroke-width="0.83"/>
<line x1="219.51" y1="2.8" x2="219.51" y2="7.66" stroke="#000" stroke-width="1.11"/>
<line x1="219.51" y1="60.44" x2="219.51" y2="65.3" stroke="#000" stroke-width="1.11"/>
<line x1="235.73" y1="2.8" x2="235.73" y2="5.58" stroke="#000" stroke-width="0.83"/>
<line x1="235.73" y1="61.67" x2="235.73" y2="64.07" stroke="#000" stroke-width="0.83"/>
<line x1="251.94" y1="2.8" x2="251.94" y2="7.66" stroke="#000" stroke-width="1.11"/>
<line x1="251.94" y1="60.44" x2="251.94" y2="65.3" stroke="#000" stroke-width="1.11"/>
<line x1="268.15" y1="2.8" x2="268.15" y2="5.58" stroke="#000" stroke-width="0.83"/>
<line x1="268.15" y1="61.67" x2="268.15" y2="64.07" stroke="#000" stroke-width="0.83"/>
<line x1="284.36" y1="2.8" x2="284.36" y2="7.66" stroke="#000" stroke-width="1.11"/>
<line x1="284.36" y1="60.44" x2="284.36" y2="65.3" stroke="#000" stroke-width="1.11"/>
<line x1="300.58" y1="2.8" x2="300.58" y2="5.58" stroke="#000" stroke-width="0.83"/>
<line x1="300.58" y1="61.67" x2="300.58" y2="64.07" stroke="#000" stroke-width="0.83"/>
<line x1="316.79" y1="2.8" x2="316.79" y2="7.66" stroke="#000" stroke-width="1.11"/>
<line x1="316.79" y1="60.44" x2="316.79" y2="65.3" stroke="#000" stroke-width="1.11"/>
<text x="207.8" y="20.6" font-size="12" text-anchor="start" textLength="15.71" lengthAdjust="spacingAndGlyphs">(b)</text>
<text x="325.6" y="20.7" font-size="10" text-anchor="end" textLength="36.4" lengthAdjust="spacingAndGlyphs"><tspan font-style="italic">q</tspan> = -3.0</text>
<text x="325.4" y="31.6" font-size="10" text-anchor="end" textLength="35.9" lengthAdjust="spacingAndGlyphs"><tspan font-style="italic">a</tspan> = &#160;0.3</text>
<polyline points="203.3,113.32 204.11,113.21 204.92,113.45 205.73,113.3 206.54,113.24 207.35,113.37 208.16,113.27 208.97,113.38 209.78,113.35 210.6,113.34 211.41,113.26 212.22,113.27 213.03,113.18 213.84,113.31 214.65,113.24 215.46,113.15 216.27,113.17 217.08,113.29 217.89,113.14 218.7,113.21 219.51,113.14 220.32,113.13 221.13,113.05 221.94,113.12 222.75,113.24 223.57,113.2 224.38,113.03 225.19,113.08 226,112.97 226.81,113.01 227.62,113.07 228.43,112.92 229.24,113.04 230.05,113.11 230.86,112.79 231.67,113.06 232.48,112.86 233.29,112.81 234.1,112.85 234.91,112.95 235.73,112.73 236.54,112.88 237.35,112.85 238.16,112.75 238.97,112.64 239.78,112.64 240.59,112.57 241.4,112.63 242.21,112.57 243.02,112.6 243.83,112.5 244.64,112.4 245.45,112.42 246.26,112.31 247.07,112.34 247.88,112.29 248.7,112.18 249.51,112.14 250.32,112.02 251.13,111.98 251.94,111.79 252.75,111.85 253.56,111.76 254.37,111.73 255.18,111.55 255.99,111.39 256.8,111.37 257.61,111.19 258.42,110.99 259.23,110.88 260.04,110.73 260.85,110.42 261.66,110.26 262.48,109.98 263.29,109.63 264.1,109.3 264.91,109.02 265.72,108.58 266.53,107.99 267.34,107.39 268.15,106.75 268.96,105.59 269.77,104.52 270.58,103.03 271.39,101.37 272.2,98.98 273.01,96.52 273.82,93.87 274.63,92.38 275.45,93.41 276.26,97.83 277.07,103.66 277.88,108.6 278.69,112 279.5,113.99 280.31,115.29 281.12,116 281.93,116.3 282.74,116.43 283.55,116.46 284.36,116.51 285.17,116.66 285.98,116.46 286.79,116.32 287.6,116.35 288.42,116.32 289.23,116.19 290.04,116.18 290.85,116.03 291.66,116.01 292.47,115.84 293.28,115.84 294.09,115.87 294.9,115.72 295.71,115.65 296.52,115.7 297.33,115.65 298.14,115.74 298.95,115.46 299.76,115.53 300.57,115.6 301.39,115.54 302.2,115.39 303.01,115.28 303.82,115.31 304.63,115.24 305.44,115.33 306.25,115.31 307.06,115.13 307.87,115.13 308.68,115.14 309.49,115.02 310.3,115.16 311.11,115.1 311.92,114.98 312.73,114.9 313.54,115.01 314.36,114.87 315.17,115.01 315.98,114.93 316.79,114.95 317.6,115.03 318.41,114.89 319.22,114.82 320.03,114.88 320.84,114.86 321.65,114.74 322.46,114.92 323.27,114.93 324.08,114.85 324.89,114.88 325.7,114.68 326.51,114.75 327.33,114.82 328.14,114.79 328.95,114.53 329.76,114.77 330.57,114.77 331.38,114.68 332.19,114.65 333,114.67" fill="none" stroke="#1f77b4" stroke-width="1.45" stroke-linejoin="round"/>
<polyline points="203.3,113.35 203.63,113.35 203.95,113.35 204.28,113.35 204.6,113.34 204.93,113.34 205.25,113.34 205.58,113.33 205.9,113.33 206.23,113.33 206.55,113.32 206.88,113.32 207.2,113.32 207.53,113.31 207.85,113.31 208.18,113.31 208.5,113.3 208.83,113.3 209.15,113.3 209.48,113.29 209.8,113.29 210.13,113.29 210.45,113.28 210.78,113.28 211.1,113.28 211.43,113.27 211.75,113.27 212.08,113.26 212.4,113.26 212.73,113.26 213.05,113.25 213.38,113.25 213.7,113.24 214.03,113.24 214.35,113.24 214.68,113.23 215,113.23 215.33,113.22 215.65,113.22 215.98,113.21 216.3,113.21 216.63,113.21 216.95,113.2 217.28,113.2 217.6,113.19 217.93,113.19 218.25,113.18 218.58,113.18 218.9,113.17 219.23,113.17 219.55,113.16 219.88,113.16 220.2,113.15 220.53,113.15 220.85,113.14 221.18,113.14 221.5,113.13 221.83,113.13 222.15,113.12 222.48,113.12 222.8,113.11 223.13,113.1 223.45,113.1 223.78,113.09 224.1,113.09 224.43,113.08 224.75,113.07 225.08,113.07 225.4,113.06 225.73,113.06 226.05,113.05 226.38,113.04 226.7,113.04 227.03,113.03 227.35,113.02 227.68,113.02 228,113.01 228.33,113 228.65,112.99 228.98,112.99 229.31,112.98 229.63,112.97 229.96,112.96 230.28,112.96 230.61,112.95 230.93,112.94 231.26,112.93 231.58,112.92 231.91,112.92 232.23,112.91 232.56,112.9 232.88,112.89 233.21,112.88 233.53,112.87 233.86,112.86 234.18,112.85 234.51,112.84 234.83,112.83 235.16,112.82 235.48,112.81 235.81,112.8 236.13,112.79 236.46,112.78 236.78,112.77 237.11,112.76 237.43,112.75 237.76,112.74 238.08,112.73 238.41,112.72 238.73,112.7 239.06,112.69 239.38,112.68 239.71,112.67 240.03,112.65 240.36,112.64 240.68,112.63 241.01,112.61 241.33,112.6 241.66,112.59 241.98,112.57 242.31,112.56 242.63,112.54 242.96,112.53 243.28,112.51 243.61,112.49 243.93,112.48 244.26,112.46 244.58,112.44 244.91,112.43 245.23,112.41 245.56,112.39 245.88,112.37 246.21,112.35 246.53,112.33 246.86,112.31 247.18,112.29 247.51,112.27 247.83,112.25 248.16,112.22 248.48,112.2 248.81,112.18 249.13,112.15 249.46,112.13 249.78,112.1 250.11,112.08 250.43,112.05 250.76,112.02 251.08,111.99 251.41,111.96 251.73,111.93 252.06,111.9 252.38,111.87 252.71,111.84 253.03,111.8 253.36,111.77 253.68,111.73 254.01,111.7 254.33,111.66 254.66,111.62 254.98,111.58 255.31,111.53 255.64,111.49 255.96,111.44 256.29,111.4 256.61,111.35 256.94,111.3 257.26,111.24 257.59,111.19 257.91,111.13 258.24,111.07 258.56,111.01 258.89,110.95 259.21,110.88 259.54,110.81 259.86,110.74 260.19,110.66 260.51,110.58 260.84,110.5 261.16,110.41 261.49,110.32 261.81,110.22 262.14,110.12 262.46,110.02 262.79,109.9 263.11,109.79 263.44,109.66 263.76,109.53 264.09,109.39 264.41,109.24 264.74,109.08 265.06,108.92 265.39,108.74 265.71,108.55 266.04,108.35 266.36,108.13 266.69,107.9 267.01,107.65 267.34,107.38 267.66,107.09 267.99,106.78 268.31,106.44 268.64,106.07 268.96,105.67 269.29,105.24 269.61,104.77 269.94,104.25 270.26,103.69 270.59,103.07 270.91,102.4 271.24,101.66 271.56,100.86 271.89,99.98 272.21,99.04 272.54,98.03 272.86,96.97 273.19,95.89 273.51,94.82 273.84,93.82 274.16,92.98 274.49,92.42 274.81,92.24 275.14,92.57 275.46,93.47 275.79,94.92 276.11,96.86 276.44,99.1 276.76,101.48 277.09,103.81 277.41,105.97 277.74,107.89 278.06,109.55 278.39,110.94 278.71,112.09 279.04,113.03 279.36,113.79 279.69,114.41 280.01,114.9 280.34,115.29 280.66,115.6 280.99,115.85 281.32,116.04 281.64,116.19 281.97,116.3 282.29,116.39 282.62,116.46 282.94,116.5 283.27,116.54 283.59,116.56 283.92,116.56 284.24,116.57 284.57,116.56 284.89,116.55 285.22,116.54 285.54,116.52 285.87,116.5 286.19,116.47 286.52,116.45 286.84,116.42 287.17,116.39 287.49,116.37 287.82,116.34 288.14,116.31 288.47,116.28 288.79,116.25 289.12,116.22 289.44,116.19 289.77,116.17 290.09,116.14 290.42,116.11 290.74,116.08 291.07,116.05 291.39,116.03 291.72,116 292.04,115.98 292.37,115.95 292.69,115.92 293.02,115.9 293.34,115.88 293.67,115.85 293.99,115.83 294.32,115.81 294.64,115.78 294.97,115.76 295.29,115.74 295.62,115.72 295.94,115.7 296.27,115.68 296.59,115.66 296.92,115.64 297.24,115.62 297.57,115.6 297.89,115.58 298.22,115.57 298.54,115.55 298.87,115.53 299.19,115.51 299.52,115.5 299.84,115.48 300.17,115.47 300.49,115.45 300.82,115.43 301.14,115.42 301.47,115.41 301.79,115.39 302.12,115.38 302.44,115.36 302.77,115.35 303.09,115.34 303.42,115.32 303.74,115.31 304.07,115.3 304.39,115.28 304.72,115.27 305.04,115.26 305.37,115.25 305.69,115.24 306.02,115.23 306.34,115.21 306.67,115.2 306.99,115.19 307.32,115.18 307.65,115.17 307.97,115.16 308.3,115.15 308.62,115.14 308.95,115.13 309.27,115.12 309.6,115.11 309.92,115.1 310.25,115.09 310.57,115.09 310.9,115.08 311.22,115.07 311.55,115.06 311.87,115.05 312.2,115.04 312.52,115.03 312.85,115.03 313.17,115.02 313.5,115.01 313.82,115 314.15,114.99 314.47,114.99 314.8,114.98 315.12,114.97 315.45,114.97 315.77,114.96 316.1,114.95 316.42,114.94 316.75,114.94 317.07,114.93 317.4,114.92 317.72,114.92 318.05,114.91 318.37,114.9 318.7,114.9 319.02,114.89 319.35,114.89 319.67,114.88 320,114.87 320.32,114.87 320.65,114.86 320.97,114.86 321.3,114.85 321.62,114.85 321.95,114.84 322.27,114.83 322.6,114.83 322.92,114.82 323.25,114.82 323.57,114.81 323.9,114.81 324.22,114.8 324.55,114.8 324.87,114.79 325.2,114.79 325.52,114.78 325.85,114.78 326.17,114.77 326.5,114.77 326.82,114.76 327.15,114.76 327.47,114.76 327.8,114.75 328.12,114.75 328.45,114.74 328.77,114.74 329.1,114.73 329.42,114.73 329.75,114.73 330.07,114.72 330.4,114.72 330.72,114.71 331.05,114.71 331.37,114.71 331.7,114.7 332.02,114.7 332.35,114.69 332.67,114.69 333,114.69" fill="none" stroke="#ff7f0e" stroke-width="1.45" stroke-dasharray="4.8 2.4"/>
<rect x="203.3" y="62.87" width="129.7" height="60.07" fill="none" stroke="#000" stroke-width="1.11"/>
<line x1="198.74" y1="116.93" x2="203.3" y2="116.93" stroke="#000" stroke-width="1.11"/>
<text x="197.2" y="121.03" font-size="10" text-anchor="end" textLength="15.46" lengthAdjust="spacingAndGlyphs">0.0</text>
<line x1="202" y1="110.92" x2="204.6" y2="110.92" stroke="#000" stroke-width="0.83"/>
<line x1="202" y1="104.91" x2="204.6" y2="104.91" stroke="#000" stroke-width="0.83"/>
<line x1="202" y1="98.91" x2="204.6" y2="98.91" stroke="#000" stroke-width="0.83"/>
<line x1="202" y1="92.9" x2="204.6" y2="92.9" stroke="#000" stroke-width="0.83"/>
<line x1="198.74" y1="86.89" x2="203.3" y2="86.89" stroke="#000" stroke-width="1.11"/>
<text x="197.2" y="90.99" font-size="10" text-anchor="end" textLength="15.46" lengthAdjust="spacingAndGlyphs">0.5</text>
<line x1="202" y1="80.89" x2="204.6" y2="80.89" stroke="#000" stroke-width="0.83"/>
<line x1="202" y1="74.88" x2="204.6" y2="74.88" stroke="#000" stroke-width="0.83"/>
<line x1="202" y1="68.87" x2="204.6" y2="68.87" stroke="#000" stroke-width="0.83"/>
<line x1="219.51" y1="120.5" x2="219.51" y2="125.36" stroke="#000" stroke-width="1.11"/>
<line x1="235.73" y1="121.73" x2="235.73" y2="124.13" stroke="#000" stroke-width="0.83"/>
<line x1="251.94" y1="120.5" x2="251.94" y2="125.36" stroke="#000" stroke-width="1.11"/>
<line x1="268.15" y1="121.73" x2="268.15" y2="124.13" stroke="#000" stroke-width="0.83"/>
<line x1="284.36" y1="120.5" x2="284.36" y2="125.36" stroke="#000" stroke-width="1.11"/>
<line x1="300.58" y1="121.73" x2="300.58" y2="124.13" stroke="#000" stroke-width="0.83"/>
<line x1="316.79" y1="120.5" x2="316.79" y2="125.36" stroke="#000" stroke-width="1.11"/>
<text x="207.8" y="80.67" font-size="12" text-anchor="start" textLength="14.76" lengthAdjust="spacingAndGlyphs">(c)</text>
<text x="325.6" y="80.77" font-size="10" text-anchor="end" textLength="36.4" lengthAdjust="spacingAndGlyphs"><tspan font-style="italic">q</tspan> = -2.9</text>
<text x="325.4" y="91.67" font-size="10" text-anchor="end" textLength="35.9" lengthAdjust="spacingAndGlyphs"><tspan font-style="italic">a</tspan> = &#160;0.5</text>
<polyline points="203.3,170.31 204.11,170.32 204.92,170.17 205.73,170.21 206.54,170.31 207.35,170.09 208.16,170.1 208.97,170.16 209.78,170.14 210.6,170.09 211.41,170.14 212.22,170.17 213.03,170.03 213.84,170.13 214.65,169.98 215.46,170.09 216.27,169.98 217.08,169.96 217.89,169.8 218.7,169.98 219.51,169.98 220.32,169.9 221.13,169.91 221.94,169.85 222.75,169.75 223.57,169.69 224.38,169.6 225.19,169.74 226,169.47 226.81,169.49 227.62,169.61 228.43,169.73 229.24,169.53 230.05,169.49 230.86,169.62 231.67,169.41 232.48,169.39 233.29,169.39 234.1,169.24 234.91,169.17 235.73,169.23 236.54,169.13 237.35,169.14 238.16,169.09 238.97,168.97 239.78,168.88 240.59,168.9 241.4,168.95 242.21,168.68 243.02,168.76 243.83,168.56 244.64,168.36 245.45,168.4 246.26,168.4 247.07,168.32 247.88,168.03 248.7,168 249.51,167.85 250.32,167.69 251.13,167.63 251.94,167.51 252.75,167.4 253.56,167.38 254.37,167.09 255.18,166.79 255.99,166.59 256.8,166.31 257.61,166.1 258.42,165.8 259.23,165.44 260.04,165.22 260.85,164.79 261.66,164.45 262.48,163.78 263.29,163.29 264.1,162.62 264.91,161.81 265.72,160.99 266.53,160.06 267.34,158.8 268.15,157.51 268.96,155.61 269.77,153.46 270.58,150.89 271.39,147.31 272.2,143.32 273.01,138.4 273.82,133.7 274.63,130.84 275.45,133.17 276.26,141.83 277.07,152.94 277.88,162.18 278.69,168.38 279.5,172.25 280.31,174.43 281.12,175.55 281.93,176.42 282.74,176.57 283.55,176.73 284.36,176.6 285.17,176.59 285.98,176.5 286.79,176.31 287.6,176.25 288.42,175.99 289.23,175.89 290.04,175.72 290.85,175.61 291.66,175.36 292.47,175.3 293.28,175.13 294.09,175.02 294.9,175 295.71,174.8 296.52,174.71 297.33,174.62 298.14,174.58 298.95,174.5 299.76,174.33 300.57,174.15 301.39,174.3 302.2,174.13 303.01,174.13 303.82,173.98 304.63,173.94 305.44,173.84 306.25,174.06 307.06,173.85 307.87,173.83 308.68,173.72 309.49,173.71 310.3,173.66 311.11,173.52 311.92,173.39 312.73,173.69 313.54,173.47 314.36,173.39 315.17,173.38 315.98,173.37 316.79,173.41 317.6,173.35 318.41,173.19 319.22,173.14 320.03,173.18 320.84,173.22 321.65,173.13 322.46,173.12 323.27,173.04 324.08,173.05 324.89,173.08 325.7,172.99 326.51,173.07 327.33,172.9 328.14,172.86 328.95,173.01 329.76,172.87 330.57,172.95 331.38,172.78 332.19,172.78 333,172.84" fill="none" stroke="#1f77b4" stroke-width="1.45" stroke-linejoin="round"/>
<polyline points="203.3,170.25 203.63,170.24 203.95,170.23 204.28,170.23 204.6,170.22 204.93,170.22 205.25,170.21 205.58,170.21 205.9,170.2 206.23,170.19 206.55,170.19 206.88,170.18 207.2,170.17 207.53,170.17 207.85,170.16 208.18,170.16 208.5,170.15 208.83,170.14 209.15,170.14 209.48,170.13 209.8,170.12 210.13,170.11 210.45,170.11 210.78,170.1 211.1,170.09 211.43,170.09 211.75,170.08 212.08,170.07 212.4,170.06 212.73,170.06 213.05,170.05 213.38,170.04 213.7,170.03 214.03,170.03 214.35,170.02 214.68,170.01 215,170 215.33,169.99 215.65,169.99 215.98,169.98 216.3,169.97 216.63,169.96 216.95,169.95 217.28,169.94 217.6,169.93 217.93,169.92 218.25,169.92 218.58,169.91 218.9,169.9 219.23,169.89 219.55,169.88 219.88,169.87 220.2,169.86 220.53,169.85 220.85,169.84 221.18,169.83 221.5,169.82 221.83,169.81 222.15,169.8 222.48,169.79 222.8,169.78 223.13,169.76 223.45,169.75 223.78,169.74 224.1,169.73 224.43,169.72 224.75,169.71 225.08,169.7 225.4,169.68 225.73,169.67 226.05,169.66 226.38,169.65 226.7,169.63 227.03,169.62 227.35,169.61 227.68,169.59 228,169.58 228.33,169.57 228.65,169.55 228.98,169.54 229.31,169.53 229.63,169.51 229.96,169.5 230.28,169.48 230.61,169.47 230.93,169.45 231.26,169.44 231.58,169.42 231.91,169.4 232.23,169.39 232.56,169.37 232.88,169.35 233.21,169.34 233.53,169.32 233.86,169.3 234.18,169.28 234.51,169.26 234.83,169.25 235.16,169.23 235.48,169.21 235.81,169.19 236.13,169.17 236.46,169.15 236.78,169.13 237.11,169.11 237.43,169.09 237.76,169.06 238.08,169.04 238.41,169.02 238.73,169 239.06,168.97 239.38,168.95 239.71,168.92 240.03,168.9 240.36,168.87 240.68,168.85 241.01,168.82 241.33,168.8 241.66,168.77 241.98,168.74 242.31,168.71 242.63,168.68 242.96,168.65 243.28,168.62 243.61,168.59 243.93,168.56 244.26,168.53 244.58,168.49 244.91,168.46 245.23,168.43 245.56,168.39 245.88,168.35 246.21,168.32 246.53,168.28 246.86,168.24 247.18,168.2 247.51,168.16 247.83,168.12 248.16,168.07 248.48,168.03 248.81,167.99 249.13,167.94 249.46,167.89 249.78,167.84 250.11,167.79 250.43,167.74 250.76,167.69 251.08,167.63 251.41,167.58 251.73,167.52 252.06,167.46 252.38,167.4 252.71,167.34 253.03,167.27 253.36,167.2 253.68,167.14 254.01,167.06 254.33,166.99 254.66,166.91 254.98,166.84 255.31,166.75 255.64,166.67 255.96,166.58 256.29,166.49 256.61,166.4 256.94,166.3 257.26,166.2 257.59,166.1 257.91,165.99 258.24,165.88 258.56,165.76 258.89,165.63 259.21,165.51 259.54,165.37 259.86,165.23 260.19,165.09 260.51,164.94 260.84,164.78 261.16,164.61 261.49,164.44 261.81,164.25 262.14,164.06 262.46,163.86 262.79,163.65 263.11,163.42 263.44,163.18 263.76,162.93 264.09,162.67 264.41,162.39 264.74,162.09 265.06,161.77 265.39,161.43 265.71,161.07 266.04,160.69 266.36,160.28 266.69,159.84 267.01,159.37 267.34,158.86 267.66,158.31 267.99,157.72 268.31,157.08 268.64,156.39 268.96,155.64 269.29,154.82 269.61,153.93 269.94,152.96 270.26,151.9 270.59,150.75 270.91,149.48 271.24,148.1 271.56,146.6 271.89,144.97 272.21,143.21 272.54,141.34 272.86,139.38 273.19,137.37 273.51,135.41 273.84,133.59 274.16,132.09 274.49,131.12 274.81,130.89 275.14,131.61 275.46,133.39 275.79,136.23 276.11,139.95 276.44,144.23 276.76,148.73 277.09,153.13 277.41,157.19 277.74,160.79 278.06,163.88 278.39,166.47 278.71,168.6 279.04,170.33 279.36,171.73 279.69,172.85 280.01,173.74 280.34,174.45 280.66,175.01 280.99,175.44 281.32,175.78 281.64,176.04 281.97,176.24 282.29,176.39 282.62,176.49 282.94,176.56 283.27,176.61 283.59,176.63 283.92,176.63 284.24,176.62 284.57,176.6 284.89,176.57 285.22,176.53 285.54,176.49 285.87,176.44 286.19,176.39 286.52,176.34 286.84,176.28 287.17,176.22 287.49,176.16 287.82,176.1 288.14,176.04 288.47,175.98 288.79,175.92 289.12,175.86 289.44,175.8 289.77,175.75 290.09,175.69 290.42,175.63 290.74,175.58 291.07,175.52 291.39,175.47 291.72,175.41 292.04,175.36 292.37,175.31 292.69,175.26 293.02,175.21 293.34,175.16 293.67,175.11 293.99,175.07 294.32,175.02 294.64,174.98 294.97,174.93 295.29,174.89 295.62,174.85 295.94,174.81 296.27,174.77 296.59,174.73 296.92,174.69 297.24,174.65 297.57,174.62 297.89,174.58 298.22,174.55 298.54,174.51 298.87,174.48 299.19,174.44 299.52,174.41 299.84,174.38 300.17,174.35 300.49,174.32 300.82,174.29 301.14,174.26 301.47,174.23 301.79,174.2 302.12,174.17 302.44,174.15 302.77,174.12 303.09,174.09 303.42,174.07 303.74,174.04 304.07,174.02 304.39,173.99 304.72,173.97 305.04,173.95 305.37,173.92 305.69,173.9 306.02,173.88 306.34,173.86 306.67,173.83 306.99,173.81 307.32,173.79 307.65,173.77 307.97,173.75 308.3,173.73 308.62,173.71 308.95,173.69 309.27,173.67 309.6,173.66 309.92,173.64 310.25,173.62 310.57,173.6 310.9,173.58 311.22,173.57 311.55,173.55 311.87,173.53 312.2,173.52 312.52,173.5 312.85,173.49 313.17,173.47 313.5,173.45 313.82,173.44 314.15,173.42 314.47,173.41 314.8,173.4 315.12,173.38 315.45,173.37 315.77,173.35 316.1,173.34 316.42,173.33 316.75,173.31 317.07,173.3 317.4,173.29 317.72,173.27 318.05,173.26 318.37,173.25 318.7,173.24 319.02,173.22 319.35,173.21 319.67,173.2 320,173.19 320.32,173.18 320.65,173.17 320.97,173.16 321.3,173.14 321.62,173.13 321.95,173.12 322.27,173.11 322.6,173.1 322.92,173.09 323.25,173.08 323.57,173.07 323.9,173.06 324.22,173.05 324.55,173.04 324.87,173.03 325.2,173.02 325.52,173.01 325.85,173 326.17,172.99 326.5,172.99 326.82,172.98 327.15,172.97 327.47,172.96 327.8,172.95 328.12,172.94 328.45,172.93 328.77,172.92 329.1,172.92 329.42,172.91 329.75,172.9 330.07,172.89 330.4,172.88 330.72,172.88 331.05,172.87 331.37,172.86 331.7,172.85 332.02,172.85 332.35,172.84 332.67,172.83 333,172.82" fill="none" stroke="#ff7f0e" stroke-width="1.45" stroke-dasharray="4.8 2.4"/>
<rect x="203.3" y="122.93" width="129.7" height="60.07" fill="none" stroke="#000" stroke-width="1.11"/>
<line x1="198.74" y1="176.99" x2="203.3" y2="176.99" stroke="#000" stroke-width="1.11"/>
<text x="197.2" y="181.09" font-size="10" text-anchor="end" textLength="15.46" lengthAdjust="spacingAndGlyphs">0.0</text>
<line x1="202" y1="170.99" x2="204.6" y2="170.99" stroke="#000" stroke-width="0.83"/>
<line x1="202" y1="164.98" x2="204.6" y2="164.98" stroke="#000" stroke-width="0.83"/>
<line x1="202" y1="158.97" x2="204.6" y2="158.97" stroke="#000" stroke-width="0.83"/>
<line x1="202" y1="152.97" x2="204.6" y2="152.97" stroke="#000" stroke-width="0.83"/>
<line x1="198.74" y1="146.96" x2="203.3" y2="146.96" stroke="#000" stroke-width="1.11"/>
<text x="197.2" y="151.06" font-size="10" text-anchor="end" textLength="15.46" lengthAdjust="spacingAndGlyphs">0.5</text>
<line x1="202" y1="140.95" x2="204.6" y2="140.95" stroke="#000" stroke-width="0.83"/>
<line x1="202" y1="134.95" x2="204.6" y2="134.95" stroke="#000" stroke-width="0.83"/>
<line x1="202" y1="128.94" x2="204.6" y2="128.94" stroke="#000" stroke-width="0.83"/>
<line x1="219.51" y1="180.57" x2="219.51" y2="185.43" stroke="#000" stroke-width="1.11"/>
<line x1="235.73" y1="181.8" x2="235.73" y2="184.2" stroke="#000" stroke-width="0.83"/>
<line x1="251.94" y1="180.57" x2="251.94" y2="185.43" stroke="#000" stroke-width="1.11"/>
<line x1="268.15" y1="181.8" x2="268.15" y2="184.2" stroke="#000" stroke-width="0.83"/>
<line x1="284.36" y1="180.57" x2="284.36" y2="185.43" stroke="#000" stroke-width="1.11"/>
<line x1="300.58" y1="181.8" x2="300.58" y2="184.2" stroke="#000" stroke-width="0.83"/>
<line x1="316.79" y1="180.57" x2="316.79" y2="185.43" stroke="#000" stroke-width="1.11"/>
<text x="207.8" y="140.73" font-size="12" text-anchor="start" textLength="15.71" lengthAdjust="spacingAndGlyphs">(d)</text>
<text x="325.6" y="140.83" font-size="10" text-anchor="end" textLength="36.4" lengthAdjust="spacingAndGlyphs"><tspan font-style="italic">q</tspan> = -2.8</text>
<text x="325.4" y="151.73" font-size="10" text-anchor="end" textLength="35.9" lengthAdjust="spacingAndGlyphs"><tspan font-style="italic">a</tspan> = &#160;0.9</text>
<text x="219.51" y="198.9" font-size="10" text-anchor="middle" textLength="21.64" lengthAdjust="spacingAndGlyphs">59.8</text>
<text x="251.94" y="198.9" font-size="10" text-anchor="middle" textLength="21.64" lengthAdjust="spacingAndGlyphs">60.0</text>
<text x="284.36" y="198.9" font-size="10" text-anchor="middle" textLength="21.64" lengthAdjust="spacingAndGlyphs">60.2</text>
<text x="316.79" y="198.9" font-size="10" text-anchor="middle" textLength="21.64" lengthAdjust="spacingAndGlyphs">60.4</text>
<text x="268.2" y="209.9" font-size="10.35" text-anchor="middle" textLength="94.31" lengthAdjust="spacingAndGlyphs">Photon Energy (eV)</text>
<text x="179.1" y="92.9" font-size="10.35" text-anchor="middle" textLength="83.25" lengthAdjust="spacingAndGlyphs" transform="rotate(-90 179.1 92.9)">Absorbance (OD)</text>
<clipPath id="ce"><rect x="43.2" y="222.9" width="121.6" height="71.5"/></clipPath>
<g fill="#fff" stroke="#1f77b4" stroke-width="1.6" clip-path="url(#ce)"><circle cx="43.2" cy="237.09" r="1.7"/><circle cx="47.25" cy="237.14" r="1.7"/><circle cx="51.31" cy="237.2" r="1.7"/><circle cx="55.36" cy="237.26" r="1.7"/><circle cx="59.41" cy="237.31" r="1.7"/><circle cx="63.47" cy="237.37" r="1.7"/><circle cx="67.52" cy="237.43" r="1.7"/><circle cx="71.57" cy="237.48" r="1.7"/><circle cx="75.63" cy="237.54" r="1.7"/><circle cx="79.68" cy="237.6" r="1.7"/><circle cx="83.73" cy="237.65" r="1.7"/><circle cx="87.79" cy="237.71" r="1.7"/><circle cx="91.84" cy="237.77" r="1.7"/><circle cx="95.89" cy="237.82" r="1.7"/><circle cx="99.95" cy="237.88" r="1.7"/><circle cx="104" cy="237.94" r="1.7"/><circle cx="108.05" cy="237.99" r="1.7"/><circle cx="112.11" cy="238.05" r="1.7"/><circle cx="116.16" cy="238.11" r="1.7"/><circle cx="120.21" cy="238.16" r="1.7"/><circle cx="124.27" cy="238.22" r="1.7"/><circle cx="128.32" cy="238.28" r="1.7"/><circle cx="132.37" cy="238.34" r="1.7"/><circle cx="136.43" cy="238.39" r="1.7"/><circle cx="140.48" cy="238.45" r="1.7"/><circle cx="144.53" cy="238.51" r="1.7"/><circle cx="148.59" cy="238.56" r="1.7"/><circle cx="152.64" cy="238.62" r="1.7"/><circle cx="156.69" cy="238.68" r="1.7"/><circle cx="160.75" cy="238.73" r="1.7"/><circle cx="164.8" cy="238.79" r="1.7"/></g>
<rect x="43.2" y="222.9" width="121.6" height="71.5" fill="none" stroke="#000" stroke-width="1.11"/>
<line x1="38.34" y1="294.4" x2="43.2" y2="294.4" stroke="#000" stroke-width="1.11"/>
<text x="36.1" y="298" font-size="8.57" text-anchor="end" textLength="25.53" lengthAdjust="spacingAndGlyphs">−10.0</text>
<line x1="40.42" y1="290.43" x2="43.2" y2="290.43" stroke="#000" stroke-width="0.83"/>
<line x1="40.42" y1="286.46" x2="43.2" y2="286.46" stroke="#000" stroke-width="0.83"/>
<line x1="40.42" y1="282.48" x2="43.2" y2="282.48" stroke="#000" stroke-width="0.83"/>
<line x1="40.42" y1="278.51" x2="43.2" y2="278.51" stroke="#000" stroke-width="0.83"/>
<line x1="38.34" y1="274.54" x2="43.2" y2="274.54" stroke="#000" stroke-width="1.11"/>
<text x="36.1" y="278.14" font-size="8.57" text-anchor="end" textLength="20.23" lengthAdjust="spacingAndGlyphs">−7.5</text>
<line x1="40.42" y1="270.57" x2="43.2" y2="270.57" stroke="#000" stroke-width="0.83"/>
<line x1="40.42" y1="266.59" x2="43.2" y2="266.59" stroke="#000" stroke-width="0.83"/>
<line x1="40.42" y1="262.62" x2="43.2" y2="262.62" stroke="#000" stroke-width="0.83"/>
<line x1="40.42" y1="258.65" x2="43.2" y2="258.65" stroke="#000" stroke-width="0.83"/>
<line x1="38.34" y1="254.68" x2="43.2" y2="254.68" stroke="#000" stroke-width="1.11"/>
<text x="36.1" y="258.28" font-size="8.57" text-anchor="end" textLength="20.23" lengthAdjust="spacingAndGlyphs">−5.0</text>
<line x1="40.42" y1="250.71" x2="43.2" y2="250.71" stroke="#000" stroke-width="0.83"/>
<line x1="40.42" y1="246.73" x2="43.2" y2="246.73" stroke="#000" stroke-width="0.83"/>
<line x1="40.42" y1="242.76" x2="43.2" y2="242.76" stroke="#000" stroke-width="0.83"/>
<line x1="40.42" y1="238.79" x2="43.2" y2="238.79" stroke="#000" stroke-width="0.83"/>
<line x1="38.34" y1="234.82" x2="43.2" y2="234.82" stroke="#000" stroke-width="1.11"/>
<text x="36.1" y="238.42" font-size="8.57" text-anchor="end" textLength="20.23" lengthAdjust="spacingAndGlyphs">−2.5</text>
<line x1="40.42" y1="230.84" x2="43.2" y2="230.84" stroke="#000" stroke-width="0.83"/>
<line x1="40.42" y1="226.87" x2="43.2" y2="226.87" stroke="#000" stroke-width="0.83"/>
<line x1="40.42" y1="222.9" x2="43.2" y2="222.9" stroke="#000" stroke-width="0.83"/>
<line x1="43.2" y1="294.4" x2="43.2" y2="299.26" stroke="#000" stroke-width="1.11"/>
<text x="43.2" y="311.5" font-size="9.05" text-anchor="middle" textLength="5.6" lengthAdjust="spacingAndGlyphs">0</text>
<line x1="51.31" y1="294.4" x2="51.31" y2="297.18" stroke="#000" stroke-width="0.83"/>
<line x1="59.41" y1="294.4" x2="59.41" y2="297.18" stroke="#000" stroke-width="0.83"/>
<line x1="67.52" y1="294.4" x2="67.52" y2="297.18" stroke="#000" stroke-width="0.83"/>
<line x1="75.63" y1="294.4" x2="75.63" y2="297.18" stroke="#000" stroke-width="0.83"/>
<line x1="83.73" y1="294.4" x2="83.73" y2="299.26" stroke="#000" stroke-width="1.11"/>
<text x="83.73" y="311.5" font-size="9.05" text-anchor="middle" textLength="5.6" lengthAdjust="spacingAndGlyphs">5</text>
<line x1="91.84" y1="294.4" x2="91.84" y2="297.18" stroke="#000" stroke-width="0.83"/>
<line x1="99.95" y1="294.4" x2="99.95" y2="297.18" stroke="#000" stroke-width="0.83"/>
<line x1="108.05" y1="294.4" x2="108.05" y2="297.18" stroke="#000" stroke-width="0.83"/>
<line x1="116.16" y1="294.4" x2="116.16" y2="297.18" stroke="#000" stroke-width="0.83"/>
<line x1="124.27" y1="294.4" x2="124.27" y2="299.26" stroke="#000" stroke-width="1.11"/>
<text x="124.27" y="311.5" font-size="9.05" text-anchor="middle" textLength="11.2" lengthAdjust="spacingAndGlyphs">10</text>
<line x1="132.37" y1="294.4" x2="132.37" y2="297.18" stroke="#000" stroke-width="0.83"/>
<line x1="140.48" y1="294.4" x2="140.48" y2="297.18" stroke="#000" stroke-width="0.83"/>
<line x1="148.59" y1="294.4" x2="148.59" y2="297.18" stroke="#000" stroke-width="0.83"/>
<line x1="156.69" y1="294.4" x2="156.69" y2="297.18" stroke="#000" stroke-width="0.83"/>
<line x1="164.8" y1="294.4" x2="164.8" y2="299.26" stroke="#000" stroke-width="1.11"/>
<text x="164.8" y="311.5" font-size="9.05" text-anchor="middle" textLength="11.2" lengthAdjust="spacingAndGlyphs">15</text>
<g transform="translate(104.2 327.8) rotate(0)">
<text x="-39.94" y="0.6" font-size="10.35" text-anchor="start" textLength="65.57" lengthAdjust="spacingAndGlyphs">Fluence (J cm</text>
<text x="25.92" y="-2.9" font-size="7" text-anchor="start" textLength="10.03" lengthAdjust="spacingAndGlyphs">−2</text>
<text x="36.15" y="0.6" font-size="10.35" text-anchor="start" textLength="3.79" lengthAdjust="spacingAndGlyphs">)</text>
</g>
<text x="9.2" y="259.7" font-size="10.35" text-anchor="middle" textLength="60.25" lengthAdjust="spacingAndGlyphs" transform="rotate(-90 9.2 259.7)">q-Parameter</text>
<text x="-0.3" y="220.4" font-size="12" text-anchor="start" textLength="15.49" lengthAdjust="spacingAndGlyphs">(e)</text>
<clipPath id="cf"><rect x="207.8" y="222.9" width="121.8" height="71.5"/></clipPath>
<path d="M205.7 227.3L209.9 231.5M205.7 231.5L209.9 227.3M209.76 230.22L213.96 234.42M209.76 234.42L213.96 230.22M213.82 233.15L218.02 237.35M213.82 237.35L218.02 233.15M217.88 236.08L222.08 240.28M217.88 240.28L222.08 236.08M221.94 239L226.14 243.2M221.94 243.2L226.14 239M226 241.03L230.2 245.23M226 245.23L230.2 241.03M230.06 243.06L234.26 247.26M230.06 247.26L234.26 243.06M234.12 245.09L238.32 249.29M234.12 249.29L238.32 245.09M238.18 247.12L242.38 251.32M238.18 251.32L242.38 247.12M242.24 248.85L246.44 253.05M242.24 253.05L246.44 248.85M246.3 250.42L250.5 254.62M246.3 254.62L250.5 250.42M250.36 251.99L254.56 256.19M250.36 256.19L254.56 251.99M254.42 253.57L258.62 257.77M254.42 257.77L258.62 253.57M258.48 255.14L262.68 259.34M258.48 259.34L262.68 255.14M262.54 256.72L266.74 260.92M262.54 260.92L266.74 256.72M266.6 258.12L270.8 262.32M266.6 262.32L270.8 258.12M270.66 259.51L274.86 263.71M270.66 263.71L274.86 259.51M274.72 260.9L278.92 265.11M274.72 265.11L278.92 260.9M278.78 262.3L282.98 266.5M278.78 266.5L282.98 262.3M282.84 263.69L287.04 267.89M282.84 267.89L287.04 263.69M286.9 265.05L291.1 269.25M286.9 269.25L291.1 265.05M290.96 265.82L295.16 270.02M290.96 270.02L295.16 265.82M295.02 266.59L299.22 270.79M295.02 270.79L299.22 266.59M299.08 267.37L303.28 271.57M299.08 271.57L303.28 267.37M303.14 268.14L307.34 272.34M303.14 272.34L307.34 268.14M307.2 268.92L311.4 273.12M307.2 273.12L311.4 268.92M311.26 269.69L315.46 273.89M311.26 273.89L315.46 269.69M315.32 270.46L319.52 274.66M315.32 274.66L319.52 270.46M319.38 271.24L323.58 275.44M319.38 275.44L323.58 271.24M323.44 272.01L327.64 276.21M323.44 276.21L327.64 272.01M327.5 272.6L331.7 276.81M327.5 276.81L331.7 272.6" stroke="#1f77b4" stroke-width="1.35" fill="none" clip-path="url(#cf)"/>
<rect x="207.8" y="222.9" width="121.8" height="71.5" fill="none" stroke="#000" stroke-width="1.11"/>
<line x1="202.94" y1="294.4" x2="207.8" y2="294.4" stroke="#000" stroke-width="1.11"/>
<text x="202.5" y="298" font-size="8.57" text-anchor="end" textLength="13.25" lengthAdjust="spacingAndGlyphs">0.0</text>
<line x1="205.02" y1="287.9" x2="207.8" y2="287.9" stroke="#000" stroke-width="0.83"/>
<line x1="205.02" y1="281.4" x2="207.8" y2="281.4" stroke="#000" stroke-width="0.83"/>
<line x1="205.02" y1="274.9" x2="207.8" y2="274.9" stroke="#000" stroke-width="0.83"/>
<line x1="205.02" y1="268.4" x2="207.8" y2="268.4" stroke="#000" stroke-width="0.83"/>
<line x1="202.94" y1="261.9" x2="207.8" y2="261.9" stroke="#000" stroke-width="1.11"/>
<text x="202.5" y="265.5" font-size="8.57" text-anchor="end" textLength="13.25" lengthAdjust="spacingAndGlyphs">0.5</text>
<line x1="205.02" y1="255.4" x2="207.8" y2="255.4" stroke="#000" stroke-width="0.83"/>
<line x1="205.02" y1="248.9" x2="207.8" y2="248.9" stroke="#000" stroke-width="0.83"/>
<line x1="205.02" y1="242.4" x2="207.8" y2="242.4" stroke="#000" stroke-width="0.83"/>
<line x1="205.02" y1="235.9" x2="207.8" y2="235.9" stroke="#000" stroke-width="0.83"/>
<line x1="202.94" y1="229.4" x2="207.8" y2="229.4" stroke="#000" stroke-width="1.11"/>
<text x="202.5" y="233" font-size="8.57" text-anchor="end" textLength="13.25" lengthAdjust="spacingAndGlyphs">1.0</text>
<line x1="207.8" y1="294.4" x2="207.8" y2="299.26" stroke="#000" stroke-width="1.11"/>
<text x="207.8" y="311.5" font-size="9.05" text-anchor="middle" textLength="5.6" lengthAdjust="spacingAndGlyphs">0</text>
<line x1="215.92" y1="294.4" x2="215.92" y2="297.18" stroke="#000" stroke-width="0.83"/>
<line x1="224.04" y1="294.4" x2="224.04" y2="297.18" stroke="#000" stroke-width="0.83"/>
<line x1="232.16" y1="294.4" x2="232.16" y2="297.18" stroke="#000" stroke-width="0.83"/>
<line x1="240.28" y1="294.4" x2="240.28" y2="297.18" stroke="#000" stroke-width="0.83"/>
<line x1="248.4" y1="294.4" x2="248.4" y2="299.26" stroke="#000" stroke-width="1.11"/>
<text x="248.4" y="311.5" font-size="9.05" text-anchor="middle" textLength="5.6" lengthAdjust="spacingAndGlyphs">5</text>
<line x1="256.52" y1="294.4" x2="256.52" y2="297.18" stroke="#000" stroke-width="0.83"/>
<line x1="264.64" y1="294.4" x2="264.64" y2="297.18" stroke="#000" stroke-width="0.83"/>
<line x1="272.76" y1="294.4" x2="272.76" y2="297.18" stroke="#000" stroke-width="0.83"/>
<line x1="280.88" y1="294.4" x2="280.88" y2="297.18" stroke="#000" stroke-width="0.83"/>
<line x1="289" y1="294.4" x2="289" y2="299.26" stroke="#000" stroke-width="1.11"/>
<text x="289" y="311.5" font-size="9.05" text-anchor="middle" textLength="11.2" lengthAdjust="spacingAndGlyphs">10</text>
<line x1="297.12" y1="294.4" x2="297.12" y2="297.18" stroke="#000" stroke-width="0.83"/>
<line x1="305.24" y1="294.4" x2="305.24" y2="297.18" stroke="#000" stroke-width="0.83"/>
<line x1="313.36" y1="294.4" x2="313.36" y2="297.18" stroke="#000" stroke-width="0.83"/>
<line x1="321.48" y1="294.4" x2="321.48" y2="297.18" stroke="#000" stroke-width="0.83"/>
<line x1="329.6" y1="294.4" x2="329.6" y2="299.26" stroke="#000" stroke-width="1.11"/>
<text x="329.6" y="311.5" font-size="9.05" text-anchor="middle" textLength="11.2" lengthAdjust="spacingAndGlyphs">15</text>
<g transform="translate(268.4 327.8) rotate(0)">
<text x="-39.94" y="0.6" font-size="10.35" text-anchor="start" textLength="65.57" lengthAdjust="spacingAndGlyphs">Fluence (J cm</text>
<text x="25.92" y="-2.9" font-size="7" text-anchor="start" textLength="10.03" lengthAdjust="spacingAndGlyphs">−2</text>
<text x="36.15" y="0.6" font-size="10.35" text-anchor="start" textLength="3.79" lengthAdjust="spacingAndGlyphs">)</text>
</g>
<text x="187.2" y="258.6" font-size="10.35" text-anchor="middle" textLength="49.81" lengthAdjust="spacingAndGlyphs" transform="rotate(-90 187.2 258.6)">Amplitude</text>
<text x="171.2" y="221" font-size="12" text-anchor="start" textLength="12.57" lengthAdjust="spacingAndGlyphs">(f)</text>
</svg>
</body></html>
